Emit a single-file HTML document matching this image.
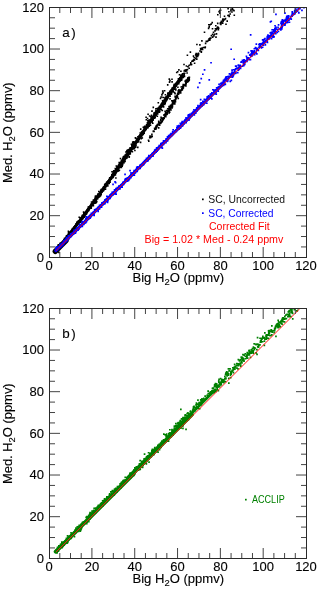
<!DOCTYPE html>
<html><head><meta charset="utf-8"><style>
html,body{margin:0;padding:0;background:#fff;}
body{width:320px;height:589px;overflow:hidden;}
svg{display:block;font-family:"Liberation Sans",sans-serif;will-change:transform;}
.tk{font-size:13px;fill:#000;stroke:#000;stroke-width:0.12px;}
.lb{font-size:12.5px;fill:#000;stroke:#000;stroke-width:0.12px;}
.sub{font-size:9px;}
.pl{font-size:13.4px;fill:#000;stroke:#000;stroke-width:0.12px;}
.lg{font-size:10.5px;}
</style></head><body>
<svg width="320" height="589" viewBox="0 0 320 589">
<defs><clipPath id="ca"><rect x="50" y="8" width="256" height="249"/></clipPath><clipPath id="cb"><rect x="50" y="309" width="256" height="249"/></clipPath></defs>
<g clip-path="url(#ca)">
<path d="M55.5 251 L60 246 L64.5 241 L65 240 L68.1 236 L71.2 232 L74.3 228 L77.4 224 L80.4 220 L83.4 216 L86.4 212 L89.4 208 L92.3 204 L95.2 200 L98.2 196 L101.1 192 L103.9 188 L106.8 184 L109.6 180 L112.5 176 L115.3 172" stroke="#000" stroke-width="3" fill="none" stroke-linecap="round"/>
<path d="M55.3 251.3L66 240.6" stroke="#000" stroke-width="5.4" fill="none" stroke-linecap="round"/>
<path d="M163 118.5 L168.8 110 L174.3 101 L180 91 L185 84" stroke="#000" stroke-width="1.0" fill="none" stroke-linecap="round"/>
<path d="M112.5 176 L115.3 172 L118.1 168 L120.9 164 L123.7 160 L126.5 156 L129.3 152 L132.1 148 L134.8 144 L137.6 140 L140.4 136 L143.1 132 L145.9 128 L148.7 124 L151.4 120 L154.2 116 L157 112 L159.8 108 L162.6 104 L165.3 100 L168.1 96 L170.9 92 L173.8 88 L176.6 84 L179.4 80 L182.3 76" stroke="#000" stroke-width="3.2" fill="none" stroke-linecap="round"/>
<path d="M136.8 141.3h1.6v1.6h-1.6zM144.8 126.6h1.6v1.6h-1.6zM88.3 205.9h1.6v1.6h-1.6zM71.8 227.7h1.6v1.6h-1.6zM72 229.1h1.6v1.6h-1.6zM84 212.9h1.6v1.6h-1.6zM149.1 122h1.6v1.6h-1.6zM61.2 243.8h1.6v1.6h-1.6zM132.4 142.7h1.6v1.6h-1.6zM143.8 128.8h1.6v1.6h-1.6zM139.8 141.6h1.6v1.6h-1.6zM112.1 174.5h1.6v1.6h-1.6zM107.6 181.1h1.6v1.6h-1.6zM54.2 249.5h1.6v1.6h-1.6zM68.8 233.4h1.6v1.6h-1.6zM70.9 229.6h1.6v1.6h-1.6zM77.2 222.7h1.6v1.6h-1.6zM195.8 55.8h1.6v1.6h-1.6zM154.7 114.5h1.6v1.6h-1.6zM80.4 220.2h1.6v1.6h-1.6zM76.9 223h1.6v1.6h-1.6zM110.7 177.6h1.6v1.6h-1.6zM94.3 200.6h1.6v1.6h-1.6zM73.1 226.3h1.6v1.6h-1.6zM94.3 199.6h1.6v1.6h-1.6zM108.3 178.8h1.6v1.6h-1.6zM72 229.3h1.6v1.6h-1.6zM123.2 161.5h1.6v1.6h-1.6zM157 110.5h1.6v1.6h-1.6zM101 190.9h1.6v1.6h-1.6zM91.9 204.1h1.6v1.6h-1.6zM129.6 147.7h1.6v1.6h-1.6zM62.6 241.6h1.6v1.6h-1.6zM102.9 189.6h1.6v1.6h-1.6zM161.2 105.4h1.6v1.6h-1.6zM68.9 235h1.6v1.6h-1.6zM153.6 113.7h1.6v1.6h-1.6zM217 26.3h1.6v1.6h-1.6zM57.8 246.3h1.6v1.6h-1.6zM87.7 208.6h1.6v1.6h-1.6zM155.1 110.1h1.6v1.6h-1.6zM82.1 218h1.6v1.6h-1.6zM57.8 245.8h1.6v1.6h-1.6zM57.5 244.1h1.6v1.6h-1.6zM139.4 132.2h1.6v1.6h-1.6zM71.4 234.5h1.6v1.6h-1.6zM120 166.6h1.6v1.6h-1.6zM128.6 148.6h1.6v1.6h-1.6zM164.3 97.1h1.6v1.6h-1.6zM69.7 231.3h1.6v1.6h-1.6zM183.3 72.4h1.6v1.6h-1.6zM132.5 142.7h1.6v1.6h-1.6zM71.6 231.4h1.6v1.6h-1.6zM141 133.7h1.6v1.6h-1.6zM163.6 100.5h1.6v1.6h-1.6zM109.8 178.1h1.6v1.6h-1.6zM93.1 202.7h1.6v1.6h-1.6zM133.2 142.7h1.6v1.6h-1.6zM114.4 171.8h1.6v1.6h-1.6zM159.2 108.9h1.6v1.6h-1.6zM81 218.7h1.6v1.6h-1.6zM104.3 183.2h1.6v1.6h-1.6zM135.7 141.2h1.6v1.6h-1.6zM112.8 175h1.6v1.6h-1.6zM69.2 233h1.6v1.6h-1.6zM110.9 176h1.6v1.6h-1.6zM58.4 245.8h1.6v1.6h-1.6zM201.5 47.8h1.6v1.6h-1.6zM80.7 216.7h1.6v1.6h-1.6zM175 82.7h1.6v1.6h-1.6zM140.8 135.7h1.6v1.6h-1.6zM181 76h1.6v1.6h-1.6zM104.4 184.9h1.6v1.6h-1.6zM162.6 99.7h1.6v1.6h-1.6zM126 155.5h1.6v1.6h-1.6zM79 219.6h1.6v1.6h-1.6zM124 160.2h1.6v1.6h-1.6zM168.9 90.6h1.6v1.6h-1.6zM96 200.8h1.6v1.6h-1.6zM150 119.5h1.6v1.6h-1.6zM113.4 173.6h1.6v1.6h-1.6zM70.1 230.6h1.6v1.6h-1.6zM152.4 116.2h1.6v1.6h-1.6zM197.8 52.8h1.6v1.6h-1.6zM195.3 54.4h1.6v1.6h-1.6zM82.1 217.9h1.6v1.6h-1.6zM147.6 125.3h1.6v1.6h-1.6zM222.2 18.2h1.6v1.6h-1.6zM95.4 197.4h1.6v1.6h-1.6zM112.5 176.2h1.6v1.6h-1.6zM94.1 201.3h1.6v1.6h-1.6zM156.3 110.6h1.6v1.6h-1.6zM150 119.8h1.6v1.6h-1.6zM126.8 153.4h1.6v1.6h-1.6zM154.6 113.2h1.6v1.6h-1.6zM150.3 119h1.6v1.6h-1.6zM104.6 186.2h1.6v1.6h-1.6zM140.7 135.2h1.6v1.6h-1.6zM90.6 205.1h1.6v1.6h-1.6zM192.3 59.8h1.6v1.6h-1.6zM90.6 204h1.6v1.6h-1.6zM118.3 164.1h1.6v1.6h-1.6zM75.2 226.1h1.6v1.6h-1.6zM101.3 190.8h1.6v1.6h-1.6zM148.5 120.8h1.6v1.6h-1.6zM149.7 122h1.6v1.6h-1.6zM92.1 201.4h1.6v1.6h-1.6zM205.5 40.6h1.6v1.6h-1.6zM112.6 175h1.6v1.6h-1.6zM215.2 36.3h1.6v1.6h-1.6zM98.8 193.2h1.6v1.6h-1.6zM194.8 57.7h1.6v1.6h-1.6zM127.9 153.4h1.6v1.6h-1.6zM227.1 14.7h1.6v1.6h-1.6zM143.5 126.4h1.6v1.6h-1.6zM89.8 205.4h1.6v1.6h-1.6zM74.1 224.9h1.6v1.6h-1.6zM155.4 111.5h1.6v1.6h-1.6zM90.1 207.3h1.6v1.6h-1.6zM216.9 22.6h1.6v1.6h-1.6zM65.7 235.1h1.6v1.6h-1.6zM114.4 171.9h1.6v1.6h-1.6zM146.5 125h1.6v1.6h-1.6zM88.4 207.3h1.6v1.6h-1.6zM185.6 69.9h1.6v1.6h-1.6zM146.7 126.1h1.6v1.6h-1.6zM165.3 96.2h1.6v1.6h-1.6zM101.7 188.2h1.6v1.6h-1.6zM189.9 63.4h1.6v1.6h-1.6zM116.4 167.8h1.6v1.6h-1.6zM56.3 247.3h1.6v1.6h-1.6zM96.8 194.4h1.6v1.6h-1.6zM171.9 87.3h1.6v1.6h-1.6zM148.6 119.9h1.6v1.6h-1.6zM228.1 11h1.6v1.6h-1.6zM101.2 188.4h1.6v1.6h-1.6zM64.4 238.5h1.6v1.6h-1.6zM101.1 190.5h1.6v1.6h-1.6zM153.8 117.3h1.6v1.6h-1.6zM197.6 52.5h1.6v1.6h-1.6zM162.8 106.1h1.6v1.6h-1.6zM85.1 212.8h1.6v1.6h-1.6zM86.1 210.1h1.6v1.6h-1.6zM148.4 122.1h1.6v1.6h-1.6zM120.2 161.7h1.6v1.6h-1.6zM105.9 181.9h1.6v1.6h-1.6zM108.8 179.3h1.6v1.6h-1.6zM84.2 213.4h1.6v1.6h-1.6zM125.1 156.1h1.6v1.6h-1.6zM68.6 233h1.6v1.6h-1.6zM132.6 146.8h1.6v1.6h-1.6zM147.9 123h1.6v1.6h-1.6zM161 102.6h1.6v1.6h-1.6zM92 201.5h1.6v1.6h-1.6zM147.5 121h1.6v1.6h-1.6zM136.8 140.2h1.6v1.6h-1.6zM158.3 108.6h1.6v1.6h-1.6zM183.4 70.2h1.6v1.6h-1.6zM76.5 223.7h1.6v1.6h-1.6zM118.5 162.8h1.6v1.6h-1.6zM159.7 106.1h1.6v1.6h-1.6zM100.1 190.5h1.6v1.6h-1.6zM62.6 241.3h1.6v1.6h-1.6zM166.2 99h1.6v1.6h-1.6zM152.3 119.4h1.6v1.6h-1.6zM153.4 116.8h1.6v1.6h-1.6zM122.4 160.4h1.6v1.6h-1.6zM69.6 233.4h1.6v1.6h-1.6zM190 62.1h1.6v1.6h-1.6zM114.1 172.2h1.6v1.6h-1.6zM133.1 147.9h1.6v1.6h-1.6zM70.5 232.6h1.6v1.6h-1.6zM154.7 112.7h1.6v1.6h-1.6zM191.1 60.4h1.6v1.6h-1.6zM94.7 199.9h1.6v1.6h-1.6zM106.8 182.7h1.6v1.6h-1.6zM119.2 163.8h1.6v1.6h-1.6zM112.8 174.1h1.6v1.6h-1.6zM100 190.7h1.6v1.6h-1.6zM126.7 155.2h1.6v1.6h-1.6zM91.2 204.2h1.6v1.6h-1.6zM86.9 207.9h1.6v1.6h-1.6zM211.9 36.3h1.6v1.6h-1.6zM151.7 118h1.6v1.6h-1.6zM195.4 52.8h1.6v1.6h-1.6zM70.5 230.4h1.6v1.6h-1.6zM71.6 231h1.6v1.6h-1.6zM170.8 92.8h1.6v1.6h-1.6zM94.4 197h1.6v1.6h-1.6zM125.6 154.9h1.6v1.6h-1.6zM142.6 130.2h1.6v1.6h-1.6zM146.6 121.9h1.6v1.6h-1.6zM130.2 148.5h1.6v1.6h-1.6zM119.7 157.7h1.6v1.6h-1.6zM92.2 201.4h1.6v1.6h-1.6zM67.8 237.9h1.6v1.6h-1.6zM76.5 223.4h1.6v1.6h-1.6zM66.4 235.6h1.6v1.6h-1.6zM158.8 108.3h1.6v1.6h-1.6zM89.1 206.6h1.6v1.6h-1.6zM97.7 193.9h1.6v1.6h-1.6zM88.9 206.2h1.6v1.6h-1.6zM86.6 209.2h1.6v1.6h-1.6zM103.3 188.6h1.6v1.6h-1.6zM151.4 116.6h1.6v1.6h-1.6zM64.5 238.9h1.6v1.6h-1.6zM148.3 121.7h1.6v1.6h-1.6zM173.9 91.8h1.6v1.6h-1.6zM56.2 247.1h1.6v1.6h-1.6zM85 213.7h1.6v1.6h-1.6zM113.8 173.3h1.6v1.6h-1.6zM103 186.1h1.6v1.6h-1.6zM84.2 215.6h1.6v1.6h-1.6zM70.5 231.1h1.6v1.6h-1.6zM180.3 74.6h1.6v1.6h-1.6zM217.5 27h1.6v1.6h-1.6zM199.8 47.8h1.6v1.6h-1.6zM84 212.9h1.6v1.6h-1.6zM112 175.9h1.6v1.6h-1.6zM138.7 137.2h1.6v1.6h-1.6zM120.6 164.1h1.6v1.6h-1.6zM138 138.7h1.6v1.6h-1.6zM57.1 247.3h1.6v1.6h-1.6zM154.3 112.5h1.6v1.6h-1.6zM56.9 248h1.6v1.6h-1.6zM163.3 99.7h1.6v1.6h-1.6zM122.4 159.4h1.6v1.6h-1.6zM126.3 156.1h1.6v1.6h-1.6zM101.8 188.9h1.6v1.6h-1.6zM181.8 73h1.6v1.6h-1.6zM201.2 48.6h1.6v1.6h-1.6zM88.4 207.8h1.6v1.6h-1.6zM72.1 229.4h1.6v1.6h-1.6zM128.4 152.2h1.6v1.6h-1.6zM146.1 126.1h1.6v1.6h-1.6zM122.6 155.9h1.6v1.6h-1.6zM127.7 149.8h1.6v1.6h-1.6zM59 246.5h1.6v1.6h-1.6zM117.5 168.4h1.6v1.6h-1.6zM146.2 126.9h1.6v1.6h-1.6zM85 213.4h1.6v1.6h-1.6zM117.9 164.9h1.6v1.6h-1.6zM82.1 217.4h1.6v1.6h-1.6zM91.3 203.4h1.6v1.6h-1.6zM166.4 97.8h1.6v1.6h-1.6zM157.5 110.1h1.6v1.6h-1.6zM114.1 170.8h1.6v1.6h-1.6zM78.7 221.5h1.6v1.6h-1.6zM79.4 217.7h1.6v1.6h-1.6zM154 113.7h1.6v1.6h-1.6zM77.6 221.2h1.6v1.6h-1.6zM100.4 193.8h1.6v1.6h-1.6zM201.3 47.2h1.6v1.6h-1.6zM61.1 243h1.6v1.6h-1.6zM170.5 89.1h1.6v1.6h-1.6zM122.3 157.2h1.6v1.6h-1.6zM197.2 54.3h1.6v1.6h-1.6zM82.3 217.1h1.6v1.6h-1.6zM155.2 111.1h1.6v1.6h-1.6zM155.6 111.9h1.6v1.6h-1.6zM168.1 93.6h1.6v1.6h-1.6zM138.4 136h1.6v1.6h-1.6zM142.5 133h1.6v1.6h-1.6zM126.8 150.3h1.6v1.6h-1.6zM154.2 111.7h1.6v1.6h-1.6zM132.2 145.5h1.6v1.6h-1.6zM112.9 173.1h1.6v1.6h-1.6zM185.6 65.2h1.6v1.6h-1.6zM160.8 106.2h1.6v1.6h-1.6zM145.2 128.7h1.6v1.6h-1.6zM64.4 238h1.6v1.6h-1.6zM110.5 176.7h1.6v1.6h-1.6zM99.6 195.1h1.6v1.6h-1.6zM129.2 147.4h1.6v1.6h-1.6zM94.4 196.5h1.6v1.6h-1.6zM72.9 226.8h1.6v1.6h-1.6zM78.1 221.2h1.6v1.6h-1.6zM99.6 192.1h1.6v1.6h-1.6zM114.7 172.9h1.6v1.6h-1.6zM125.3 153.6h1.6v1.6h-1.6zM160.6 109h1.6v1.6h-1.6zM111.1 176.6h1.6v1.6h-1.6zM138.7 135.2h1.6v1.6h-1.6zM215.7 33.1h1.6v1.6h-1.6zM141.5 137.2h1.6v1.6h-1.6zM90.7 201.2h1.6v1.6h-1.6zM90.6 205h1.6v1.6h-1.6zM183.2 73.2h1.6v1.6h-1.6zM180.1 75.6h1.6v1.6h-1.6zM132.5 141h1.6v1.6h-1.6zM95.9 197h1.6v1.6h-1.6zM88 207.1h1.6v1.6h-1.6zM123 161.1h1.6v1.6h-1.6zM96.4 195.3h1.6v1.6h-1.6zM107 185.1h1.6v1.6h-1.6zM135.2 144.6h1.6v1.6h-1.6zM148.6 120.8h1.6v1.6h-1.6zM100.5 190.1h1.6v1.6h-1.6zM71.4 230h1.6v1.6h-1.6zM105.3 183.1h1.6v1.6h-1.6zM89.6 206.2h1.6v1.6h-1.6zM137.4 138.3h1.6v1.6h-1.6zM123.6 157h1.6v1.6h-1.6zM153.6 115h1.6v1.6h-1.6zM120.1 163.8h1.6v1.6h-1.6zM143.8 126.7h1.6v1.6h-1.6zM224 18.7h1.6v1.6h-1.6zM162 101.7h1.6v1.6h-1.6zM134.1 143.9h1.6v1.6h-1.6zM97.1 193.2h1.6v1.6h-1.6zM95.4 197.5h1.6v1.6h-1.6zM160.6 104.8h1.6v1.6h-1.6zM156.7 111h1.6v1.6h-1.6zM58.6 246.5h1.6v1.6h-1.6zM132.6 145h1.6v1.6h-1.6zM69.8 234.3h1.6v1.6h-1.6zM156 111.9h1.6v1.6h-1.6zM81.7 215.4h1.6v1.6h-1.6zM62.7 240.2h1.6v1.6h-1.6zM102.7 186.6h1.6v1.6h-1.6zM71.8 229.8h1.6v1.6h-1.6zM85.1 212.8h1.6v1.6h-1.6zM66.3 235.9h1.6v1.6h-1.6zM227.9 14.5h1.6v1.6h-1.6zM142.7 131.8h1.6v1.6h-1.6zM136.3 139.9h1.6v1.6h-1.6zM62.9 241.6h1.6v1.6h-1.6zM125.3 155.2h1.6v1.6h-1.6zM134.1 149.7h1.6v1.6h-1.6zM97.6 195.8h1.6v1.6h-1.6zM150.7 114.5h1.6v1.6h-1.6zM121.1 162.9h1.6v1.6h-1.6zM62.6 241.2h1.6v1.6h-1.6zM116.7 167.5h1.6v1.6h-1.6zM124.4 154.5h1.6v1.6h-1.6zM95.3 199.6h1.6v1.6h-1.6zM89.1 206.9h1.6v1.6h-1.6zM94.8 199.5h1.6v1.6h-1.6zM111.9 176.9h1.6v1.6h-1.6zM207.4 39.8h1.6v1.6h-1.6zM123.5 157.6h1.6v1.6h-1.6zM104.4 184.2h1.6v1.6h-1.6zM87.5 206.3h1.6v1.6h-1.6zM182.5 76.6h1.6v1.6h-1.6zM120.9 163.8h1.6v1.6h-1.6zM215.3 28.9h1.6v1.6h-1.6zM114.5 173.7h1.6v1.6h-1.6zM114.6 172.6h1.6v1.6h-1.6zM146.7 123.7h1.6v1.6h-1.6zM63.2 241.3h1.6v1.6h-1.6zM160 104.9h1.6v1.6h-1.6zM152.4 118.6h1.6v1.6h-1.6zM179.4 77.6h1.6v1.6h-1.6zM81.4 214.8h1.6v1.6h-1.6zM105.5 182.8h1.6v1.6h-1.6zM208.6 39.4h1.6v1.6h-1.6zM108.1 180.3h1.6v1.6h-1.6zM59.8 244.9h1.6v1.6h-1.6zM156.1 113h1.6v1.6h-1.6zM94.6 198.8h1.6v1.6h-1.6zM208.2 38.2h1.6v1.6h-1.6zM131.3 146.6h1.6v1.6h-1.6zM66 236.1h1.6v1.6h-1.6zM106.6 183.8h1.6v1.6h-1.6zM127.9 153.5h1.6v1.6h-1.6zM99.7 193.7h1.6v1.6h-1.6zM117.5 168.5h1.6v1.6h-1.6zM179.5 80.1h1.6v1.6h-1.6zM126.2 156.4h1.6v1.6h-1.6zM65.6 237.9h1.6v1.6h-1.6zM158.4 107.3h1.6v1.6h-1.6zM59.9 245.3h1.6v1.6h-1.6zM103.1 187.9h1.6v1.6h-1.6zM164.8 101h1.6v1.6h-1.6zM121.9 163.9h1.6v1.6h-1.6zM128.1 150.5h1.6v1.6h-1.6zM105.8 184.5h1.6v1.6h-1.6zM215.5 28.1h1.6v1.6h-1.6zM80.1 218.1h1.6v1.6h-1.6zM229.4 13.2h1.6v1.6h-1.6zM90.3 204.4h1.6v1.6h-1.6zM54.5 249.6h1.6v1.6h-1.6zM124.4 154.2h1.6v1.6h-1.6zM152.3 116.9h1.6v1.6h-1.6zM155.2 114.4h1.6v1.6h-1.6zM117.4 166.7h1.6v1.6h-1.6zM111.5 174.8h1.6v1.6h-1.6zM83.6 211.9h1.6v1.6h-1.6zM141.8 130.8h1.6v1.6h-1.6zM98.8 194h1.6v1.6h-1.6zM113.5 171.9h1.6v1.6h-1.6zM66.9 235.6h1.6v1.6h-1.6zM74.7 226.8h1.6v1.6h-1.6zM85.6 212.2h1.6v1.6h-1.6zM208.7 38.1h1.6v1.6h-1.6zM182.4 76.3h1.6v1.6h-1.6zM180.5 75h1.6v1.6h-1.6zM156.9 113.1h1.6v1.6h-1.6zM78.1 220.7h1.6v1.6h-1.6zM88.7 206.2h1.6v1.6h-1.6zM159.2 108h1.6v1.6h-1.6zM176.2 82.4h1.6v1.6h-1.6zM169.2 98.1h1.6v1.6h-1.6zM63.5 238.5h1.6v1.6h-1.6zM76.9 222.3h1.6v1.6h-1.6zM233.2 9.8h1.6v1.6h-1.6zM114 170.4h1.6v1.6h-1.6zM121.9 160h1.6v1.6h-1.6zM105.8 181.7h1.6v1.6h-1.6zM195.1 54.1h1.6v1.6h-1.6zM87.8 209.1h1.6v1.6h-1.6zM141.7 131.6h1.6v1.6h-1.6zM113.3 172.3h1.6v1.6h-1.6zM165.3 97.7h1.6v1.6h-1.6zM96.4 195.8h1.6v1.6h-1.6zM65.1 238.8h1.6v1.6h-1.6zM67.6 230.4h1.6v1.6h-1.6zM92.5 202.4h1.6v1.6h-1.6zM141.6 133h1.6v1.6h-1.6zM65.3 236.5h1.6v1.6h-1.6zM106.8 184.9h1.6v1.6h-1.6zM131.9 141.4h1.6v1.6h-1.6zM183.4 73.7h1.6v1.6h-1.6zM77.2 222.4h1.6v1.6h-1.6zM119.3 163.5h1.6v1.6h-1.6zM57.5 248.5h1.6v1.6h-1.6zM223.7 15.5h1.6v1.6h-1.6zM126.4 153.6h1.6v1.6h-1.6zM231.2 11.2h1.6v1.6h-1.6zM179.1 77.9h1.6v1.6h-1.6zM215.5 28.1h1.6v1.6h-1.6zM124.5 156.3h1.6v1.6h-1.6zM120.2 162h1.6v1.6h-1.6zM73.1 228.6h1.6v1.6h-1.6zM185.8 69.1h1.6v1.6h-1.6zM173.9 83.4h1.6v1.6h-1.6zM74.4 225.2h1.6v1.6h-1.6zM57.1 248.5h1.6v1.6h-1.6zM125.1 151.2h1.6v1.6h-1.6zM92.3 201.4h1.6v1.6h-1.6zM114.6 174.2h1.6v1.6h-1.6zM133.7 147.4h1.6v1.6h-1.6zM95.2 197.9h1.6v1.6h-1.6zM104.4 184.6h1.6v1.6h-1.6zM89.2 207.1h1.6v1.6h-1.6zM167.1 95.4h1.6v1.6h-1.6zM167.3 92.2h1.6v1.6h-1.6zM143.5 126.7h1.6v1.6h-1.6zM76.1 223.3h1.6v1.6h-1.6zM171.5 87.2h1.6v1.6h-1.6zM123.2 156.7h1.6v1.6h-1.6zM145.9 124.6h1.6v1.6h-1.6zM164.8 96.6h1.6v1.6h-1.6zM219.5 22.8h1.6v1.6h-1.6zM138.5 136.6h1.6v1.6h-1.6zM126.4 152.5h1.6v1.6h-1.6zM78.1 220.1h1.6v1.6h-1.6zM231.8 8.7h1.6v1.6h-1.6zM100.1 189.8h1.6v1.6h-1.6zM208.3 39.4h1.6v1.6h-1.6zM106.7 183.8h1.6v1.6h-1.6zM99.6 192.8h1.6v1.6h-1.6zM152.6 116.7h1.6v1.6h-1.6zM120.4 161.7h1.6v1.6h-1.6zM62.9 242.6h1.6v1.6h-1.6zM76 222h1.6v1.6h-1.6zM123.3 155.4h1.6v1.6h-1.6zM67.6 232.9h1.6v1.6h-1.6zM93.8 201.7h1.6v1.6h-1.6zM90.6 202.9h1.6v1.6h-1.6zM131.7 145.7h1.6v1.6h-1.6zM167 97.2h1.6v1.6h-1.6zM161.9 103.4h1.6v1.6h-1.6zM79.4 220.1h1.6v1.6h-1.6zM120.9 165.1h1.6v1.6h-1.6zM184.8 70.5h1.6v1.6h-1.6zM111.8 176.2h1.6v1.6h-1.6zM132.1 148.2h1.6v1.6h-1.6zM126.1 149.8h1.6v1.6h-1.6zM117.4 166.8h1.6v1.6h-1.6zM97.8 194h1.6v1.6h-1.6zM108.4 182.6h1.6v1.6h-1.6zM134.5 141.2h1.6v1.6h-1.6zM134.2 143.8h1.6v1.6h-1.6zM108 179.9h1.6v1.6h-1.6zM128.2 150.3h1.6v1.6h-1.6zM212.7 31.4h1.6v1.6h-1.6zM160 106.6h1.6v1.6h-1.6zM74.1 227.4h1.6v1.6h-1.6zM122.9 160.3h1.6v1.6h-1.6zM175 88.3h1.6v1.6h-1.6zM58.5 244.2h1.6v1.6h-1.6zM137.9 135.9h1.6v1.6h-1.6zM67.7 235h1.6v1.6h-1.6zM127.6 153.7h1.6v1.6h-1.6zM95.4 201.9h1.6v1.6h-1.6zM81.6 216.6h1.6v1.6h-1.6zM85.6 210.6h1.6v1.6h-1.6zM101.2 189.6h1.6v1.6h-1.6zM76.2 221.3h1.6v1.6h-1.6zM59.1 247.7h1.6v1.6h-1.6zM59.1 244.4h1.6v1.6h-1.6zM151.4 120.8h1.6v1.6h-1.6zM110.5 178.5h1.6v1.6h-1.6zM78.4 221.1h1.6v1.6h-1.6zM146.4 126h1.6v1.6h-1.6zM191.9 60.2h1.6v1.6h-1.6zM95.1 198.6h1.6v1.6h-1.6zM154.2 114.6h1.6v1.6h-1.6zM204.8 42.6h1.6v1.6h-1.6zM129.5 153.1h1.6v1.6h-1.6zM127.3 149h1.6v1.6h-1.6zM83.4 213.9h1.6v1.6h-1.6zM83 212.5h1.6v1.6h-1.6zM60 243.4h1.6v1.6h-1.6zM65.7 240.6h1.6v1.6h-1.6zM70.8 232.9h1.6v1.6h-1.6zM115.4 171.9h1.6v1.6h-1.6zM143.5 128.2h1.6v1.6h-1.6zM185.9 70.1h1.6v1.6h-1.6zM120.4 161h1.6v1.6h-1.6zM132.2 146.2h1.6v1.6h-1.6zM65.1 239.4h1.6v1.6h-1.6zM152.6 117.4h1.6v1.6h-1.6zM95.5 197h1.6v1.6h-1.6zM141.8 133.2h1.6v1.6h-1.6zM56.6 248.3h1.6v1.6h-1.6zM160 105.7h1.6v1.6h-1.6zM120.3 161.8h1.6v1.6h-1.6zM163.3 102.2h1.6v1.6h-1.6zM111 173.8h1.6v1.6h-1.6zM64.9 238h1.6v1.6h-1.6zM101.2 190.2h1.6v1.6h-1.6zM106.3 181.3h1.6v1.6h-1.6zM71.3 230.6h1.6v1.6h-1.6zM112 173.7h1.6v1.6h-1.6zM66.6 237.8h1.6v1.6h-1.6zM153.3 116.2h1.6v1.6h-1.6zM169.3 95.5h1.6v1.6h-1.6zM157 108.6h1.6v1.6h-1.6zM183.8 69.5h1.6v1.6h-1.6zM215 25h1.6v1.6h-1.6zM192.9 59.5h1.6v1.6h-1.6zM134.1 141.2h1.6v1.6h-1.6zM77 222.6h1.6v1.6h-1.6zM76.4 222.9h1.6v1.6h-1.6zM75.6 223.3h1.6v1.6h-1.6zM156.5 115.4h1.6v1.6h-1.6zM92.6 199.2h1.6v1.6h-1.6zM77.7 221.1h1.6v1.6h-1.6zM138.4 135.1h1.6v1.6h-1.6zM143.3 130.7h1.6v1.6h-1.6zM126 157.5h1.6v1.6h-1.6zM86.5 211.4h1.6v1.6h-1.6zM92.5 202.5h1.6v1.6h-1.6zM160.4 106.7h1.6v1.6h-1.6zM125.3 156.8h1.6v1.6h-1.6zM157.6 107.5h1.6v1.6h-1.6zM177.9 79.9h1.6v1.6h-1.6zM158.4 111.3h1.6v1.6h-1.6zM66.4 234.9h1.6v1.6h-1.6zM133.5 146.3h1.6v1.6h-1.6zM155.1 114.7h1.6v1.6h-1.6zM141.2 131.7h1.6v1.6h-1.6zM187.2 65.9h1.6v1.6h-1.6zM62.9 243.3h1.6v1.6h-1.6zM155.4 111.8h1.6v1.6h-1.6zM197.7 53.9h1.6v1.6h-1.6zM193.7 59.1h1.6v1.6h-1.6zM164 102.4h1.6v1.6h-1.6zM178 83h1.6v1.6h-1.6zM107.6 180.3h1.6v1.6h-1.6zM183.2 72.8h1.6v1.6h-1.6zM150.6 119.7h1.6v1.6h-1.6zM108.8 180.4h1.6v1.6h-1.6zM105.2 185.4h1.6v1.6h-1.6zM105.8 184h1.6v1.6h-1.6zM162.4 101.5h1.6v1.6h-1.6zM193.8 62.5h1.6v1.6h-1.6zM121.1 163.4h1.6v1.6h-1.6zM97.1 194.1h1.6v1.6h-1.6zM156.4 113.2h1.6v1.6h-1.6zM98.7 195.8h1.6v1.6h-1.6zM172.5 90.9h1.6v1.6h-1.6zM214.2 30.1h1.6v1.6h-1.6zM209 37.4h1.6v1.6h-1.6zM173.8 88.5h1.6v1.6h-1.6zM147.8 123.7h1.6v1.6h-1.6zM147.7 121.5h1.6v1.6h-1.6zM143.7 129h1.6v1.6h-1.6zM179 77.9h1.6v1.6h-1.6zM141.8 132.1h1.6v1.6h-1.6zM79.6 218.1h1.6v1.6h-1.6zM59.6 246.4h1.6v1.6h-1.6zM158.6 105.7h1.6v1.6h-1.6zM219.6 22.3h1.6v1.6h-1.6zM147.7 124.4h1.6v1.6h-1.6zM59.6 244.9h1.6v1.6h-1.6zM147.4 124h1.6v1.6h-1.6zM53.8 249.1h1.6v1.6h-1.6zM116.8 170.3h1.6v1.6h-1.6zM103 187.6h1.6v1.6h-1.6zM148 122h1.6v1.6h-1.6zM97.3 193.9h1.6v1.6h-1.6zM87.5 208.6h1.6v1.6h-1.6zM99.4 194h1.6v1.6h-1.6zM102.5 188h1.6v1.6h-1.6zM90.4 207.5h1.6v1.6h-1.6zM109.6 177.8h1.6v1.6h-1.6zM68.8 231.3h1.6v1.6h-1.6zM98 190.7h1.6v1.6h-1.6zM123.2 161.9h1.6v1.6h-1.6zM125 157.1h1.6v1.6h-1.6zM114.5 167.8h1.6v1.6h-1.6zM122 157.8h1.6v1.6h-1.6zM139 134.2h1.6v1.6h-1.6zM57.3 247h1.6v1.6h-1.6zM217.2 27.6h1.6v1.6h-1.6zM94.3 202.5h1.6v1.6h-1.6zM116.2 167.6h1.6v1.6h-1.6zM81.7 217.2h1.6v1.6h-1.6zM80.1 218.2h1.6v1.6h-1.6zM121.7 160.3h1.6v1.6h-1.6zM70 234.8h1.6v1.6h-1.6zM117.5 166.5h1.6v1.6h-1.6zM78.3 221.7h1.6v1.6h-1.6zM151 118.9h1.6v1.6h-1.6zM221.9 18.8h1.6v1.6h-1.6zM95.5 196.9h1.6v1.6h-1.6zM85.7 213.1h1.6v1.6h-1.6zM156.4 112.3h1.6v1.6h-1.6zM134.6 137.1h1.6v1.6h-1.6zM90.3 205.1h1.6v1.6h-1.6zM189.5 64h1.6v1.6h-1.6zM65.3 238.7h1.6v1.6h-1.6zM94.8 200.6h1.6v1.6h-1.6zM94.4 197.3h1.6v1.6h-1.6zM138 137.5h1.6v1.6h-1.6zM58.2 247.2h1.6v1.6h-1.6zM164.6 99.6h1.6v1.6h-1.6zM139 135.3h1.6v1.6h-1.6zM130.5 150h1.6v1.6h-1.6zM137.8 139.1h1.6v1.6h-1.6zM210.6 34.9h1.6v1.6h-1.6zM145.4 126.6h1.6v1.6h-1.6zM183.2 74h1.6v1.6h-1.6zM159.1 108.6h1.6v1.6h-1.6zM73 227.5h1.6v1.6h-1.6zM115.5 165.2h1.6v1.6h-1.6zM146.5 125.3h1.6v1.6h-1.6zM54.9 249.7h1.6v1.6h-1.6zM72.7 229.9h1.6v1.6h-1.6zM141.6 133.9h1.6v1.6h-1.6zM134 142.9h1.6v1.6h-1.6zM196.9 55.6h1.6v1.6h-1.6zM100.5 188.7h1.6v1.6h-1.6zM142.5 126.4h1.6v1.6h-1.6zM141.5 130.8h1.6v1.6h-1.6zM107.2 180.2h1.6v1.6h-1.6zM91.2 203.6h1.6v1.6h-1.6zM196.7 54.9h1.6v1.6h-1.6zM99.2 191.7h1.6v1.6h-1.6zM58.7 244.6h1.6v1.6h-1.6zM164.4 102.4h1.6v1.6h-1.6zM68.6 236.4h1.6v1.6h-1.6zM90.5 207h1.6v1.6h-1.6zM165.1 98.4h1.6v1.6h-1.6zM155.5 111.5h1.6v1.6h-1.6zM124.7 157.9h1.6v1.6h-1.6zM195.5 56.1h1.6v1.6h-1.6zM112.6 174.6h1.6v1.6h-1.6zM115.7 171.4h1.6v1.6h-1.6zM217.6 29h1.6v1.6h-1.6zM115 169.9h1.6v1.6h-1.6zM149.7 124.5h1.6v1.6h-1.6zM150.5 120.3h1.6v1.6h-1.6zM186.7 68.7h1.6v1.6h-1.6zM100 193.3h1.6v1.6h-1.6zM67.7 233.7h1.6v1.6h-1.6zM130.2 150.7h1.6v1.6h-1.6zM98.4 194.4h1.6v1.6h-1.6zM132.4 145.4h1.6v1.6h-1.6zM211.7 27.9h1.6v1.6h-1.6zM147.9 121.4h1.6v1.6h-1.6zM190.8 63.7h1.6v1.6h-1.6zM105.3 185.5h1.6v1.6h-1.6zM183.3 72.9h1.6v1.6h-1.6zM131 144.7h1.6v1.6h-1.6zM139.9 135.3h1.6v1.6h-1.6zM68.3 233.7h1.6v1.6h-1.6zM178.2 81.2h1.6v1.6h-1.6zM157.3 111.2h1.6v1.6h-1.6zM126.8 152.5h1.6v1.6h-1.6zM63 239.3h1.6v1.6h-1.6zM78.8 219.9h1.6v1.6h-1.6zM68.7 233.4h1.6v1.6h-1.6zM140.4 137.9h1.6v1.6h-1.6zM141.2 131.8h1.6v1.6h-1.6zM112.6 174.8h1.6v1.6h-1.6zM95.9 197.9h1.6v1.6h-1.6zM143.9 125.6h1.6v1.6h-1.6zM102.8 189.3h1.6v1.6h-1.6zM179.2 76.9h1.6v1.6h-1.6zM136.7 141h1.6v1.6h-1.6zM164.7 97.8h1.6v1.6h-1.6zM137.8 141h1.6v1.6h-1.6zM124.3 160.7h1.6v1.6h-1.6zM126.8 153.1h1.6v1.6h-1.6zM185.3 69.1h1.6v1.6h-1.6zM130.6 143.4h1.6v1.6h-1.6zM94.7 195.2h1.6v1.6h-1.6zM116.1 167.6h1.6v1.6h-1.6zM58.1 246.5h1.6v1.6h-1.6zM162.8 100.2h1.6v1.6h-1.6zM127.2 154.5h1.6v1.6h-1.6zM67.6 237.5h1.6v1.6h-1.6zM124.9 155.5h1.6v1.6h-1.6zM99.9 189.4h1.6v1.6h-1.6zM155 114h1.6v1.6h-1.6zM192.7 59.6h1.6v1.6h-1.6zM104.3 184.1h1.6v1.6h-1.6zM85.8 210.7h1.6v1.6h-1.6zM107.3 180.8h1.6v1.6h-1.6zM162.4 102.8h1.6v1.6h-1.6zM147 120h1.6v1.6h-1.6zM117.6 164.7h1.6v1.6h-1.6zM68.8 232.5h1.6v1.6h-1.6zM103.9 184.1h1.6v1.6h-1.6zM149.4 118.9h1.6v1.6h-1.6zM83.3 215.7h1.6v1.6h-1.6zM100.9 190.8h1.6v1.6h-1.6zM103.4 187.2h1.6v1.6h-1.6zM178.5 81.1h1.6v1.6h-1.6zM92.7 199.2h1.6v1.6h-1.6zM178.8 79.9h1.6v1.6h-1.6zM139 135h1.6v1.6h-1.6zM132.8 142.5h1.6v1.6h-1.6zM230 9.8h1.6v1.6h-1.6zM96.9 197.9h1.6v1.6h-1.6zM118.6 169.5h1.6v1.6h-1.6zM133.4 146.8h1.6v1.6h-1.6zM86.2 209.3h1.6v1.6h-1.6zM181 78.8h1.6v1.6h-1.6zM95.7 195.7h1.6v1.6h-1.6zM97.9 196.5h1.6v1.6h-1.6zM67.1 236h1.6v1.6h-1.6zM151.6 118.3h1.6v1.6h-1.6zM118.9 165.3h1.6v1.6h-1.6zM161.6 104.3h1.6v1.6h-1.6zM59 245.6h1.6v1.6h-1.6zM87.1 208.1h1.6v1.6h-1.6zM112.5 172.2h1.6v1.6h-1.6zM107.2 180.7h1.6v1.6h-1.6zM101 191.2h1.6v1.6h-1.6zM102.3 187.7h1.6v1.6h-1.6zM104.8 186.6h1.6v1.6h-1.6zM147.2 126.8h1.6v1.6h-1.6zM128 149.7h1.6v1.6h-1.6zM143.5 127h1.6v1.6h-1.6zM96 196.8h1.6v1.6h-1.6zM109.9 178.2h1.6v1.6h-1.6zM106.1 181.2h1.6v1.6h-1.6zM128.5 155.8h1.6v1.6h-1.6zM67.7 232h1.6v1.6h-1.6zM147.3 125.7h1.6v1.6h-1.6zM230.3 8.8h1.6v1.6h-1.6zM232.2 9.2h1.6v1.6h-1.6zM168.7 94.8h1.6v1.6h-1.6zM153.2 112.3h1.6v1.6h-1.6zM160.4 106.5h1.6v1.6h-1.6zM87.8 209.8h1.6v1.6h-1.6zM94.3 198.3h1.6v1.6h-1.6zM150.3 117.2h1.6v1.6h-1.6zM57.9 245.8h1.6v1.6h-1.6zM172.4 91.1h1.6v1.6h-1.6zM115.9 170.3h1.6v1.6h-1.6zM153.6 113.9h1.6v1.6h-1.6zM188.2 64.7h1.6v1.6h-1.6zM61.9 242.8h1.6v1.6h-1.6zM61 243.8h1.6v1.6h-1.6zM139.1 135.2h1.6v1.6h-1.6zM201.8 48.7h1.6v1.6h-1.6zM220 21.8h1.6v1.6h-1.6zM200.1 49h1.6v1.6h-1.6zM178.7 74h1.6v1.6h-1.6zM99 193.1h1.6v1.6h-1.6zM67.5 235h1.6v1.6h-1.6zM166.7 97.7h1.6v1.6h-1.6zM65.6 236.2h1.6v1.6h-1.6zM64.8 239.5h1.6v1.6h-1.6zM113.5 170.1h1.6v1.6h-1.6zM87.5 206.9h1.6v1.6h-1.6zM143.3 128.5h1.6v1.6h-1.6zM89.8 205.1h1.6v1.6h-1.6zM70.1 232.4h1.6v1.6h-1.6zM138.6 136.9h1.6v1.6h-1.6zM164.6 99.3h1.6v1.6h-1.6zM63.8 237.6h1.6v1.6h-1.6zM82.6 215.5h1.6v1.6h-1.6zM71.3 230.1h1.6v1.6h-1.6zM217.9 27.4h1.6v1.6h-1.6zM90.6 205.2h1.6v1.6h-1.6zM92.1 202.8h1.6v1.6h-1.6zM150.6 120.4h1.6v1.6h-1.6zM82.1 214.5h1.6v1.6h-1.6zM139.5 135.2h1.6v1.6h-1.6zM163.7 100.3h1.6v1.6h-1.6zM125.6 155.6h1.6v1.6h-1.6zM220.6 20.5h1.6v1.6h-1.6zM123 161.2h1.6v1.6h-1.6zM215.6 28.8h1.6v1.6h-1.6zM89.8 206.6h1.6v1.6h-1.6zM76 223.8h1.6v1.6h-1.6zM118.4 161.7h1.6v1.6h-1.6zM159 111h1.6v1.6h-1.6zM81.7 216.4h1.6v1.6h-1.6zM155 113h1.6v1.6h-1.6zM165.8 96.7h1.6v1.6h-1.6zM113.7 172.9h1.6v1.6h-1.6zM103.6 188h1.6v1.6h-1.6zM177.8 81.2h1.6v1.6h-1.6zM153.2 114.4h1.6v1.6h-1.6zM55.5 250.4h1.6v1.6h-1.6zM105.1 184.4h1.6v1.6h-1.6zM167.5 94.6h1.6v1.6h-1.6zM140.1 133h1.6v1.6h-1.6zM129.8 148h1.6v1.6h-1.6zM176.5 83.3h1.6v1.6h-1.6zM92.5 202.1h1.6v1.6h-1.6zM129.4 150.3h1.6v1.6h-1.6zM66.7 237.4h1.6v1.6h-1.6zM152.4 117.1h1.6v1.6h-1.6zM121.9 160.4h1.6v1.6h-1.6zM96.9 195.5h1.6v1.6h-1.6zM84.6 211.8h1.6v1.6h-1.6zM161.6 103.1h1.6v1.6h-1.6zM116.5 166.9h1.6v1.6h-1.6zM156.7 107.6h1.6v1.6h-1.6zM106.7 181.2h1.6v1.6h-1.6zM56.4 247.3h1.6v1.6h-1.6zM102.3 186.7h1.6v1.6h-1.6zM66.1 236.7h1.6v1.6h-1.6zM164 103.5h1.6v1.6h-1.6zM107.7 180.7h1.6v1.6h-1.6zM143.3 126.3h1.6v1.6h-1.6zM142.5 133.7h1.6v1.6h-1.6zM140.8 134.1h1.6v1.6h-1.6zM126.7 153.7h1.6v1.6h-1.6zM175.2 85.2h1.6v1.6h-1.6zM162.3 104.1h1.6v1.6h-1.6zM133.1 141.7h1.6v1.6h-1.6zM95.2 200.3h1.6v1.6h-1.6zM80.5 219.8h1.6v1.6h-1.6zM66.5 234.8h1.6v1.6h-1.6zM94.1 199.3h1.6v1.6h-1.6zM81.6 216.2h1.6v1.6h-1.6zM75 224.4h1.6v1.6h-1.6zM92.4 200.8h1.6v1.6h-1.6zM161.1 102.8h1.6v1.6h-1.6zM94.7 201.7h1.6v1.6h-1.6zM69.7 233.8h1.6v1.6h-1.6zM112.7 173.1h1.6v1.6h-1.6zM63.4 241.5h1.6v1.6h-1.6zM101.1 191.3h1.6v1.6h-1.6zM112.5 174h1.6v1.6h-1.6zM114.8 168.5h1.6v1.6h-1.6zM138.2 138.2h1.6v1.6h-1.6zM169.2 93.3h1.6v1.6h-1.6zM122.7 162.2h1.6v1.6h-1.6zM78.8 219.9h1.6v1.6h-1.6zM161 104.7h1.6v1.6h-1.6zM126.7 151.1h1.6v1.6h-1.6zM121.5 159.3h1.6v1.6h-1.6zM119.6 166.1h1.6v1.6h-1.6zM124.4 157.1h1.6v1.6h-1.6zM74.4 227.2h1.6v1.6h-1.6zM123.9 159.6h1.6v1.6h-1.6zM213.8 33.5h1.6v1.6h-1.6zM101.7 189.6h1.6v1.6h-1.6zM120.6 166.6h1.6v1.6h-1.6zM91.7 202h1.6v1.6h-1.6zM183.9 72.5h1.6v1.6h-1.6zM114.2 172h1.6v1.6h-1.6zM57.9 247h1.6v1.6h-1.6zM161.9 105.1h1.6v1.6h-1.6zM119 165.3h1.6v1.6h-1.6zM120.7 164.2h1.6v1.6h-1.6zM77.9 220.2h1.6v1.6h-1.6zM72.2 229.4h1.6v1.6h-1.6zM128.9 151.2h1.6v1.6h-1.6zM139.1 135.4h1.6v1.6h-1.6zM148.6 121.1h1.6v1.6h-1.6zM146.2 124.7h1.6v1.6h-1.6zM71.6 228.1h1.6v1.6h-1.6zM64.6 239.8h1.6v1.6h-1.6zM133.3 143.8h1.6v1.6h-1.6zM155.2 113h1.6v1.6h-1.6zM54.4 249.5h1.6v1.6h-1.6zM72.9 228.9h1.6v1.6h-1.6zM173.1 87.7h1.6v1.6h-1.6zM146.8 123.3h1.6v1.6h-1.6zM174.4 85.5h1.6v1.6h-1.6zM79.8 217.3h1.6v1.6h-1.6zM55.1 249.4h1.6v1.6h-1.6zM84.8 213h1.6v1.6h-1.6zM221.1 21.9h1.6v1.6h-1.6zM77.6 222.1h1.6v1.6h-1.6zM80.1 221.3h1.6v1.6h-1.6zM98.9 192.6h1.6v1.6h-1.6zM131.6 143.3h1.6v1.6h-1.6zM137.1 135.9h1.6v1.6h-1.6zM180.9 76.9h1.6v1.6h-1.6zM156.3 112.9h1.6v1.6h-1.6zM120 163.9h1.6v1.6h-1.6zM71.1 232.7h1.6v1.6h-1.6zM60.4 243.1h1.6v1.6h-1.6zM122.2 162h1.6v1.6h-1.6zM88.2 209h1.6v1.6h-1.6zM57.9 246.9h1.6v1.6h-1.6zM196 58.3h1.6v1.6h-1.6zM90 205.5h1.6v1.6h-1.6zM108.9 176.9h1.6v1.6h-1.6zM119.3 164.9h1.6v1.6h-1.6zM160.6 103.3h1.6v1.6h-1.6zM221.9 22.3h1.6v1.6h-1.6zM197 53.8h1.6v1.6h-1.6zM110.5 178h1.6v1.6h-1.6zM91.7 201.2h1.6v1.6h-1.6zM64.4 238.5h1.6v1.6h-1.6zM200.6 50.9h1.6v1.6h-1.6zM99.7 191.5h1.6v1.6h-1.6zM67.3 236h1.6v1.6h-1.6zM127.9 149.9h1.6v1.6h-1.6zM108.4 180.9h1.6v1.6h-1.6zM173.1 85h1.6v1.6h-1.6zM104.3 185.7h1.6v1.6h-1.6zM109 179.2h1.6v1.6h-1.6zM140.8 133.7h1.6v1.6h-1.6zM134.8 143.1h1.6v1.6h-1.6zM142.9 130.6h1.6v1.6h-1.6zM148 119.4h1.6v1.6h-1.6zM206.4 40.7h1.6v1.6h-1.6zM161.9 105.2h1.6v1.6h-1.6zM122.9 160h1.6v1.6h-1.6zM86.1 211.8h1.6v1.6h-1.6zM143.4 132.4h1.6v1.6h-1.6zM111.2 176.9h1.6v1.6h-1.6zM192.1 60.5h1.6v1.6h-1.6zM70.2 231.4h1.6v1.6h-1.6zM61.3 242.5h1.6v1.6h-1.6zM117.8 170.1h1.6v1.6h-1.6zM77.2 220.4h1.6v1.6h-1.6zM105.3 185.2h1.6v1.6h-1.6zM129.1 151.5h1.6v1.6h-1.6zM134.9 146.3h1.6v1.6h-1.6zM96.3 195.5h1.6v1.6h-1.6zM136.4 138.4h1.6v1.6h-1.6zM58.3 245.5h1.6v1.6h-1.6zM93.6 200.5h1.6v1.6h-1.6zM98.2 193.6h1.6v1.6h-1.6zM104.7 188.5h1.6v1.6h-1.6zM145.1 126.2h1.6v1.6h-1.6zM147.7 122.2h1.6v1.6h-1.6zM83.1 216.3h1.6v1.6h-1.6zM95.4 201.1h1.6v1.6h-1.6zM154.8 111.9h1.6v1.6h-1.6zM204.3 46.8h1.6v1.6h-1.6zM142.5 132.2h1.6v1.6h-1.6zM177.2 80.8h1.6v1.6h-1.6zM92.6 201.4h1.6v1.6h-1.6zM74.9 224.5h1.6v1.6h-1.6zM96.9 196.5h1.6v1.6h-1.6zM130.7 150.6h1.6v1.6h-1.6zM58.4 245.1h1.6v1.6h-1.6zM162 101.4h1.6v1.6h-1.6zM115.7 168.2h1.6v1.6h-1.6zM171.4 87.6h1.6v1.6h-1.6zM135.2 137.6h1.6v1.6h-1.6zM164.5 101.1h1.6v1.6h-1.6zM119.5 162h1.6v1.6h-1.6zM55.9 246.7h1.6v1.6h-1.6zM128.3 156.5h1.6v1.6h-1.6zM176.6 81.4h1.6v1.6h-1.6zM78.8 221.5h1.6v1.6h-1.6zM129.4 147h1.6v1.6h-1.6zM92.6 204.9h1.6v1.6h-1.6zM96.1 196.1h1.6v1.6h-1.6zM109.3 181.3h1.6v1.6h-1.6zM147.8 122.7h1.6v1.6h-1.6zM118 166.1h1.6v1.6h-1.6zM65.4 237.5h1.6v1.6h-1.6zM83 212.1h1.6v1.6h-1.6zM79.5 218.2h1.6v1.6h-1.6zM68.2 234h1.6v1.6h-1.6zM102.1 188h1.6v1.6h-1.6zM113.8 174h1.6v1.6h-1.6zM102 190.3h1.6v1.6h-1.6zM69.7 233.1h1.6v1.6h-1.6zM223.1 19.1h1.6v1.6h-1.6zM54.2 249.3h1.6v1.6h-1.6zM199.1 50.2h1.6v1.6h-1.6zM178.6 79.5h1.6v1.6h-1.6zM148.1 122.1h1.6v1.6h-1.6zM181.4 73.7h1.6v1.6h-1.6zM112.9 170h1.6v1.6h-1.6zM147.5 121.8h1.6v1.6h-1.6zM117.3 165.6h1.6v1.6h-1.6zM188.4 67.4h1.6v1.6h-1.6zM159.6 107h1.6v1.6h-1.6zM163.8 101.4h1.6v1.6h-1.6zM224.7 17.8h1.6v1.6h-1.6zM83.6 216.5h1.6v1.6h-1.6zM139.9 128.3h1.6v1.6h-1.6zM115.1 177.2h1.6v1.6h-1.6zM152 122.5h1.6v1.6h-1.6zM210 37.3h1.6v1.6h-1.6zM177.6 78h1.6v1.6h-1.6zM180.1 70.5h1.6v1.6h-1.6zM216.6 26.7h1.6v1.6h-1.6zM121.3 161.2h1.6v1.6h-1.6zM118 164.6h1.6v1.6h-1.6zM133.5 146h1.6v1.6h-1.6zM170.6 89.3h1.6v1.6h-1.6zM133.8 143.3h1.6v1.6h-1.6zM192.7 55.3h1.6v1.6h-1.6zM180.3 75.2h1.6v1.6h-1.6zM178.2 81.2h1.6v1.6h-1.6zM131.6 150.9h1.6v1.6h-1.6zM201.1 40.1h1.6v1.6h-1.6zM225.2 23.4h1.6v1.6h-1.6zM58.1 251.6h1.6v1.6h-1.6zM163.8 103.7h1.6v1.6h-1.6zM78.4 216.4h1.6v1.6h-1.6zM194.9 53.7h1.6v1.6h-1.6zM171.3 81.1h1.6v1.6h-1.6zM202.7 46.7h1.6v1.6h-1.6zM196.9 53.3h1.6v1.6h-1.6zM190.3 64h1.6v1.6h-1.6zM227.3 7.9h1.6v1.6h-1.6zM228.5 15.7h1.6v1.6h-1.6zM210.8 34.8h1.6v1.6h-1.6zM226.4 20.3h1.6v1.6h-1.6zM200.5 51.5h1.6v1.6h-1.6zM132.3 142.4h1.6v1.6h-1.6zM193.4 57h1.6v1.6h-1.6zM137.4 139.5h1.6v1.6h-1.6zM76.5 221.5h1.6v1.6h-1.6zM201.5 48.7h1.6v1.6h-1.6zM209 39.4h1.6v1.6h-1.6zM204.5 46.3h1.6v1.6h-1.6zM170.3 93.4h1.6v1.6h-1.6zM132.6 146.1h1.6v1.6h-1.6zM222.3 20.5h1.6v1.6h-1.6zM154.6 114.6h1.6v1.6h-1.6zM220.1 23.6h1.6v1.6h-1.6zM209.3 38h1.6v1.6h-1.6zM216 27.7h1.6v1.6h-1.6zM177.1 86.4h1.6v1.6h-1.6zM116.2 166.2h1.6v1.6h-1.6zM168.6 92h1.6v1.6h-1.6zM75.2 222.9h1.6v1.6h-1.6zM219.5 22.5h1.6v1.6h-1.6zM199.1 44.1h1.6v1.6h-1.6zM162.5 96.7h1.6v1.6h-1.6zM112.4 171.6h1.6v1.6h-1.6zM167.8 93.3h1.6v1.6h-1.6zM183.7 75.6h1.6v1.6h-1.6zM133 145.4h1.6v1.6h-1.6zM150.2 115.9h1.6v1.6h-1.6zM173.3 83.8h1.6v1.6h-1.6zM154.4 116.7h1.6v1.6h-1.6zM213.1 35.1h1.6v1.6h-1.6zM148.5 125.3h1.6v1.6h-1.6zM73.8 232.5h1.6v1.6h-1.6zM106 183.7h1.6v1.6h-1.6zM148.7 123.5h1.6v1.6h-1.6zM167 92.5h1.6v1.6h-1.6zM161.8 100h1.6v1.6h-1.6zM138.4 138.2h1.6v1.6h-1.6zM161.5 109.7h1.6v1.6h-1.6zM164.1 100.1h1.6v1.6h-1.6zM120.6 159.4h1.6v1.6h-1.6zM186.3 72.2h1.6v1.6h-1.6zM233.5 14.5h1.6v1.6h-1.6zM231.6 7.8h1.6v1.6h-1.6zM182.2 75.2h1.6v1.6h-1.6zM193 59h1.6v1.6h-1.6zM164.6 93.9h1.6v1.6h-1.6zM175 89.1h1.6v1.6h-1.6zM180.6 79.5h1.6v1.6h-1.6zM228.3 15.1h1.6v1.6h-1.6zM121.4 165.3h1.6v1.6h-1.6zM211.9 33.4h1.6v1.6h-1.6zM145.8 123.9h1.6v1.6h-1.6zM214.6 27.9h1.6v1.6h-1.6zM132.3 142.4h1.6v1.6h-1.6zM139.7 136.4h1.6v1.6h-1.6zM111.2 170.9h1.6v1.6h-1.6zM157.5 101.9h1.6v1.6h-1.6zM140.8 131.2h1.6v1.6h-1.6zM82.8 211.3h1.6v1.6h-1.6zM162.1 104.2h1.6v1.6h-1.6zM165.5 99.8h1.6v1.6h-1.6zM148.8 115.2h1.6v1.6h-1.6zM133 144.4h1.6v1.6h-1.6zM137 146.6h1.6v1.6h-1.6zM155.1 108.1h1.6v1.6h-1.6zM222.9 18.5h1.6v1.6h-1.6zM58.4 247.2h1.6v1.6h-1.6zM59.4 242.5h1.6v1.6h-1.6zM168.7 109.1h1.6v1.6h-1.6zM147.7 139.4h1.6v1.6h-1.6zM161.5 120.9h1.6v1.6h-1.6zM182.3 85.4h1.6v1.6h-1.6zM185.1 82.1h1.6v1.6h-1.6zM168.3 110.3h1.6v1.6h-1.6zM185.9 81.5h1.6v1.6h-1.6zM181.1 89.2h1.6v1.6h-1.6zM171.9 102.9h1.6v1.6h-1.6zM169.1 108.5h1.6v1.6h-1.6zM155.5 124.9h1.6v1.6h-1.6zM188.4 76.5h1.6v1.6h-1.6zM188.6 76.6h1.6v1.6h-1.6zM151.1 133.4h1.6v1.6h-1.6zM155.3 127.7h1.6v1.6h-1.6zM188.2 76.4h1.6v1.6h-1.6zM165.6 111.8h1.6v1.6h-1.6zM178.1 88.9h1.6v1.6h-1.6zM179.8 90.6h1.6v1.6h-1.6zM159.7 122.6h1.6v1.6h-1.6zM166.3 113.3h1.6v1.6h-1.6zM178.5 90.8h1.6v1.6h-1.6zM163.2 114.3h1.6v1.6h-1.6zM174.3 95.4h1.6v1.6h-1.6zM168.4 106.3h1.6v1.6h-1.6zM169.7 108.3h1.6v1.6h-1.6zM176.9 93.1h1.6v1.6h-1.6zM172.6 102.4h1.6v1.6h-1.6zM175.8 96.7h1.6v1.6h-1.6zM156.8 123.4h1.6v1.6h-1.6zM186.8 79.8h1.6v1.6h-1.6zM173.1 99.9h1.6v1.6h-1.6zM157.9 127.1h1.6v1.6h-1.6zM187.8 79h1.6v1.6h-1.6zM174.8 97.9h1.6v1.6h-1.6zM156.6 125.1h1.6v1.6h-1.6zM177.3 90.2h1.6v1.6h-1.6zM172.4 101.8h1.6v1.6h-1.6zM155 128.5h1.6v1.6h-1.6zM173.1 102.8h1.6v1.6h-1.6zM173.3 99.4h1.6v1.6h-1.6zM181.4 85.9h1.6v1.6h-1.6zM184.3 84.4h1.6v1.6h-1.6zM174.6 95.5h1.6v1.6h-1.6zM157.2 124.2h1.6v1.6h-1.6zM172.4 101h1.6v1.6h-1.6zM172.7 101.6h1.6v1.6h-1.6zM176.7 96.1h1.6v1.6h-1.6zM159.9 119.4h1.6v1.6h-1.6zM173.9 100.1h1.6v1.6h-1.6zM178.4 90.8h1.6v1.6h-1.6zM164.3 110.5h1.6v1.6h-1.6zM174.8 98.9h1.6v1.6h-1.6zM170 104.4h1.6v1.6h-1.6zM162.4 117h1.6v1.6h-1.6zM187.7 80.3h1.6v1.6h-1.6zM184.8 82.7h1.6v1.6h-1.6zM149.2 135.3h1.6v1.6h-1.6zM187 80.9h1.6v1.6h-1.6zM166.9 108h1.6v1.6h-1.6zM159.7 122.1h1.6v1.6h-1.6zM172.3 103.2h1.6v1.6h-1.6zM164.8 113.5h1.6v1.6h-1.6zM182.4 83.7h1.6v1.6h-1.6zM157.9 120.6h1.6v1.6h-1.6zM174.3 96.2h1.6v1.6h-1.6zM186.9 80.3h1.6v1.6h-1.6zM174.7 101h1.6v1.6h-1.6zM169.6 104.7h1.6v1.6h-1.6zM162.2 118h1.6v1.6h-1.6zM153.3 130.6h1.6v1.6h-1.6zM169.5 107h1.6v1.6h-1.6zM163.4 114.1h1.6v1.6h-1.6zM158.5 121.5h1.6v1.6h-1.6zM162 118.2h1.6v1.6h-1.6zM177.5 97.7h1.6v1.6h-1.6zM176.8 93h1.6v1.6h-1.6zM161.8 119.3h1.6v1.6h-1.6zM160.3 116.5h1.6v1.6h-1.6zM184.5 84.6h1.6v1.6h-1.6zM182.6 86.9h1.6v1.6h-1.6zM171.7 102.3h1.6v1.6h-1.6zM162.5 117.1h1.6v1.6h-1.6zM178.2 91.8h1.6v1.6h-1.6zM165.7 113.8h1.6v1.6h-1.6zM156.1 124.6h1.6v1.6h-1.6zM164.1 113.6h1.6v1.6h-1.6zM160.4 120.6h1.6v1.6h-1.6zM160.8 117.4h1.6v1.6h-1.6zM186.2 80.1h1.6v1.6h-1.6zM159.9 118.5h1.6v1.6h-1.6zM175.3 97.2h1.6v1.6h-1.6zM148.9 136.8h1.6v1.6h-1.6zM159.6 122.3h1.6v1.6h-1.6zM179.4 92.2h1.6v1.6h-1.6zM150.9 135.3h1.6v1.6h-1.6zM168.2 109.3h1.6v1.6h-1.6zM168.4 106.5h1.6v1.6h-1.6zM164.3 116h1.6v1.6h-1.6zM170.5 106.3h1.6v1.6h-1.6zM185.2 79.6h1.6v1.6h-1.6zM172.1 101.8h1.6v1.6h-1.6zM166.6 112.6h1.6v1.6h-1.6zM167.7 110h1.6v1.6h-1.6zM179.1 90h1.6v1.6h-1.6zM148 140.5h1.6v1.6h-1.6zM184.4 84.7h1.6v1.6h-1.6zM175.1 96.5h1.6v1.6h-1.6zM164.8 112h1.6v1.6h-1.6zM162.3 118.8h1.6v1.6h-1.6zM154.9 126.3h1.6v1.6h-1.6zM149.7 136.8h1.6v1.6h-1.6zM174.3 93h1.6v1.6h-1.6zM173.1 101.6h1.6v1.6h-1.6zM178.3 90.4h1.6v1.6h-1.6zM178.8 92.1h1.6v1.6h-1.6zM165.9 109.8h1.6v1.6h-1.6zM182.4 84.8h1.6v1.6h-1.6zM174.9 95.5h1.6v1.6h-1.6zM171.5 100.1h1.6v1.6h-1.6zM169 108h1.6v1.6h-1.6zM180.3 89.6h1.6v1.6h-1.6zM182.2 87.6h1.6v1.6h-1.6zM168.4 112.2h1.6v1.6h-1.6zM158.4 123.3h1.6v1.6h-1.6zM174.3 99.2h1.6v1.6h-1.6zM156.9 123.6h1.6v1.6h-1.6zM186.2 81.4h1.6v1.6h-1.6zM166.9 110.7h1.6v1.6h-1.6zM177.3 91.9h1.6v1.6h-1.6zM173.9 101h1.6v1.6h-1.6zM177.8 93.5h1.6v1.6h-1.6zM182.5 85.7h1.6v1.6h-1.6zM182 86.9h1.6v1.6h-1.6zM176.2 95.4h1.6v1.6h-1.6zM187.1 79.2h1.6v1.6h-1.6zM179.9 92.1h1.6v1.6h-1.6zM188.5 79h1.6v1.6h-1.6zM170.9 104.2h1.6v1.6h-1.6zM180.4 86.2h1.6v1.6h-1.6zM167.7 107.9h1.6v1.6h-1.6zM174 99.7h1.6v1.6h-1.6zM171.7 102.7h1.6v1.6h-1.6zM185.1 85.2h1.6v1.6h-1.6zM172 100.1h1.6v1.6h-1.6zM178 91.3h1.6v1.6h-1.6zM175.1 97.7h1.6v1.6h-1.6zM163.1 117.6h1.6v1.6h-1.6zM171.7 105.9h1.6v1.6h-1.6zM178.7 92.2h1.6v1.6h-1.6zM179.3 89.7h1.6v1.6h-1.6zM160.4 121.9h1.6v1.6h-1.6zM155.4 126.9h1.6v1.6h-1.6zM172.6 101.8h1.6v1.6h-1.6zM169.4 107.1h1.6v1.6h-1.6zM168.1 109.9h1.6v1.6h-1.6zM171.6 102.9h1.6v1.6h-1.6zM158.9 124.4h1.6v1.6h-1.6zM155.4 127h1.6v1.6h-1.6zM168.2 105.7h1.6v1.6h-1.6zM188.2 77.3h1.6v1.6h-1.6zM173.9 100.6h1.6v1.6h-1.6zM153.9 128.5h1.6v1.6h-1.6zM185 81h1.6v1.6h-1.6zM169.5 106.4h1.6v1.6h-1.6zM159.9 121.4h1.6v1.6h-1.6zM188.4 78h1.6v1.6h-1.6zM187 78h1.6v1.6h-1.6zM168.9 111.4h1.6v1.6h-1.6zM161.7 118.9h1.6v1.6h-1.6zM151.4 135.6h1.6v1.6h-1.6zM187.2 80.7h1.6v1.6h-1.6zM169.8 106.7h1.6v1.6h-1.6zM178.5 89.4h1.6v1.6h-1.6zM171.2 104.4h1.6v1.6h-1.6zM165.8 113h1.6v1.6h-1.6zM187.1 79.5h1.6v1.6h-1.6zM155.9 125.9h1.6v1.6h-1.6zM171.5 102.9h1.6v1.6h-1.6zM176.4 96h1.6v1.6h-1.6zM173.1 102.4h1.6v1.6h-1.6zM162.5 118.1h1.6v1.6h-1.6zM173.1 100.6h1.6v1.6h-1.6zM169 107.7h1.6v1.6h-1.6zM169.3 105.7h1.6v1.6h-1.6zM176 95.1h1.6v1.6h-1.6zM182.2 86.6h1.6v1.6h-1.6zM174 100.6h1.6v1.6h-1.6zM184.9 81.8h1.6v1.6h-1.6zM166.7 111.4h1.6v1.6h-1.6zM153.8 127.5h1.6v1.6h-1.6zM152.5 130.7h1.6v1.6h-1.6zM173.7 102.5h1.6v1.6h-1.6zM183.3 84.8h1.6v1.6h-1.6zM182.2 85.2h1.6v1.6h-1.6zM174 101.6h1.6v1.6h-1.6zM170.5 105.1h1.6v1.6h-1.6zM187.6 79.4h1.6v1.6h-1.6zM188.3 79.3h1.6v1.6h-1.6zM162.5 117.3h1.6v1.6h-1.6zM150.6 136.2h1.6v1.6h-1.6zM167.7 109.8h1.6v1.6h-1.6zM184.4 80.3h1.6v1.6h-1.6zM162.1 117.8h1.6v1.6h-1.6zM179.1 90.3h1.6v1.6h-1.6zM157 123.7h1.6v1.6h-1.6zM181.5 89.1h1.6v1.6h-1.6zM175.2 95.6h1.6v1.6h-1.6zM174.9 95.5h1.6v1.6h-1.6zM169.7 104.9h1.6v1.6h-1.6zM186.8 80.5h1.6v1.6h-1.6zM161.1 121h1.6v1.6h-1.6zM174.1 99.9h1.6v1.6h-1.6zM165 115.8h1.6v1.6h-1.6zM166.4 110h1.6v1.6h-1.6zM171 100h1.6v1.6h-1.6zM170.2 109.2h1.6v1.6h-1.6zM165.5 112.6h1.6v1.6h-1.6zM175.3 97.8h1.6v1.6h-1.6zM155.9 126.6h1.6v1.6h-1.6zM181.1 87.9h1.6v1.6h-1.6zM184.9 84h1.6v1.6h-1.6zM172.1 103.1h1.6v1.6h-1.6zM187.5 78.7h1.6v1.6h-1.6zM172.8 101h1.6v1.6h-1.6zM185.4 82.9h1.6v1.6h-1.6zM187.3 77.5h1.6v1.6h-1.6zM186.3 78.7h1.6v1.6h-1.6zM159.2 122.6h1.6v1.6h-1.6zM171.7 104.3h1.6v1.6h-1.6zM152.6 130.2h1.6v1.6h-1.6zM187.1 77h1.6v1.6h-1.6zM171.3 107.2h1.6v1.6h-1.6zM179.2 90.7h1.6v1.6h-1.6zM161.9 118.6h1.6v1.6h-1.6zM186.9 79.5h1.6v1.6h-1.6zM179.5 89.5h1.6v1.6h-1.6zM176.9 93.7h1.6v1.6h-1.6zM164.9 114.1h1.6v1.6h-1.6zM174.4 99.2h1.6v1.6h-1.6zM174.5 100.3h1.6v1.6h-1.6zM163.4 117.6h1.6v1.6h-1.6zM174 103.2h1.6v1.6h-1.6zM155.5 125.2h1.6v1.6h-1.6zM162.5 117.9h1.6v1.6h-1.6zM158.1 122.9h1.6v1.6h-1.6zM176.5 94.2h1.6v1.6h-1.6zM169.3 106.4h1.6v1.6h-1.6zM157.9 121.5h1.6v1.6h-1.6zM185.5 80.9h1.6v1.6h-1.6zM169.2 79.8h1.6v1.6h-1.6zM171.2 78.5h1.6v1.6h-1.6zM160.8 96.2h1.6v1.6h-1.6zM207.8 27.6h1.6v1.6h-1.6zM176.9 70.9h1.6v1.6h-1.6zM186.6 54.4h1.6v1.6h-1.6zM161.9 90.2h1.6v1.6h-1.6zM151.2 110.3h1.6v1.6h-1.6zM178.1 69.1h1.6v1.6h-1.6zM168.7 81.3h1.6v1.6h-1.6zM159.7 97.7h1.6v1.6h-1.6zM161.7 92.7h1.6v1.6h-1.6zM163.8 90h1.6v1.6h-1.6zM196.1 43.7h1.6v1.6h-1.6zM211.4 21.8h1.6v1.6h-1.6zM166.9 84.1h1.6v1.6h-1.6zM183.2 63.7h1.6v1.6h-1.6zM208 23.9h1.6v1.6h-1.6zM146.7 117.7h1.6v1.6h-1.6zM175.9 71.7h1.6v1.6h-1.6zM145.5 118.9h1.6v1.6h-1.6zM210.3 23.3h1.6v1.6h-1.6zM160.3 96.2h1.6v1.6h-1.6zM208.4 26.1h1.6v1.6h-1.6zM152.5 106.6h1.6v1.6h-1.6zM162.3 91.8h1.6v1.6h-1.6zM219.1 9.7h1.6v1.6h-1.6zM168.5 78.3h1.6v1.6h-1.6zM219.1 12.3h1.6v1.6h-1.6zM161.1 94.1h1.6v1.6h-1.6zM147.3 113.4h1.6v1.6h-1.6zM209 24.1h1.6v1.6h-1.6zM219.8 9.5h1.6v1.6h-1.6zM218.3 10.8h1.6v1.6h-1.6zM189.6 51.3h1.6v1.6h-1.6zM217 14h1.6v1.6h-1.6zM203.7 31.4h1.6v1.6h-1.6zM145.3 116.5h1.6v1.6h-1.6z" fill="#000"/>
<path d="M55.8 250.6 L158.5 148.4" stroke="#0000ff" stroke-width="3.0" fill="none" stroke-linecap="round"/>
<path d="M153.5 153.2 L222 85.1" stroke="#0000ff" stroke-width="3.0" fill="none" stroke-linecap="round"/>
<path d="M97.6 207h1.7v1.7h-1.7zM153.1 152.3h1.7v1.7h-1.7zM171.7 132.7h1.7v1.7h-1.7zM127.7 179.2h1.7v1.7h-1.7zM84.9 218.1h1.7v1.7h-1.7zM187.4 116.4h1.7v1.7h-1.7zM192.7 110.9h1.7v1.7h-1.7zM147 160h1.7v1.7h-1.7zM93.1 211.1h1.7v1.7h-1.7zM67.7 235.5h1.7v1.7h-1.7zM206.5 97.5h1.7v1.7h-1.7zM112.3 193.9h1.7v1.7h-1.7zM209.2 96.6h1.7v1.7h-1.7zM105.5 199.9h1.7v1.7h-1.7zM99.8 205.3h1.7v1.7h-1.7zM214.3 89.3h1.7v1.7h-1.7zM147.4 159.1h1.7v1.7h-1.7zM207 97.7h1.7v1.7h-1.7zM122.2 183h1.7v1.7h-1.7zM77.2 229.2h1.7v1.7h-1.7zM179.2 125h1.7v1.7h-1.7zM83.1 221.6h1.7v1.7h-1.7zM109.2 197.6h1.7v1.7h-1.7zM89.2 217.4h1.7v1.7h-1.7zM193.1 108.9h1.7v1.7h-1.7zM133.5 172.2h1.7v1.7h-1.7zM94.6 209.3h1.7v1.7h-1.7zM155 148.8h1.7v1.7h-1.7zM156.5 149.4h1.7v1.7h-1.7zM94.2 209.5h1.7v1.7h-1.7zM59.5 243.4h1.7v1.7h-1.7zM102.8 203.4h1.7v1.7h-1.7zM146 160.4h1.7v1.7h-1.7zM177.4 126.8h1.7v1.7h-1.7zM145.4 158.7h1.7v1.7h-1.7zM185.3 120.2h1.7v1.7h-1.7zM102.6 201.4h1.7v1.7h-1.7zM167.8 136.1h1.7v1.7h-1.7zM162.4 142.1h1.7v1.7h-1.7zM109.3 194.1h1.7v1.7h-1.7zM125 178h1.7v1.7h-1.7zM220.7 85.1h1.7v1.7h-1.7zM217.2 86.5h1.7v1.7h-1.7zM213 91.7h1.7v1.7h-1.7zM127.6 177.1h1.7v1.7h-1.7zM214.8 91.8h1.7v1.7h-1.7zM139.1 164.8h1.7v1.7h-1.7zM210.5 93.2h1.7v1.7h-1.7zM221.7 84.3h1.7v1.7h-1.7zM143.4 161.5h1.7v1.7h-1.7zM62.5 243.1h1.7v1.7h-1.7zM64.2 240.3h1.7v1.7h-1.7zM147.6 156.2h1.7v1.7h-1.7zM83.8 221.1h1.7v1.7h-1.7zM203.2 100.8h1.7v1.7h-1.7zM217.7 87.4h1.7v1.7h-1.7zM181.9 124.8h1.7v1.7h-1.7zM176 126.9h1.7v1.7h-1.7zM177.4 125.7h1.7v1.7h-1.7zM122.6 181.9h1.7v1.7h-1.7zM112.4 191.3h1.7v1.7h-1.7zM119.1 186.5h1.7v1.7h-1.7zM181.2 123.1h1.7v1.7h-1.7zM131.1 173.6h1.7v1.7h-1.7zM80.9 223.6h1.7v1.7h-1.7zM93.8 209.1h1.7v1.7h-1.7zM135.6 169.3h1.7v1.7h-1.7zM214.3 92.8h1.7v1.7h-1.7zM69.9 232.9h1.7v1.7h-1.7zM178.1 124.7h1.7v1.7h-1.7zM210.3 93h1.7v1.7h-1.7zM200.9 103.6h1.7v1.7h-1.7zM184.7 118.8h1.7v1.7h-1.7zM163.5 141.3h1.7v1.7h-1.7zM74.5 231.8h1.7v1.7h-1.7zM132.6 172.7h1.7v1.7h-1.7zM188.9 115.5h1.7v1.7h-1.7zM211.2 92.4h1.7v1.7h-1.7zM177.9 124.7h1.7v1.7h-1.7zM215.2 89h1.7v1.7h-1.7zM147.1 157.6h1.7v1.7h-1.7zM213 89.2h1.7v1.7h-1.7zM184.6 121h1.7v1.7h-1.7zM57.5 245.9h1.7v1.7h-1.7zM83.2 221.5h1.7v1.7h-1.7zM154.6 149.9h1.7v1.7h-1.7zM213.8 91.3h1.7v1.7h-1.7zM162.9 140.3h1.7v1.7h-1.7zM206 102.4h1.7v1.7h-1.7zM169.7 133.6h1.7v1.7h-1.7zM188.6 115.2h1.7v1.7h-1.7zM147.7 156.4h1.7v1.7h-1.7zM65 240.8h1.7v1.7h-1.7zM142.5 162.6h1.7v1.7h-1.7zM204.3 101.2h1.7v1.7h-1.7zM180.7 123.9h1.7v1.7h-1.7zM214.6 90.8h1.7v1.7h-1.7zM140.7 164.3h1.7v1.7h-1.7zM124.2 178.6h1.7v1.7h-1.7zM208.1 98h1.7v1.7h-1.7zM195.9 107.1h1.7v1.7h-1.7zM126.4 180.2h1.7v1.7h-1.7zM136.4 170.5h1.7v1.7h-1.7zM219.8 82.9h1.7v1.7h-1.7zM161.2 143h1.7v1.7h-1.7zM107 198.8h1.7v1.7h-1.7zM133.2 171.8h1.7v1.7h-1.7zM185.8 118.6h1.7v1.7h-1.7zM130.2 172.1h1.7v1.7h-1.7zM194.6 110.8h1.7v1.7h-1.7zM133.9 172.1h1.7v1.7h-1.7zM72 233.2h1.7v1.7h-1.7zM98.3 206.6h1.7v1.7h-1.7zM179.2 127.3h1.7v1.7h-1.7zM64.4 240.7h1.7v1.7h-1.7zM127.6 177.9h1.7v1.7h-1.7zM102.7 202.8h1.7v1.7h-1.7zM87.1 216.6h1.7v1.7h-1.7zM218.8 86.1h1.7v1.7h-1.7zM98.7 208h1.7v1.7h-1.7zM177 127.5h1.7v1.7h-1.7zM206.5 98.9h1.7v1.7h-1.7zM98.1 206.6h1.7v1.7h-1.7zM125.5 177.8h1.7v1.7h-1.7zM194.4 111.3h1.7v1.7h-1.7zM98.5 207.6h1.7v1.7h-1.7zM185.2 118.2h1.7v1.7h-1.7zM195.9 110.3h1.7v1.7h-1.7zM61 244.6h1.7v1.7h-1.7zM133.3 169.8h1.7v1.7h-1.7zM165.1 140h1.7v1.7h-1.7zM94.1 209.1h1.7v1.7h-1.7zM211 98h1.7v1.7h-1.7zM115.7 189.1h1.7v1.7h-1.7zM120.1 184.2h1.7v1.7h-1.7zM182.2 122.8h1.7v1.7h-1.7zM207.5 96.1h1.7v1.7h-1.7zM123 181.8h1.7v1.7h-1.7zM122.8 183.6h1.7v1.7h-1.7zM179 125.5h1.7v1.7h-1.7zM161.6 143.5h1.7v1.7h-1.7zM83 223.6h1.7v1.7h-1.7zM184.5 119.5h1.7v1.7h-1.7zM133 171.8h1.7v1.7h-1.7zM127.9 176.8h1.7v1.7h-1.7zM141.4 164.2h1.7v1.7h-1.7zM128.7 178h1.7v1.7h-1.7zM187.7 113.9h1.7v1.7h-1.7zM59.4 245.8h1.7v1.7h-1.7zM106.2 197.5h1.7v1.7h-1.7zM59.1 244h1.7v1.7h-1.7zM218.2 83.6h1.7v1.7h-1.7zM143.1 162.3h1.7v1.7h-1.7zM106 198.8h1.7v1.7h-1.7zM94.1 210.2h1.7v1.7h-1.7zM73.8 231.5h1.7v1.7h-1.7zM88.9 217.4h1.7v1.7h-1.7zM67.5 237.8h1.7v1.7h-1.7zM176.1 129.2h1.7v1.7h-1.7zM150.1 154.4h1.7v1.7h-1.7zM79.5 226h1.7v1.7h-1.7zM93.3 214.5h1.7v1.7h-1.7zM100 204h1.7v1.7h-1.7zM120.6 184.1h1.7v1.7h-1.7zM64.8 238.5h1.7v1.7h-1.7zM126.6 178.4h1.7v1.7h-1.7zM81.4 223.6h1.7v1.7h-1.7zM199.8 105h1.7v1.7h-1.7zM119.6 186.1h1.7v1.7h-1.7zM119.9 185.2h1.7v1.7h-1.7zM178.9 125.3h1.7v1.7h-1.7zM149.6 155.4h1.7v1.7h-1.7zM84.9 221.7h1.7v1.7h-1.7zM153.3 152.6h1.7v1.7h-1.7zM103.2 201.9h1.7v1.7h-1.7zM66.4 239.6h1.7v1.7h-1.7zM130 176.7h1.7v1.7h-1.7zM185.2 117h1.7v1.7h-1.7zM90.6 213.7h1.7v1.7h-1.7zM70.3 235.5h1.7v1.7h-1.7zM189.6 115.3h1.7v1.7h-1.7zM61.9 244.7h1.7v1.7h-1.7zM117.7 187.6h1.7v1.7h-1.7zM216.2 89.4h1.7v1.7h-1.7zM213.8 91.3h1.7v1.7h-1.7zM148.7 158h1.7v1.7h-1.7zM181 121.7h1.7v1.7h-1.7zM65.3 238.8h1.7v1.7h-1.7zM202 103.2h1.7v1.7h-1.7zM114 189.6h1.7v1.7h-1.7zM84.1 220.1h1.7v1.7h-1.7zM119.7 185.2h1.7v1.7h-1.7zM196.2 109.1h1.7v1.7h-1.7zM108.4 197.2h1.7v1.7h-1.7zM217.4 90.4h1.7v1.7h-1.7zM213 91.4h1.7v1.7h-1.7zM170.6 134.1h1.7v1.7h-1.7zM135.3 168.6h1.7v1.7h-1.7zM97 208.8h1.7v1.7h-1.7zM85.6 220.9h1.7v1.7h-1.7zM113.6 193h1.7v1.7h-1.7zM73.2 231.7h1.7v1.7h-1.7zM102.4 202.7h1.7v1.7h-1.7zM125.9 178.8h1.7v1.7h-1.7zM177.1 128.6h1.7v1.7h-1.7zM147.3 157.8h1.7v1.7h-1.7zM191.1 114.4h1.7v1.7h-1.7zM188.7 114.4h1.7v1.7h-1.7zM123.9 181.3h1.7v1.7h-1.7zM108.4 196.4h1.7v1.7h-1.7zM129.9 174.2h1.7v1.7h-1.7zM199.8 102.8h1.7v1.7h-1.7zM97.3 210.5h1.7v1.7h-1.7zM77.4 226.9h1.7v1.7h-1.7zM140 165.6h1.7v1.7h-1.7zM156.2 150.4h1.7v1.7h-1.7zM213.4 92.2h1.7v1.7h-1.7zM76.4 227.3h1.7v1.7h-1.7zM78 226.5h1.7v1.7h-1.7zM56.4 247.4h1.7v1.7h-1.7zM207.5 97.2h1.7v1.7h-1.7zM163 140.8h1.7v1.7h-1.7zM104.1 202.9h1.7v1.7h-1.7zM148 154.8h1.7v1.7h-1.7zM207.7 95.1h1.7v1.7h-1.7zM151.4 152.9h1.7v1.7h-1.7zM188.1 119.4h1.7v1.7h-1.7zM75 230.7h1.7v1.7h-1.7zM140.7 165.4h1.7v1.7h-1.7zM106.7 201.6h1.7v1.7h-1.7zM140.8 163.8h1.7v1.7h-1.7zM83.1 222.5h1.7v1.7h-1.7zM154.7 151.2h1.7v1.7h-1.7zM144.6 160.2h1.7v1.7h-1.7zM74.6 232.2h1.7v1.7h-1.7zM171.8 131.1h1.7v1.7h-1.7zM192.8 110.8h1.7v1.7h-1.7zM58.6 245.8h1.7v1.7h-1.7zM116.5 186.8h1.7v1.7h-1.7zM203.7 102.3h1.7v1.7h-1.7zM201.4 102.2h1.7v1.7h-1.7zM203.3 101.1h1.7v1.7h-1.7zM203.5 101.7h1.7v1.7h-1.7zM162.6 141.4h1.7v1.7h-1.7zM58.9 245.7h1.7v1.7h-1.7zM134.7 169.6h1.7v1.7h-1.7zM55.1 248.1h1.7v1.7h-1.7zM197.2 107.9h1.7v1.7h-1.7zM125.4 178.8h1.7v1.7h-1.7zM115.3 193.2h1.7v1.7h-1.7zM65.6 240h1.7v1.7h-1.7zM195.9 108.4h1.7v1.7h-1.7zM98.7 204.5h1.7v1.7h-1.7zM73.3 229.6h1.7v1.7h-1.7zM131.4 174.9h1.7v1.7h-1.7zM165.1 141.8h1.7v1.7h-1.7zM175.3 128.9h1.7v1.7h-1.7zM169.7 134.5h1.7v1.7h-1.7zM150.8 154.5h1.7v1.7h-1.7zM84.8 221.1h1.7v1.7h-1.7zM147.3 158.5h1.7v1.7h-1.7zM76.7 227.9h1.7v1.7h-1.7zM105.5 197.9h1.7v1.7h-1.7zM174.1 130.3h1.7v1.7h-1.7zM162.4 142.4h1.7v1.7h-1.7zM186.3 118.5h1.7v1.7h-1.7zM70.8 234h1.7v1.7h-1.7zM118 185.2h1.7v1.7h-1.7zM188.9 113.6h1.7v1.7h-1.7zM100.7 206.4h1.7v1.7h-1.7zM101.6 201.9h1.7v1.7h-1.7zM120.9 184.2h1.7v1.7h-1.7zM203.3 101.7h1.7v1.7h-1.7zM188.1 117.7h1.7v1.7h-1.7zM142 164.3h1.7v1.7h-1.7zM122.4 182.5h1.7v1.7h-1.7zM189.9 115.5h1.7v1.7h-1.7zM96.5 208.9h1.7v1.7h-1.7zM103.5 202.5h1.7v1.7h-1.7zM85.6 215.9h1.7v1.7h-1.7zM84.7 221.8h1.7v1.7h-1.7zM98.9 205.5h1.7v1.7h-1.7zM189.2 116.3h1.7v1.7h-1.7zM128.3 176.9h1.7v1.7h-1.7zM78 226.2h1.7v1.7h-1.7zM132.3 172h1.7v1.7h-1.7zM106.4 197.7h1.7v1.7h-1.7zM124 180.8h1.7v1.7h-1.7zM92.3 211.4h1.7v1.7h-1.7zM127.2 177.8h1.7v1.7h-1.7zM206.3 97.6h1.7v1.7h-1.7zM74.3 231h1.7v1.7h-1.7zM123.5 181.6h1.7v1.7h-1.7zM176.8 126.6h1.7v1.7h-1.7zM107.1 199.9h1.7v1.7h-1.7zM130.3 173.6h1.7v1.7h-1.7zM136.8 166.1h1.7v1.7h-1.7zM59.8 246.6h1.7v1.7h-1.7zM159.7 145.5h1.7v1.7h-1.7zM188.8 115.3h1.7v1.7h-1.7zM93.1 214h1.7v1.7h-1.7zM206.4 95.9h1.7v1.7h-1.7zM104.4 199.8h1.7v1.7h-1.7zM119.2 185.8h1.7v1.7h-1.7zM106.3 197.7h1.7v1.7h-1.7zM89.3 215.9h1.7v1.7h-1.7zM153.5 151.5h1.7v1.7h-1.7zM169.5 135.4h1.7v1.7h-1.7zM102.8 202.4h1.7v1.7h-1.7zM156.5 147.5h1.7v1.7h-1.7zM87.4 217.2h1.7v1.7h-1.7zM189.1 116h1.7v1.7h-1.7zM160.9 142.9h1.7v1.7h-1.7zM105.7 198.1h1.7v1.7h-1.7zM183.5 120.3h1.7v1.7h-1.7zM185.6 120.3h1.7v1.7h-1.7zM88.6 215h1.7v1.7h-1.7zM130.3 173.6h1.7v1.7h-1.7zM106.7 198.9h1.7v1.7h-1.7zM127 179.1h1.7v1.7h-1.7zM143.8 159.7h1.7v1.7h-1.7zM139.8 164.2h1.7v1.7h-1.7zM105 199.2h1.7v1.7h-1.7zM122.2 183.4h1.7v1.7h-1.7zM75.4 229.9h1.7v1.7h-1.7zM89.8 215h1.7v1.7h-1.7zM208.4 97.3h1.7v1.7h-1.7zM150.3 154.9h1.7v1.7h-1.7zM102.1 203.8h1.7v1.7h-1.7zM166.7 140h1.7v1.7h-1.7zM106.3 200.1h1.7v1.7h-1.7zM115.6 189.9h1.7v1.7h-1.7zM88.7 215.3h1.7v1.7h-1.7zM94.8 208.5h1.7v1.7h-1.7zM214.4 90.1h1.7v1.7h-1.7zM172.3 129h1.7v1.7h-1.7zM114 190.9h1.7v1.7h-1.7zM162.7 140h1.7v1.7h-1.7zM96.9 207.4h1.7v1.7h-1.7zM133.5 174.3h1.7v1.7h-1.7zM184.2 119.1h1.7v1.7h-1.7zM139.1 164.4h1.7v1.7h-1.7zM107.4 197.2h1.7v1.7h-1.7zM86.5 218.1h1.7v1.7h-1.7zM101.1 202.1h1.7v1.7h-1.7zM113.7 191.8h1.7v1.7h-1.7zM83.9 220.8h1.7v1.7h-1.7zM129.2 175.9h1.7v1.7h-1.7zM160.4 144h1.7v1.7h-1.7zM199.7 102.8h1.7v1.7h-1.7zM179.9 126.8h1.7v1.7h-1.7zM142.7 161.2h1.7v1.7h-1.7zM140.2 163.8h1.7v1.7h-1.7zM200.5 103.4h1.7v1.7h-1.7zM171.8 132.4h1.7v1.7h-1.7zM142.5 163.4h1.7v1.7h-1.7zM149.8 156h1.7v1.7h-1.7zM131.1 174.8h1.7v1.7h-1.7zM195 109.1h1.7v1.7h-1.7zM210.3 94.9h1.7v1.7h-1.7zM153.6 150.7h1.7v1.7h-1.7zM66.1 236.8h1.7v1.7h-1.7zM171.8 132.7h1.7v1.7h-1.7zM144.3 161.3h1.7v1.7h-1.7zM109.3 195.6h1.7v1.7h-1.7zM102.8 203.4h1.7v1.7h-1.7zM152.1 155.2h1.7v1.7h-1.7zM106.5 197.6h1.7v1.7h-1.7zM190.9 115h1.7v1.7h-1.7zM132 172.6h1.7v1.7h-1.7zM161.4 142.1h1.7v1.7h-1.7zM165.3 138.1h1.7v1.7h-1.7zM90.5 212.6h1.7v1.7h-1.7zM104.1 198.9h1.7v1.7h-1.7zM139.8 165.8h1.7v1.7h-1.7zM178.2 128.4h1.7v1.7h-1.7zM84.1 221h1.7v1.7h-1.7zM106.7 199.4h1.7v1.7h-1.7zM153.7 151h1.7v1.7h-1.7zM192.3 110.7h1.7v1.7h-1.7zM183.8 120.6h1.7v1.7h-1.7zM122.1 181.4h1.7v1.7h-1.7zM138.6 167.2h1.7v1.7h-1.7zM143.8 161.7h1.7v1.7h-1.7zM106.5 198.3h1.7v1.7h-1.7zM68.9 235.2h1.7v1.7h-1.7zM78.8 223.7h1.7v1.7h-1.7zM97.4 208.5h1.7v1.7h-1.7zM107 198.7h1.7v1.7h-1.7zM166.8 136.4h1.7v1.7h-1.7zM76.9 226.9h1.7v1.7h-1.7zM217.1 86.9h1.7v1.7h-1.7zM168 135.8h1.7v1.7h-1.7zM151.3 152.8h1.7v1.7h-1.7zM160.8 146.5h1.7v1.7h-1.7zM63.2 242.6h1.7v1.7h-1.7zM204.8 98.8h1.7v1.7h-1.7zM61.7 242.5h1.7v1.7h-1.7zM84 220.3h1.7v1.7h-1.7zM175.5 128.9h1.7v1.7h-1.7zM203.5 98.5h1.7v1.7h-1.7zM73 232.7h1.7v1.7h-1.7zM114.8 191.2h1.7v1.7h-1.7zM134.6 171.8h1.7v1.7h-1.7zM186.4 118.4h1.7v1.7h-1.7zM125.6 178.6h1.7v1.7h-1.7zM151.9 153.1h1.7v1.7h-1.7zM143.1 161.4h1.7v1.7h-1.7zM179.7 124.5h1.7v1.7h-1.7zM111.3 191.5h1.7v1.7h-1.7zM146.9 159.8h1.7v1.7h-1.7zM197.1 104.8h1.7v1.7h-1.7zM65.7 236.7h1.7v1.7h-1.7zM78 226.5h1.7v1.7h-1.7zM187.3 114.7h1.7v1.7h-1.7zM194.9 112.2h1.7v1.7h-1.7zM100.2 204.5h1.7v1.7h-1.7zM181 123.6h1.7v1.7h-1.7zM98.3 206.6h1.7v1.7h-1.7zM179.9 125.2h1.7v1.7h-1.7zM207.7 96.7h1.7v1.7h-1.7zM137.6 167.5h1.7v1.7h-1.7zM192.5 111.1h1.7v1.7h-1.7zM108.5 197.3h1.7v1.7h-1.7zM159 145.4h1.7v1.7h-1.7zM130.7 173.9h1.7v1.7h-1.7zM198.4 105.8h1.7v1.7h-1.7zM71.5 232.4h1.7v1.7h-1.7zM82.2 222.3h1.7v1.7h-1.7zM135.6 169.1h1.7v1.7h-1.7zM205.7 98.8h1.7v1.7h-1.7zM63.4 239.7h1.7v1.7h-1.7zM199 105h1.7v1.7h-1.7zM90.3 215.5h1.7v1.7h-1.7zM57.8 246h1.7v1.7h-1.7zM74.2 231.9h1.7v1.7h-1.7zM199.6 104.3h1.7v1.7h-1.7zM185.4 120.5h1.7v1.7h-1.7zM153.9 149.3h1.7v1.7h-1.7zM166.6 136.1h1.7v1.7h-1.7zM114.7 190.8h1.7v1.7h-1.7zM73.9 232.4h1.7v1.7h-1.7zM73.8 230.4h1.7v1.7h-1.7zM210 94.7h1.7v1.7h-1.7zM113.7 189h1.7v1.7h-1.7zM205.7 99.8h1.7v1.7h-1.7zM88.6 215.5h1.7v1.7h-1.7zM190.3 115.5h1.7v1.7h-1.7zM106.9 198.5h1.7v1.7h-1.7zM175.5 130.6h1.7v1.7h-1.7zM149.2 155.9h1.7v1.7h-1.7zM84.8 219.1h1.7v1.7h-1.7zM81.3 220.8h1.7v1.7h-1.7zM112.1 193.6h1.7v1.7h-1.7zM181 121.7h1.7v1.7h-1.7zM126.4 177.2h1.7v1.7h-1.7zM202.8 103.7h1.7v1.7h-1.7zM161.4 144.5h1.7v1.7h-1.7zM169.1 134.3h1.7v1.7h-1.7zM100.7 204.6h1.7v1.7h-1.7zM171.6 133.1h1.7v1.7h-1.7zM218.2 86.1h1.7v1.7h-1.7zM133.2 171.3h1.7v1.7h-1.7zM110.1 193.3h1.7v1.7h-1.7zM160 142.8h1.7v1.7h-1.7zM105.4 200.5h1.7v1.7h-1.7zM87.9 216.2h1.7v1.7h-1.7zM132.4 172.6h1.7v1.7h-1.7zM201.1 105.1h1.7v1.7h-1.7zM181 125.3h1.7v1.7h-1.7zM85.7 217.9h1.7v1.7h-1.7zM109.8 195.9h1.7v1.7h-1.7zM78.1 228.1h1.7v1.7h-1.7zM181.4 120.8h1.7v1.7h-1.7zM108.4 196h1.7v1.7h-1.7zM69.3 234.9h1.7v1.7h-1.7zM103.1 201.7h1.7v1.7h-1.7zM116.6 188.6h1.7v1.7h-1.7zM163.2 141.3h1.7v1.7h-1.7zM59.4 245.1h1.7v1.7h-1.7zM56.6 248.9h1.7v1.7h-1.7zM116.3 188.9h1.7v1.7h-1.7zM70.5 234.7h1.7v1.7h-1.7zM97 208h1.7v1.7h-1.7zM180.2 122.7h1.7v1.7h-1.7zM127.5 179.9h1.7v1.7h-1.7zM194.9 109.6h1.7v1.7h-1.7zM131.8 174.2h1.7v1.7h-1.7zM107.2 198.1h1.7v1.7h-1.7zM214.7 90.1h1.7v1.7h-1.7zM137.4 167.1h1.7v1.7h-1.7zM213.7 92h1.7v1.7h-1.7zM97.5 208h1.7v1.7h-1.7zM159.8 145.4h1.7v1.7h-1.7zM176.9 127h1.7v1.7h-1.7zM171.5 134h1.7v1.7h-1.7zM55.5 246.3h1.7v1.7h-1.7zM139.3 167.6h1.7v1.7h-1.7zM216.7 89.4h1.7v1.7h-1.7zM178.5 125.6h1.7v1.7h-1.7zM221.8 84.5h1.7v1.7h-1.7zM141.7 162.4h1.7v1.7h-1.7zM105.1 199.6h1.7v1.7h-1.7zM62.5 242.6h1.7v1.7h-1.7zM80.3 225.2h1.7v1.7h-1.7zM81.2 224.1h1.7v1.7h-1.7zM196.5 107.8h1.7v1.7h-1.7zM213.4 90.4h1.7v1.7h-1.7zM161.5 147.2h1.7v1.7h-1.7zM119.1 188h1.7v1.7h-1.7zM205.6 99.9h1.7v1.7h-1.7zM104.6 200.7h1.7v1.7h-1.7zM137 168.2h1.7v1.7h-1.7zM188.9 114.3h1.7v1.7h-1.7zM128 178.8h1.7v1.7h-1.7zM167.8 134.7h1.7v1.7h-1.7zM130.1 175.8h1.7v1.7h-1.7zM63.3 240.4h1.7v1.7h-1.7zM89.3 216.8h1.7v1.7h-1.7zM188.8 117.5h1.7v1.7h-1.7zM103.2 202h1.7v1.7h-1.7zM179.5 122.4h1.7v1.7h-1.7zM108.4 197.7h1.7v1.7h-1.7zM111.7 193h1.7v1.7h-1.7zM98.2 206.5h1.7v1.7h-1.7zM81.5 223.3h1.7v1.7h-1.7zM112.5 191.4h1.7v1.7h-1.7zM109.6 195.6h1.7v1.7h-1.7zM197.6 106.5h1.7v1.7h-1.7zM116.7 187.7h1.7v1.7h-1.7zM121.5 184.3h1.7v1.7h-1.7zM57 247.2h1.7v1.7h-1.7zM125.5 179.1h1.7v1.7h-1.7zM68.4 236.3h1.7v1.7h-1.7zM149.5 156.8h1.7v1.7h-1.7zM155.8 147h1.7v1.7h-1.7zM183.5 120.1h1.7v1.7h-1.7zM202.9 102.5h1.7v1.7h-1.7zM122.7 181.6h1.7v1.7h-1.7zM167.5 136.1h1.7v1.7h-1.7zM202 100.4h1.7v1.7h-1.7zM126.4 180.4h1.7v1.7h-1.7zM119.2 186.4h1.7v1.7h-1.7zM86.4 219.2h1.7v1.7h-1.7zM81.9 222.5h1.7v1.7h-1.7zM97.6 206.6h1.7v1.7h-1.7zM103.3 201.5h1.7v1.7h-1.7zM191 113h1.7v1.7h-1.7zM115.1 187.7h1.7v1.7h-1.7zM114.4 190.1h1.7v1.7h-1.7zM109.7 194.6h1.7v1.7h-1.7zM96.8 206.9h1.7v1.7h-1.7zM141.9 162.9h1.7v1.7h-1.7zM102.7 202.8h1.7v1.7h-1.7zM58.6 245.5h1.7v1.7h-1.7zM169.2 135.8h1.7v1.7h-1.7zM83.9 222.3h1.7v1.7h-1.7zM186.9 117.4h1.7v1.7h-1.7zM70.1 235.6h1.7v1.7h-1.7zM96.2 209.2h1.7v1.7h-1.7zM139.7 165h1.7v1.7h-1.7zM78.7 224.9h1.7v1.7h-1.7zM139.2 165.2h1.7v1.7h-1.7zM69.9 234.9h1.7v1.7h-1.7zM89.3 214.9h1.7v1.7h-1.7zM193.2 111.8h1.7v1.7h-1.7zM193.6 110.6h1.7v1.7h-1.7zM109.1 195.7h1.7v1.7h-1.7zM143 163.6h1.7v1.7h-1.7zM59.6 243.6h1.7v1.7h-1.7zM72.4 233h1.7v1.7h-1.7zM119.7 185.2h1.7v1.7h-1.7zM162.4 142.4h1.7v1.7h-1.7zM158.5 147.4h1.7v1.7h-1.7zM129.4 175.4h1.7v1.7h-1.7zM145.1 159h1.7v1.7h-1.7zM160.5 144.8h1.7v1.7h-1.7zM120.8 186.2h1.7v1.7h-1.7zM72.1 233.3h1.7v1.7h-1.7zM148.4 156.8h1.7v1.7h-1.7zM154 150.9h1.7v1.7h-1.7zM75.8 227.2h1.7v1.7h-1.7zM129.2 175.1h1.7v1.7h-1.7zM171.9 133.3h1.7v1.7h-1.7zM68 237h1.7v1.7h-1.7zM66.2 239.1h1.7v1.7h-1.7zM135.9 166.6h1.7v1.7h-1.7zM87.7 218.4h1.7v1.7h-1.7zM81.4 223h1.7v1.7h-1.7zM65.4 239.2h1.7v1.7h-1.7zM147.5 158h1.7v1.7h-1.7zM69.1 234.8h1.7v1.7h-1.7zM114.4 192h1.7v1.7h-1.7zM185.8 119.1h1.7v1.7h-1.7zM201.3 102.2h1.7v1.7h-1.7zM214.3 90.9h1.7v1.7h-1.7zM76.6 228.6h1.7v1.7h-1.7zM164.7 139.9h1.7v1.7h-1.7zM85.4 218.6h1.7v1.7h-1.7zM187.4 116.4h1.7v1.7h-1.7zM139 165.9h1.7v1.7h-1.7zM165.8 139h1.7v1.7h-1.7zM191.3 113h1.7v1.7h-1.7zM91 212.5h1.7v1.7h-1.7zM89 217.1h1.7v1.7h-1.7zM130.5 174.5h1.7v1.7h-1.7zM63.1 242.6h1.7v1.7h-1.7zM103.3 201.5h1.7v1.7h-1.7zM67.5 238.2h1.7v1.7h-1.7zM148.7 155.6h1.7v1.7h-1.7zM94.2 208.9h1.7v1.7h-1.7zM89 215.9h1.7v1.7h-1.7zM145.7 157.5h1.7v1.7h-1.7zM97.5 206.2h1.7v1.7h-1.7zM85.8 217.6h1.7v1.7h-1.7zM177.3 126.9h1.7v1.7h-1.7zM55.3 250.2h1.7v1.7h-1.7zM171 134.6h1.7v1.7h-1.7zM59.7 245h1.7v1.7h-1.7zM152.2 154.3h1.7v1.7h-1.7zM146.1 158.5h1.7v1.7h-1.7zM188.8 116.1h1.7v1.7h-1.7zM118.8 186.1h1.7v1.7h-1.7zM62.6 240.9h1.7v1.7h-1.7zM67.6 235h1.7v1.7h-1.7zM89.5 216.6h1.7v1.7h-1.7zM141.7 163.4h1.7v1.7h-1.7zM202.5 103.1h1.7v1.7h-1.7zM208.4 95.9h1.7v1.7h-1.7zM128.9 176.6h1.7v1.7h-1.7zM192.3 111.7h1.7v1.7h-1.7zM59.5 244.1h1.7v1.7h-1.7zM154.8 150.4h1.7v1.7h-1.7zM157.3 146.4h1.7v1.7h-1.7zM197.2 105.6h1.7v1.7h-1.7zM162.7 143.6h1.7v1.7h-1.7zM191.5 112h1.7v1.7h-1.7zM196 109.4h1.7v1.7h-1.7zM76.6 229.2h1.7v1.7h-1.7zM195.1 108.8h1.7v1.7h-1.7zM90.3 214.5h1.7v1.7h-1.7zM144.1 160.6h1.7v1.7h-1.7zM159.5 144.5h1.7v1.7h-1.7zM130.2 175.1h1.7v1.7h-1.7zM127.7 178.2h1.7v1.7h-1.7zM103.8 200.9h1.7v1.7h-1.7zM112.5 192.1h1.7v1.7h-1.7zM120.4 184h1.7v1.7h-1.7zM76.7 227.2h1.7v1.7h-1.7zM73.5 232h1.7v1.7h-1.7zM89.4 214.2h1.7v1.7h-1.7zM139.8 165.9h1.7v1.7h-1.7zM55.9 247.7h1.7v1.7h-1.7zM181.5 123.4h1.7v1.7h-1.7zM61.6 243.4h1.7v1.7h-1.7zM114 191.2h1.7v1.7h-1.7zM160.3 144.7h1.7v1.7h-1.7zM113.3 192h1.7v1.7h-1.7zM183.1 123.1h1.7v1.7h-1.7zM81.5 225.6h1.7v1.7h-1.7zM193.3 113.3h1.7v1.7h-1.7zM217.1 86.8h1.7v1.7h-1.7zM107.6 195.7h1.7v1.7h-1.7zM127 179h1.7v1.7h-1.7zM154.4 151.3h1.7v1.7h-1.7zM113.9 190.6h1.7v1.7h-1.7zM118.3 185.6h1.7v1.7h-1.7zM117.5 187.9h1.7v1.7h-1.7zM141.2 164.4h1.7v1.7h-1.7zM112.1 193.4h1.7v1.7h-1.7zM215 91.5h1.7v1.7h-1.7zM185.1 119h1.7v1.7h-1.7zM121.3 186.3h1.7v1.7h-1.7zM185.3 121.9h1.7v1.7h-1.7zM115.1 188.6h1.7v1.7h-1.7zM72 231.9h1.7v1.7h-1.7zM106 195.4h1.7v1.7h-1.7zM155.2 151.4h1.7v1.7h-1.7zM140.5 163.8h1.7v1.7h-1.7zM64.6 240.6h1.7v1.7h-1.7zM190.5 112.8h1.7v1.7h-1.7zM154.8 148.8h1.7v1.7h-1.7zM158.3 144.7h1.7v1.7h-1.7zM136.5 166.9h1.7v1.7h-1.7zM104.3 200h1.7v1.7h-1.7zM193.5 114h1.7v1.7h-1.7zM104.1 202.5h1.7v1.7h-1.7zM122.4 182.9h1.7v1.7h-1.7zM150.3 155.6h1.7v1.7h-1.7zM208 96.1h1.7v1.7h-1.7zM63.1 239.8h1.7v1.7h-1.7zM76.8 228.7h1.7v1.7h-1.7zM208 95.8h1.7v1.7h-1.7zM137.8 166.8h1.7v1.7h-1.7zM120.5 185.3h1.7v1.7h-1.7zM197.1 106.3h1.7v1.7h-1.7zM210.7 94.3h1.7v1.7h-1.7zM209.4 93.4h1.7v1.7h-1.7zM62.9 241.1h1.7v1.7h-1.7zM67.5 237.5h1.7v1.7h-1.7zM220.4 82.2h1.7v1.7h-1.7zM267.6 35.7h1.7v1.7h-1.7zM253.5 47.9h1.7v1.7h-1.7zM253.6 50.1h1.7v1.7h-1.7zM263.6 41.4h1.7v1.7h-1.7zM230.5 79.5h1.7v1.7h-1.7zM263.4 42.1h1.7v1.7h-1.7zM287.8 18.1h1.7v1.7h-1.7zM266.2 38.8h1.7v1.7h-1.7zM278.5 28.1h1.7v1.7h-1.7zM264 41.9h1.7v1.7h-1.7zM281.9 23.6h1.7v1.7h-1.7zM287.5 17.3h1.7v1.7h-1.7zM222.6 84.5h1.7v1.7h-1.7zM280.5 20.9h1.7v1.7h-1.7zM234.9 72.3h1.7v1.7h-1.7zM241.6 65.3h1.7v1.7h-1.7zM222.6 79.7h1.7v1.7h-1.7zM224.9 77.1h1.7v1.7h-1.7zM273.2 36h1.7v1.7h-1.7zM258.6 46.2h1.7v1.7h-1.7zM275 27.2h1.7v1.7h-1.7zM274.2 24.9h1.7v1.7h-1.7zM272.4 33.9h1.7v1.7h-1.7zM246.3 59.5h1.7v1.7h-1.7zM249.3 53.9h1.7v1.7h-1.7zM283.4 22.7h1.7v1.7h-1.7zM222.7 81.3h1.7v1.7h-1.7zM272.1 32.8h1.7v1.7h-1.7zM246.2 58.8h1.7v1.7h-1.7zM227.5 75.6h1.7v1.7h-1.7zM260.1 43.4h1.7v1.7h-1.7zM235 72.1h1.7v1.7h-1.7zM295.3 10.5h1.7v1.7h-1.7zM261.8 46.4h1.7v1.7h-1.7zM293.9 11.1h1.7v1.7h-1.7zM229.8 75.3h1.7v1.7h-1.7zM263.1 40.4h1.7v1.7h-1.7zM266.3 40.2h1.7v1.7h-1.7zM242.8 60.9h1.7v1.7h-1.7zM296.6 10.2h1.7v1.7h-1.7zM284.4 20.2h1.7v1.7h-1.7zM256.7 48.1h1.7v1.7h-1.7zM284.4 22.7h1.7v1.7h-1.7zM234.6 72.5h1.7v1.7h-1.7zM277.2 26.4h1.7v1.7h-1.7zM274.4 31.9h1.7v1.7h-1.7zM260.6 47.1h1.7v1.7h-1.7zM279.6 28.2h1.7v1.7h-1.7zM258.5 43.4h1.7v1.7h-1.7zM247.6 51.7h1.7v1.7h-1.7zM244.1 61.4h1.7v1.7h-1.7zM238.9 64.7h1.7v1.7h-1.7zM273.3 29.2h1.7v1.7h-1.7zM250.9 52.8h1.7v1.7h-1.7zM296.6 4.3h1.7v1.7h-1.7zM232.4 74.7h1.7v1.7h-1.7zM280 29h1.7v1.7h-1.7zM224.2 79.3h1.7v1.7h-1.7zM246.2 57.7h1.7v1.7h-1.7zM231.7 76.1h1.7v1.7h-1.7zM260.4 46.1h1.7v1.7h-1.7zM272.8 32.4h1.7v1.7h-1.7zM238.5 66.1h1.7v1.7h-1.7zM232.5 73.5h1.7v1.7h-1.7zM225.6 78.8h1.7v1.7h-1.7zM231.4 75.2h1.7v1.7h-1.7zM242.8 60.8h1.7v1.7h-1.7zM268.5 37.7h1.7v1.7h-1.7zM244.2 60.9h1.7v1.7h-1.7zM287.4 15.1h1.7v1.7h-1.7zM222.9 79.6h1.7v1.7h-1.7zM236.9 71.8h1.7v1.7h-1.7zM274.3 28.7h1.7v1.7h-1.7zM281.3 26.1h1.7v1.7h-1.7zM284.9 18.8h1.7v1.7h-1.7zM259 43.1h1.7v1.7h-1.7zM269.6 36.1h1.7v1.7h-1.7zM261.6 43.6h1.7v1.7h-1.7zM274.5 29.4h1.7v1.7h-1.7zM295.7 6.2h1.7v1.7h-1.7zM248.1 58.7h1.7v1.7h-1.7zM287.5 15.3h1.7v1.7h-1.7zM226.4 75.9h1.7v1.7h-1.7zM262.5 44.2h1.7v1.7h-1.7zM237.5 64.3h1.7v1.7h-1.7zM299.1 7.7h1.7v1.7h-1.7zM286.9 19.3h1.7v1.7h-1.7zM253.2 50.8h1.7v1.7h-1.7zM230.8 72.6h1.7v1.7h-1.7zM236.6 67.2h1.7v1.7h-1.7zM292.4 14h1.7v1.7h-1.7zM226.9 80.1h1.7v1.7h-1.7zM280.1 22.5h1.7v1.7h-1.7zM243.4 61.6h1.7v1.7h-1.7zM267.4 38.3h1.7v1.7h-1.7zM259.7 44.7h1.7v1.7h-1.7zM230.1 73.6h1.7v1.7h-1.7zM295.7 9.8h1.7v1.7h-1.7zM250.2 54.3h1.7v1.7h-1.7zM289.1 17.6h1.7v1.7h-1.7zM272.5 32.8h1.7v1.7h-1.7zM280.9 23.9h1.7v1.7h-1.7zM233.9 69.9h1.7v1.7h-1.7zM227.5 77.9h1.7v1.7h-1.7zM239.4 64.9h1.7v1.7h-1.7zM270 31.7h1.7v1.7h-1.7zM238.8 66.4h1.7v1.7h-1.7zM293.2 13.3h1.7v1.7h-1.7zM267.1 34.3h1.7v1.7h-1.7zM271.3 28.9h1.7v1.7h-1.7zM225.4 76h1.7v1.7h-1.7zM273.2 32.5h1.7v1.7h-1.7zM279.9 26.7h1.7v1.7h-1.7zM275.2 26.5h1.7v1.7h-1.7zM290.1 15.7h1.7v1.7h-1.7zM268 36.6h1.7v1.7h-1.7zM273.6 30.8h1.7v1.7h-1.7zM291.5 13.1h1.7v1.7h-1.7zM236.9 67.6h1.7v1.7h-1.7zM285.9 15.5h1.7v1.7h-1.7zM285.4 18.7h1.7v1.7h-1.7zM282.5 23.5h1.7v1.7h-1.7zM297 6h1.7v1.7h-1.7zM270.3 33.5h1.7v1.7h-1.7zM280.3 26.5h1.7v1.7h-1.7zM281.1 20.4h1.7v1.7h-1.7zM272.6 33.9h1.7v1.7h-1.7zM269.4 35.3h1.7v1.7h-1.7zM225.6 80h1.7v1.7h-1.7zM243.3 58.9h1.7v1.7h-1.7zM248.9 54.3h1.7v1.7h-1.7zM290.2 15.8h1.7v1.7h-1.7zM227.5 78.6h1.7v1.7h-1.7zM237.4 69.3h1.7v1.7h-1.7zM235.5 65.3h1.7v1.7h-1.7zM268.6 36.9h1.7v1.7h-1.7zM277.6 30.6h1.7v1.7h-1.7zM285.8 18.3h1.7v1.7h-1.7zM222.8 80.9h1.7v1.7h-1.7zM246.1 56.9h1.7v1.7h-1.7zM242.9 64.7h1.7v1.7h-1.7zM281.4 23.4h1.7v1.7h-1.7zM230.3 76.1h1.7v1.7h-1.7zM251.3 50.4h1.7v1.7h-1.7zM251.6 51.7h1.7v1.7h-1.7zM246.1 60.6h1.7v1.7h-1.7zM231.2 73.7h1.7v1.7h-1.7zM223.5 80.4h1.7v1.7h-1.7zM272.7 29h1.7v1.7h-1.7zM268.3 36.3h1.7v1.7h-1.7zM293.3 12.4h1.7v1.7h-1.7zM253.8 53.8h1.7v1.7h-1.7zM285.3 18.4h1.7v1.7h-1.7zM282.1 22h1.7v1.7h-1.7zM268.2 38h1.7v1.7h-1.7zM274.9 32.8h1.7v1.7h-1.7zM241.6 59.4h1.7v1.7h-1.7zM234.8 65.3h1.7v1.7h-1.7zM258.1 43.8h1.7v1.7h-1.7zM256.3 47.7h1.7v1.7h-1.7zM268.2 35h1.7v1.7h-1.7zM272.7 30.2h1.7v1.7h-1.7zM286.8 21.5h1.7v1.7h-1.7zM243.9 61.2h1.7v1.7h-1.7zM231.9 72.3h1.7v1.7h-1.7zM255.9 49.6h1.7v1.7h-1.7zM263.5 38.5h1.7v1.7h-1.7zM282.3 21.8h1.7v1.7h-1.7zM251.1 50.1h1.7v1.7h-1.7zM257.5 49.6h1.7v1.7h-1.7zM255.8 47.6h1.7v1.7h-1.7zM246.9 57.5h1.7v1.7h-1.7zM242.7 61h1.7v1.7h-1.7zM286.3 21.1h1.7v1.7h-1.7zM277.7 24h1.7v1.7h-1.7zM283.3 19.6h1.7v1.7h-1.7zM288.9 17.9h1.7v1.7h-1.7zM291.4 10.9h1.7v1.7h-1.7zM272.1 36.4h1.7v1.7h-1.7zM229.1 75.5h1.7v1.7h-1.7zM235.8 67.3h1.7v1.7h-1.7zM271.3 32.6h1.7v1.7h-1.7zM240.2 61.3h1.7v1.7h-1.7zM255.5 48h1.7v1.7h-1.7zM235.3 67.9h1.7v1.7h-1.7zM231.2 69.2h1.7v1.7h-1.7zM254.8 47.4h1.7v1.7h-1.7zM243.9 63.6h1.7v1.7h-1.7zM260.7 42.7h1.7v1.7h-1.7zM286.6 17.7h1.7v1.7h-1.7zM244.8 60.9h1.7v1.7h-1.7zM266.6 41.6h1.7v1.7h-1.7zM231.2 71.3h1.7v1.7h-1.7zM298.3 5.4h1.7v1.7h-1.7zM294.6 8.2h1.7v1.7h-1.7zM251.5 54h1.7v1.7h-1.7zM250.1 53.3h1.7v1.7h-1.7zM272.1 33h1.7v1.7h-1.7zM251 55.4h1.7v1.7h-1.7zM288 15.3h1.7v1.7h-1.7zM229.5 76.2h1.7v1.7h-1.7zM238.2 68.4h1.7v1.7h-1.7zM233.1 71.4h1.7v1.7h-1.7zM223.7 82.3h1.7v1.7h-1.7zM262.6 39.8h1.7v1.7h-1.7zM254.6 46.8h1.7v1.7h-1.7zM272.3 35.5h1.7v1.7h-1.7zM258.9 45.9h1.7v1.7h-1.7zM285.6 19.3h1.7v1.7h-1.7zM239.7 67.6h1.7v1.7h-1.7zM231.7 76.4h1.7v1.7h-1.7zM281.5 18.9h1.7v1.7h-1.7zM250.3 50h1.7v1.7h-1.7zM251.7 54.2h1.7v1.7h-1.7zM264.5 44h1.7v1.7h-1.7zM237.6 69.4h1.7v1.7h-1.7zM263.4 41.6h1.7v1.7h-1.7zM243.2 59.1h1.7v1.7h-1.7zM240.9 61.1h1.7v1.7h-1.7zM290.8 14.5h1.7v1.7h-1.7zM247.8 57.1h1.7v1.7h-1.7zM234.7 68.6h1.7v1.7h-1.7zM225.3 76h1.7v1.7h-1.7zM280.4 22.2h1.7v1.7h-1.7zM288.2 18.1h1.7v1.7h-1.7zM293.8 10.6h1.7v1.7h-1.7zM238.3 66.5h1.7v1.7h-1.7zM291.8 13h1.7v1.7h-1.7zM249.6 58.8h1.7v1.7h-1.7zM264.1 37.7h1.7v1.7h-1.7zM297.4 5.7h1.7v1.7h-1.7zM224.5 83.5h1.7v1.7h-1.7zM269.8 34.6h1.7v1.7h-1.7zM263.4 42.2h1.7v1.7h-1.7zM297.6 8.5h1.7v1.7h-1.7zM274.8 30.4h1.7v1.7h-1.7zM289.7 17.8h1.7v1.7h-1.7zM252.8 51.6h1.7v1.7h-1.7zM297.4 8.2h1.7v1.7h-1.7zM237.8 66.6h1.7v1.7h-1.7zM286.7 20.6h1.7v1.7h-1.7zM280.8 24.6h1.7v1.7h-1.7zM243.1 59.1h1.7v1.7h-1.7zM282.5 20h1.7v1.7h-1.7zM287.8 18.7h1.7v1.7h-1.7zM273.7 29.1h1.7v1.7h-1.7zM271.2 31.9h1.7v1.7h-1.7zM228 77h1.7v1.7h-1.7zM272.2 33.9h1.7v1.7h-1.7zM295.1 11.3h1.7v1.7h-1.7zM276.3 31.6h1.7v1.7h-1.7zM266.6 38.7h1.7v1.7h-1.7zM292.1 12.7h1.7v1.7h-1.7zM258.1 46.5h1.7v1.7h-1.7zM242.5 62.1h1.7v1.7h-1.7zM234.3 71.6h1.7v1.7h-1.7zM297.6 7.2h1.7v1.7h-1.7zM285.6 17h1.7v1.7h-1.7zM250.1 55.5h1.7v1.7h-1.7zM232.8 73.8h1.7v1.7h-1.7zM284.6 18.8h1.7v1.7h-1.7zM267.9 36.6h1.7v1.7h-1.7zM270.8 35.1h1.7v1.7h-1.7zM269.2 35.8h1.7v1.7h-1.7zM254.1 52.2h1.7v1.7h-1.7zM224.1 78.6h1.7v1.7h-1.7zM232.8 68.9h1.7v1.7h-1.7zM248 57.2h1.7v1.7h-1.7zM232.3 75h1.7v1.7h-1.7zM226.6 80.5h1.7v1.7h-1.7zM264.9 39.7h1.7v1.7h-1.7zM224.1 80.1h1.7v1.7h-1.7zM294.2 12.9h1.7v1.7h-1.7zM262.1 41.7h1.7v1.7h-1.7zM234 68.9h1.7v1.7h-1.7zM235.8 67.5h1.7v1.7h-1.7zM245.5 60.6h1.7v1.7h-1.7zM233.2 71.5h1.7v1.7h-1.7zM222.7 81.9h1.7v1.7h-1.7zM291.3 15.2h1.7v1.7h-1.7zM261.8 39h1.7v1.7h-1.7zM242.7 63.4h1.7v1.7h-1.7zM266.3 37.6h1.7v1.7h-1.7zM284.3 20.5h1.7v1.7h-1.7zM243.2 63.9h1.7v1.7h-1.7zM243.9 61.9h1.7v1.7h-1.7zM229.4 80.6h1.7v1.7h-1.7zM281 28h1.7v1.7h-1.7zM255.2 51.5h1.7v1.7h-1.7zM285.8 21.7h1.7v1.7h-1.7zM281.9 24.7h1.7v1.7h-1.7zM221.6 81.6h1.7v1.7h-1.7zM297.4 7.3h1.7v1.7h-1.7zM252.4 52.8h1.7v1.7h-1.7zM231.3 71.6h1.7v1.7h-1.7zM232.8 73.4h1.7v1.7h-1.7zM271.3 31.2h1.7v1.7h-1.7zM251.1 53.9h1.7v1.7h-1.7zM262.4 43.2h1.7v1.7h-1.7zM274.1 29.1h1.7v1.7h-1.7zM259.1 45.1h1.7v1.7h-1.7zM295 8.3h1.7v1.7h-1.7zM221.8 83.4h1.7v1.7h-1.7zM288.1 19.4h1.7v1.7h-1.7zM266.4 35.7h1.7v1.7h-1.7zM287.2 17.1h1.7v1.7h-1.7zM283.7 23.4h1.7v1.7h-1.7zM230.2 74.8h1.7v1.7h-1.7zM237.6 69h1.7v1.7h-1.7zM228.6 73h1.7v1.7h-1.7zM233.3 72.9h1.7v1.7h-1.7zM229.8 74.7h1.7v1.7h-1.7zM276.1 28.4h1.7v1.7h-1.7zM221.4 83.5h1.7v1.7h-1.7zM285.7 18.8h1.7v1.7h-1.7zM269.9 36.7h1.7v1.7h-1.7zM274 30.1h1.7v1.7h-1.7zM253.4 50.5h1.7v1.7h-1.7zM221.6 81.9h1.7v1.7h-1.7zM225.5 78.9h1.7v1.7h-1.7zM238.6 67.4h1.7v1.7h-1.7zM221.1 82.8h1.7v1.7h-1.7zM261.5 43.8h1.7v1.7h-1.7zM291.4 12.5h1.7v1.7h-1.7zM239.9 65.9h1.7v1.7h-1.7zM252.5 50.5h1.7v1.7h-1.7zM255.5 43.2h1.7v1.7h-1.7zM238.3 67.9h1.7v1.7h-1.7zM260.7 42.9h1.7v1.7h-1.7zM262.5 41.8h1.7v1.7h-1.7zM230.3 74.7h1.7v1.7h-1.7zM243.1 62.2h1.7v1.7h-1.7zM253 50.8h1.7v1.7h-1.7zM266.4 36.9h1.7v1.7h-1.7zM224.6 77.7h1.7v1.7h-1.7zM223.2 83.8h1.7v1.7h-1.7zM281.9 24.3h1.7v1.7h-1.7zM264 41.9h1.7v1.7h-1.7zM265.1 40.5h1.7v1.7h-1.7zM283.2 23.7h1.7v1.7h-1.7zM250.8 54.8h1.7v1.7h-1.7zM269.5 32h1.7v1.7h-1.7zM224.1 78.8h1.7v1.7h-1.7zM263.7 42.4h1.7v1.7h-1.7zM298 12.1h1.7v1.7h-1.7zM277.2 28.4h1.7v1.7h-1.7zM245.6 60.5h1.7v1.7h-1.7zM223.9 82.4h1.7v1.7h-1.7zM280.9 26.2h1.7v1.7h-1.7zM293.9 9.9h1.7v1.7h-1.7zM224.9 80h1.7v1.7h-1.7zM223.7 78.7h1.7v1.7h-1.7zM270.7 37.8h1.7v1.7h-1.7zM227.9 76.9h1.7v1.7h-1.7zM254.8 47h1.7v1.7h-1.7zM225.6 77.8h1.7v1.7h-1.7zM266.2 39.2h1.7v1.7h-1.7zM269 36.8h1.7v1.7h-1.7zM274 27.5h1.7v1.7h-1.7zM284.1 24.2h1.7v1.7h-1.7zM292.8 12.9h1.7v1.7h-1.7zM290.4 18.2h1.7v1.7h-1.7zM239 67.1h1.7v1.7h-1.7zM296.7 9.4h1.7v1.7h-1.7zM239.4 64.4h1.7v1.7h-1.7zM223.4 82h1.7v1.7h-1.7zM294.5 8.2h1.7v1.7h-1.7zM232.2 72.6h1.7v1.7h-1.7zM286.8 20.4h1.7v1.7h-1.7zM220.9 83.1h1.7v1.7h-1.7zM281.9 23.4h1.7v1.7h-1.7zM288.6 21.4h1.7v1.7h-1.7zM245.6 55.5h1.7v1.7h-1.7zM250.9 51.6h1.7v1.7h-1.7zM234.8 68h1.7v1.7h-1.7zM301.1 9.5h1.7v1.7h-1.7zM266.4 39.1h1.7v1.7h-1.7zM268.5 35.5h1.7v1.7h-1.7zM244.8 59.8h1.7v1.7h-1.7zM181.6 121.7h1.7v1.7h-1.7zM200.3 102.1h1.7v1.7h-1.7zM199.8 98.7h1.7v1.7h-1.7zM162.5 141.3h1.7v1.7h-1.7zM271.5 31.4h1.7v1.7h-1.7zM256 53.1h1.7v1.7h-1.7zM226.7 77.7h1.7v1.7h-1.7zM211 92.1h1.7v1.7h-1.7zM264.8 41.1h1.7v1.7h-1.7zM89.2 215.7h1.7v1.7h-1.7zM210.2 97.2h1.7v1.7h-1.7zM170.2 132.8h1.7v1.7h-1.7zM176.5 125.3h1.7v1.7h-1.7zM215.4 93.4h1.7v1.7h-1.7zM210.2 61.9h1.7v1.7h-1.7zM203.7 69.1h1.7v1.7h-1.7zM202 73.4h1.7v1.7h-1.7zM200.4 77.8h1.7v1.7h-1.7zM208.4 79.1h1.7v1.7h-1.7zM198.8 82.1h1.7v1.7h-1.7zM197.1 86.5h1.7v1.7h-1.7zM230.3 48.4h1.7v1.7h-1.7zM233.3 58.4h1.7v1.7h-1.7zM249.8 34.1h1.7v1.7h-1.7zM269.6 21h1.7v1.7h-1.7zM275.1 13.6h1.7v1.7h-1.7zM270.4 20.4h1.7v1.7h-1.7zM284.1 12.2h1.7v1.7h-1.7zM297.9 11.7h1.7v1.7h-1.7zM303.1 6.7h1.7v1.7h-1.7zM112.2 183.6h1.7v1.7h-1.7zM114.8 181.7h1.7v1.7h-1.7zM124.2 173.6h1.7v1.7h-1.7zM129.2 169.8h1.7v1.7h-1.7zM212 88.9h1.7v1.7h-1.7zM215.8 87h1.7v1.7h-1.7zM114.2 181.1h1.7v1.7h-1.7zM112.2 183.6h1.7v1.7h-1.7z" fill="#0000ff"/>
<line x1="55.9" y1="250.75" x2="300.6" y2="7.5" stroke="#ff0000" stroke-width="1"/>
</g><g clip-path="url(#cb)">
<path d="M55.7 551.6 L133.7 473.8" stroke="#008000" stroke-width="4.0" fill="none" stroke-linecap="round"/>
<path d="M128.1 478 L191.5 414.7" stroke="#008000" stroke-width="4.4" fill="none" stroke-linecap="round"/>
<path d="M186 418.9 L215.2 389.8" stroke="#008000" stroke-width="2.8" fill="none" stroke-linecap="round"/>
<path d="M121.4 480.9h1.7v1.7h-1.7zM97.5 506.8h1.7v1.7h-1.7zM99.5 505.4h1.7v1.7h-1.7zM86.1 516.5h1.7v1.7h-1.7zM146.8 458.8h1.7v1.7h-1.7zM68.2 536.6h1.7v1.7h-1.7zM161.7 443.5h1.7v1.7h-1.7zM171.8 432.1h1.7v1.7h-1.7zM185.1 419.5h1.7v1.7h-1.7zM94.5 510.1h1.7v1.7h-1.7zM175 422.7h1.7v1.7h-1.7zM67.3 537.1h1.7v1.7h-1.7zM183 418.9h1.7v1.7h-1.7zM63.3 541.9h1.7v1.7h-1.7zM81.6 522.4h1.7v1.7h-1.7zM177.4 423h1.7v1.7h-1.7zM149 453.4h1.7v1.7h-1.7zM93.5 512.2h1.7v1.7h-1.7zM124.5 476.5h1.7v1.7h-1.7zM139.4 468.6h1.7v1.7h-1.7zM98.6 505.2h1.7v1.7h-1.7zM101.7 504.1h1.7v1.7h-1.7zM183.1 421.7h1.7v1.7h-1.7zM98.3 504.4h1.7v1.7h-1.7zM59.4 546.2h1.7v1.7h-1.7zM119.6 483.4h1.7v1.7h-1.7zM113.9 490h1.7v1.7h-1.7zM152.9 453.9h1.7v1.7h-1.7zM142.5 463.1h1.7v1.7h-1.7zM95 510.1h1.7v1.7h-1.7zM80.8 526.7h1.7v1.7h-1.7zM65.9 538.8h1.7v1.7h-1.7zM70.2 532.1h1.7v1.7h-1.7zM157.9 445.6h1.7v1.7h-1.7zM160.3 443.8h1.7v1.7h-1.7zM58.2 548.3h1.7v1.7h-1.7zM116.6 486.8h1.7v1.7h-1.7zM157.5 446.8h1.7v1.7h-1.7zM140.5 462.7h1.7v1.7h-1.7zM140.3 464.5h1.7v1.7h-1.7zM105.8 500.9h1.7v1.7h-1.7zM138.6 467.4h1.7v1.7h-1.7zM85.8 519.2h1.7v1.7h-1.7zM97 506.5h1.7v1.7h-1.7zM173.2 429.7h1.7v1.7h-1.7zM60.8 543.5h1.7v1.7h-1.7zM126.5 479.2h1.7v1.7h-1.7zM94.3 509.5h1.7v1.7h-1.7zM115.7 488.1h1.7v1.7h-1.7zM105.4 500.2h1.7v1.7h-1.7zM67 540.1h1.7v1.7h-1.7zM64.3 541.1h1.7v1.7h-1.7zM94.7 507.3h1.7v1.7h-1.7zM71.5 534.8h1.7v1.7h-1.7zM171.2 431.1h1.7v1.7h-1.7zM100.9 504.8h1.7v1.7h-1.7zM130.1 472.4h1.7v1.7h-1.7zM140.1 464h1.7v1.7h-1.7zM61.9 543.5h1.7v1.7h-1.7zM119.5 486.1h1.7v1.7h-1.7zM145.6 459h1.7v1.7h-1.7zM92.9 509.7h1.7v1.7h-1.7zM134.7 470.8h1.7v1.7h-1.7zM68 535.4h1.7v1.7h-1.7zM172.2 434.2h1.7v1.7h-1.7zM155.4 450.1h1.7v1.7h-1.7zM148.9 453.7h1.7v1.7h-1.7zM82.6 522.3h1.7v1.7h-1.7zM65.7 540.7h1.7v1.7h-1.7zM158.3 443.9h1.7v1.7h-1.7zM80.4 528.1h1.7v1.7h-1.7zM134.8 468.5h1.7v1.7h-1.7zM71.5 533.2h1.7v1.7h-1.7zM169.4 432.2h1.7v1.7h-1.7zM125.1 479.9h1.7v1.7h-1.7zM81.5 521.7h1.7v1.7h-1.7zM88.3 517.5h1.7v1.7h-1.7zM156.3 448.9h1.7v1.7h-1.7zM92.2 514h1.7v1.7h-1.7zM115.7 488.3h1.7v1.7h-1.7zM80 529.1h1.7v1.7h-1.7zM106.3 497.8h1.7v1.7h-1.7zM103.3 500.9h1.7v1.7h-1.7zM56.2 551.1h1.7v1.7h-1.7zM118.4 487.8h1.7v1.7h-1.7zM93.6 511.1h1.7v1.7h-1.7zM164.1 433.9h1.7v1.7h-1.7zM75.3 531.5h1.7v1.7h-1.7zM156.2 448.2h1.7v1.7h-1.7zM138 466.2h1.7v1.7h-1.7zM102.9 500.4h1.7v1.7h-1.7zM148.8 455.1h1.7v1.7h-1.7zM89.6 515.5h1.7v1.7h-1.7zM155.1 450.3h1.7v1.7h-1.7zM81.7 523.9h1.7v1.7h-1.7zM144 461.3h1.7v1.7h-1.7zM106 495.9h1.7v1.7h-1.7zM92.2 512.1h1.7v1.7h-1.7zM174 428h1.7v1.7h-1.7zM127.6 476.2h1.7v1.7h-1.7zM138.8 464h1.7v1.7h-1.7zM129 475.2h1.7v1.7h-1.7zM96.7 506h1.7v1.7h-1.7zM132.6 470.7h1.7v1.7h-1.7zM75.4 530.8h1.7v1.7h-1.7zM122 484.1h1.7v1.7h-1.7zM156.4 448.8h1.7v1.7h-1.7zM123 479.6h1.7v1.7h-1.7zM94.6 511.3h1.7v1.7h-1.7zM61.4 545.1h1.7v1.7h-1.7zM87.9 520.7h1.7v1.7h-1.7zM102.2 502.5h1.7v1.7h-1.7zM170.5 435.6h1.7v1.7h-1.7zM90.4 515.9h1.7v1.7h-1.7zM95.2 511.6h1.7v1.7h-1.7zM165.5 435.7h1.7v1.7h-1.7zM107.3 498.9h1.7v1.7h-1.7zM139.9 466h1.7v1.7h-1.7zM92.2 511.7h1.7v1.7h-1.7zM120.1 483.9h1.7v1.7h-1.7zM116.8 488.2h1.7v1.7h-1.7zM115.6 489.2h1.7v1.7h-1.7zM91.3 511.9h1.7v1.7h-1.7zM93.1 510.2h1.7v1.7h-1.7zM80.1 523.5h1.7v1.7h-1.7zM145.1 458.2h1.7v1.7h-1.7zM168 432.7h1.7v1.7h-1.7zM158.7 448.9h1.7v1.7h-1.7zM61 541.3h1.7v1.7h-1.7zM134.7 469.4h1.7v1.7h-1.7zM130.7 474.4h1.7v1.7h-1.7zM153.5 451.2h1.7v1.7h-1.7zM87.3 517.1h1.7v1.7h-1.7zM136.5 466.5h1.7v1.7h-1.7zM94.7 510.6h1.7v1.7h-1.7zM169.7 436.1h1.7v1.7h-1.7zM148.9 456.2h1.7v1.7h-1.7zM121.3 482.7h1.7v1.7h-1.7zM109.8 493.8h1.7v1.7h-1.7zM134.6 470h1.7v1.7h-1.7zM122.5 481.1h1.7v1.7h-1.7zM131.9 472h1.7v1.7h-1.7zM151.9 452.6h1.7v1.7h-1.7zM87.9 514.5h1.7v1.7h-1.7zM99.7 503h1.7v1.7h-1.7zM92.9 509.6h1.7v1.7h-1.7zM74.2 530.6h1.7v1.7h-1.7zM54.9 550.2h1.7v1.7h-1.7zM145.8 459h1.7v1.7h-1.7zM95.2 508.8h1.7v1.7h-1.7zM161.8 443.9h1.7v1.7h-1.7zM87 515.8h1.7v1.7h-1.7zM62.4 545h1.7v1.7h-1.7zM132.1 472.9h1.7v1.7h-1.7zM106.4 500h1.7v1.7h-1.7zM168.7 434.8h1.7v1.7h-1.7zM151.2 453.1h1.7v1.7h-1.7zM129 473.3h1.7v1.7h-1.7zM84.8 520.6h1.7v1.7h-1.7zM149.5 454.4h1.7v1.7h-1.7zM66.2 542.4h1.7v1.7h-1.7zM168.4 433.2h1.7v1.7h-1.7zM109.2 495.4h1.7v1.7h-1.7zM155.4 450.6h1.7v1.7h-1.7zM166.4 440.3h1.7v1.7h-1.7zM78.7 527.6h1.7v1.7h-1.7zM151.8 453.6h1.7v1.7h-1.7zM65.6 537.5h1.7v1.7h-1.7zM136.6 468h1.7v1.7h-1.7zM137.4 465.9h1.7v1.7h-1.7zM138.6 463.1h1.7v1.7h-1.7zM110.8 492.5h1.7v1.7h-1.7zM101.8 502.8h1.7v1.7h-1.7zM100.4 505.7h1.7v1.7h-1.7zM171.1 430.4h1.7v1.7h-1.7zM78 529.3h1.7v1.7h-1.7zM61.7 543.5h1.7v1.7h-1.7zM61.9 543.2h1.7v1.7h-1.7zM77 529h1.7v1.7h-1.7zM56.3 551.1h1.7v1.7h-1.7zM150.2 455.4h1.7v1.7h-1.7zM141.8 466.4h1.7v1.7h-1.7zM127.4 476.2h1.7v1.7h-1.7zM61.7 543h1.7v1.7h-1.7zM91.7 513.2h1.7v1.7h-1.7zM103.1 500.3h1.7v1.7h-1.7zM113.1 490.7h1.7v1.7h-1.7zM93.3 507.4h1.7v1.7h-1.7zM182 418.7h1.7v1.7h-1.7zM165.2 435.1h1.7v1.7h-1.7zM165.7 436.6h1.7v1.7h-1.7zM176.4 425.9h1.7v1.7h-1.7zM181 422.9h1.7v1.7h-1.7zM148.4 456.6h1.7v1.7h-1.7zM68 538.7h1.7v1.7h-1.7zM178 423.3h1.7v1.7h-1.7zM169 435.3h1.7v1.7h-1.7zM67.1 536.9h1.7v1.7h-1.7zM168 435.6h1.7v1.7h-1.7zM129.6 477.2h1.7v1.7h-1.7zM123.8 479.2h1.7v1.7h-1.7zM70.1 534.6h1.7v1.7h-1.7zM115.6 488.1h1.7v1.7h-1.7zM174.1 429.1h1.7v1.7h-1.7zM153.7 448.1h1.7v1.7h-1.7zM128.9 476.9h1.7v1.7h-1.7zM168.5 436.2h1.7v1.7h-1.7zM149 455.4h1.7v1.7h-1.7zM151.6 452.5h1.7v1.7h-1.7zM168.5 435.9h1.7v1.7h-1.7zM179.7 420.8h1.7v1.7h-1.7zM133.7 471.7h1.7v1.7h-1.7zM94.3 509.7h1.7v1.7h-1.7zM149.8 453.5h1.7v1.7h-1.7zM75.9 529.6h1.7v1.7h-1.7zM68.5 536.6h1.7v1.7h-1.7zM127.3 479.2h1.7v1.7h-1.7zM134.9 467.7h1.7v1.7h-1.7zM55.6 551.5h1.7v1.7h-1.7zM117 486.6h1.7v1.7h-1.7zM163.9 441.5h1.7v1.7h-1.7zM61.5 544.7h1.7v1.7h-1.7zM136.7 466.6h1.7v1.7h-1.7zM102.4 501.5h1.7v1.7h-1.7zM173.3 429.3h1.7v1.7h-1.7zM114.9 487.4h1.7v1.7h-1.7zM168.5 434.8h1.7v1.7h-1.7zM106.3 496.8h1.7v1.7h-1.7zM124.8 479h1.7v1.7h-1.7zM167.7 440.2h1.7v1.7h-1.7zM103.7 500.5h1.7v1.7h-1.7zM118.9 486.9h1.7v1.7h-1.7zM181.5 423.6h1.7v1.7h-1.7zM133.2 469.1h1.7v1.7h-1.7zM147.7 451.9h1.7v1.7h-1.7zM101.5 502.7h1.7v1.7h-1.7zM161.5 442.1h1.7v1.7h-1.7zM155.9 449.5h1.7v1.7h-1.7zM113.4 494h1.7v1.7h-1.7zM106.8 498.4h1.7v1.7h-1.7zM73.1 532.9h1.7v1.7h-1.7zM117.8 485.5h1.7v1.7h-1.7zM146.7 458.5h1.7v1.7h-1.7zM165.6 434.3h1.7v1.7h-1.7zM101.2 504.3h1.7v1.7h-1.7zM133.2 471.2h1.7v1.7h-1.7zM179.2 424.9h1.7v1.7h-1.7zM140.3 463.5h1.7v1.7h-1.7zM100.5 502.3h1.7v1.7h-1.7zM67.6 537.9h1.7v1.7h-1.7zM89.9 514h1.7v1.7h-1.7zM87.8 515.8h1.7v1.7h-1.7zM99.1 505.5h1.7v1.7h-1.7zM145.5 457.9h1.7v1.7h-1.7zM60.7 544.8h1.7v1.7h-1.7zM120.8 482.8h1.7v1.7h-1.7zM116.1 488.7h1.7v1.7h-1.7zM98.9 505.4h1.7v1.7h-1.7zM116.7 487.1h1.7v1.7h-1.7zM98.8 504.3h1.7v1.7h-1.7zM78.6 526.3h1.7v1.7h-1.7zM145.8 457.9h1.7v1.7h-1.7zM124 481.9h1.7v1.7h-1.7zM92.2 510.6h1.7v1.7h-1.7zM82.4 523.4h1.7v1.7h-1.7zM113.6 488.5h1.7v1.7h-1.7zM159.8 442.2h1.7v1.7h-1.7zM58.5 545.7h1.7v1.7h-1.7zM103.7 498h1.7v1.7h-1.7zM114.3 489.9h1.7v1.7h-1.7zM172.3 432.6h1.7v1.7h-1.7zM154.8 450.7h1.7v1.7h-1.7zM83.3 520.9h1.7v1.7h-1.7zM164.8 440.8h1.7v1.7h-1.7zM99.4 506.5h1.7v1.7h-1.7zM93.2 511.3h1.7v1.7h-1.7zM87.9 516.8h1.7v1.7h-1.7zM73.9 531.7h1.7v1.7h-1.7zM58 545.1h1.7v1.7h-1.7zM158.1 446.8h1.7v1.7h-1.7zM64.3 540.6h1.7v1.7h-1.7zM151.6 448.4h1.7v1.7h-1.7zM124.8 480.4h1.7v1.7h-1.7zM166.5 435.7h1.7v1.7h-1.7zM101.8 500h1.7v1.7h-1.7zM131.5 471.9h1.7v1.7h-1.7zM114.1 488.7h1.7v1.7h-1.7zM171.7 430.6h1.7v1.7h-1.7zM60.5 543.8h1.7v1.7h-1.7zM166.1 436h1.7v1.7h-1.7zM130.9 474.9h1.7v1.7h-1.7zM127.8 478.4h1.7v1.7h-1.7zM162.3 443.3h1.7v1.7h-1.7zM153.8 450.3h1.7v1.7h-1.7zM126 478.1h1.7v1.7h-1.7zM119.2 484.4h1.7v1.7h-1.7zM145.9 457.3h1.7v1.7h-1.7zM77.7 525.7h1.7v1.7h-1.7zM106.5 497.7h1.7v1.7h-1.7zM66.9 538.4h1.7v1.7h-1.7zM147.1 456.8h1.7v1.7h-1.7zM100.7 504.6h1.7v1.7h-1.7zM85.3 516.5h1.7v1.7h-1.7zM166.9 437.3h1.7v1.7h-1.7zM151 450.1h1.7v1.7h-1.7zM74.7 529.5h1.7v1.7h-1.7zM110.3 494.6h1.7v1.7h-1.7zM97.6 504.6h1.7v1.7h-1.7zM132.9 471.7h1.7v1.7h-1.7zM76.4 526.1h1.7v1.7h-1.7zM66.4 539.6h1.7v1.7h-1.7zM173.2 430.4h1.7v1.7h-1.7zM179.1 423.9h1.7v1.7h-1.7zM111.4 490.5h1.7v1.7h-1.7zM150.2 454.9h1.7v1.7h-1.7zM86.1 515.7h1.7v1.7h-1.7zM65.9 540.3h1.7v1.7h-1.7zM184.8 416.7h1.7v1.7h-1.7zM56.7 546.6h1.7v1.7h-1.7zM142.6 462.1h1.7v1.7h-1.7zM102 502h1.7v1.7h-1.7zM84.4 521.5h1.7v1.7h-1.7zM66.9 541.6h1.7v1.7h-1.7zM128.7 477.7h1.7v1.7h-1.7zM173.5 425.5h1.7v1.7h-1.7zM141.6 461.7h1.7v1.7h-1.7zM101.1 502.1h1.7v1.7h-1.7zM77.1 529.9h1.7v1.7h-1.7zM148.2 461.3h1.7v1.7h-1.7zM133 471.7h1.7v1.7h-1.7zM168 433h1.7v1.7h-1.7zM134.7 469.5h1.7v1.7h-1.7zM111.6 489.8h1.7v1.7h-1.7zM97 505.6h1.7v1.7h-1.7zM60.3 545.2h1.7v1.7h-1.7zM56.3 549.5h1.7v1.7h-1.7zM88.9 513.2h1.7v1.7h-1.7zM61.4 546.5h1.7v1.7h-1.7zM121.8 483.6h1.7v1.7h-1.7zM139.3 459.8h1.7v1.7h-1.7zM152.9 449h1.7v1.7h-1.7zM168.9 432.6h1.7v1.7h-1.7zM64.4 541.4h1.7v1.7h-1.7zM91.2 510.2h1.7v1.7h-1.7zM56.2 552.1h1.7v1.7h-1.7zM64.7 542.6h1.7v1.7h-1.7zM128.2 475.2h1.7v1.7h-1.7zM147.2 455h1.7v1.7h-1.7zM91.7 510.5h1.7v1.7h-1.7zM155.4 448h1.7v1.7h-1.7zM177.6 427.1h1.7v1.7h-1.7zM94.7 510h1.7v1.7h-1.7zM167.4 437.2h1.7v1.7h-1.7zM116.3 487.5h1.7v1.7h-1.7zM141.6 461h1.7v1.7h-1.7zM98.2 506.3h1.7v1.7h-1.7zM102.2 504.3h1.7v1.7h-1.7zM174.2 428.4h1.7v1.7h-1.7zM66.7 535h1.7v1.7h-1.7zM63.9 542.9h1.7v1.7h-1.7zM165.9 439.3h1.7v1.7h-1.7zM153.8 450.4h1.7v1.7h-1.7zM116.1 491.1h1.7v1.7h-1.7zM114.5 488.1h1.7v1.7h-1.7zM71.3 535.1h1.7v1.7h-1.7zM109 497h1.7v1.7h-1.7zM161.8 440.3h1.7v1.7h-1.7zM134.5 468.5h1.7v1.7h-1.7zM120.4 481.8h1.7v1.7h-1.7zM129.6 474h1.7v1.7h-1.7zM101.7 502h1.7v1.7h-1.7zM74.3 530.9h1.7v1.7h-1.7zM135.5 465.9h1.7v1.7h-1.7zM126.2 477h1.7v1.7h-1.7zM82.3 522.2h1.7v1.7h-1.7zM84.7 520.9h1.7v1.7h-1.7zM79.3 526.6h1.7v1.7h-1.7zM81 524.7h1.7v1.7h-1.7zM126.2 477.7h1.7v1.7h-1.7zM157.3 447.2h1.7v1.7h-1.7zM64.7 540.6h1.7v1.7h-1.7zM104.1 500h1.7v1.7h-1.7zM108.8 493.3h1.7v1.7h-1.7zM120 487.1h1.7v1.7h-1.7zM60.5 546.2h1.7v1.7h-1.7zM140 465.5h1.7v1.7h-1.7zM130.6 473h1.7v1.7h-1.7zM180.9 421.6h1.7v1.7h-1.7zM109.4 494.6h1.7v1.7h-1.7zM150.9 451.5h1.7v1.7h-1.7zM58.1 546.3h1.7v1.7h-1.7zM69.3 536.7h1.7v1.7h-1.7zM61.7 544.4h1.7v1.7h-1.7zM157 444.5h1.7v1.7h-1.7zM81.4 522.4h1.7v1.7h-1.7zM70.8 534h1.7v1.7h-1.7zM105.6 499.4h1.7v1.7h-1.7zM182.7 418.9h1.7v1.7h-1.7zM57.7 547h1.7v1.7h-1.7zM64.8 540.5h1.7v1.7h-1.7zM61.5 542h1.7v1.7h-1.7zM74.4 530.2h1.7v1.7h-1.7zM70.2 537.6h1.7v1.7h-1.7zM167.4 439h1.7v1.7h-1.7zM110.5 495.3h1.7v1.7h-1.7zM144.5 460.4h1.7v1.7h-1.7zM132.2 471h1.7v1.7h-1.7zM111.4 494.1h1.7v1.7h-1.7zM100.6 504.4h1.7v1.7h-1.7zM97.5 508h1.7v1.7h-1.7zM88.9 518.4h1.7v1.7h-1.7zM110 491h1.7v1.7h-1.7zM181.6 419.2h1.7v1.7h-1.7zM169 428.9h1.7v1.7h-1.7zM150 452.7h1.7v1.7h-1.7zM106.5 496.9h1.7v1.7h-1.7zM78.4 524.4h1.7v1.7h-1.7zM156.4 449.6h1.7v1.7h-1.7zM79.5 530.2h1.7v1.7h-1.7zM102.9 501.4h1.7v1.7h-1.7zM100.8 504.8h1.7v1.7h-1.7zM101.5 502h1.7v1.7h-1.7zM59.7 543.5h1.7v1.7h-1.7zM181.6 421.8h1.7v1.7h-1.7zM69.4 535.2h1.7v1.7h-1.7zM85.8 519.8h1.7v1.7h-1.7zM97.5 506.1h1.7v1.7h-1.7zM123.8 481.5h1.7v1.7h-1.7zM112.8 490.2h1.7v1.7h-1.7zM185.2 418.8h1.7v1.7h-1.7zM122.7 480.8h1.7v1.7h-1.7zM164.9 438.8h1.7v1.7h-1.7zM97.8 506.9h1.7v1.7h-1.7zM65.9 538.3h1.7v1.7h-1.7zM109.2 495h1.7v1.7h-1.7zM129.5 474.9h1.7v1.7h-1.7zM80.5 527.2h1.7v1.7h-1.7zM66 537.7h1.7v1.7h-1.7zM177.9 424.2h1.7v1.7h-1.7zM143.3 462h1.7v1.7h-1.7zM118.4 487.2h1.7v1.7h-1.7zM134.2 469.4h1.7v1.7h-1.7zM86.4 518.1h1.7v1.7h-1.7zM180.7 423.1h1.7v1.7h-1.7zM178.6 422.8h1.7v1.7h-1.7zM122 480.2h1.7v1.7h-1.7zM125.3 480.2h1.7v1.7h-1.7zM136.1 469.4h1.7v1.7h-1.7zM159.1 445.7h1.7v1.7h-1.7zM107.6 496.8h1.7v1.7h-1.7zM107.4 496.1h1.7v1.7h-1.7zM166.1 435h1.7v1.7h-1.7zM135.1 469.9h1.7v1.7h-1.7zM134.9 468.4h1.7v1.7h-1.7zM123.7 480.2h1.7v1.7h-1.7zM106.9 498.4h1.7v1.7h-1.7zM65.2 542h1.7v1.7h-1.7zM75.1 527.2h1.7v1.7h-1.7zM118.5 486.9h1.7v1.7h-1.7zM150.6 453.3h1.7v1.7h-1.7zM136 467.9h1.7v1.7h-1.7zM59.6 544.6h1.7v1.7h-1.7zM61.7 545.7h1.7v1.7h-1.7zM124.4 476.4h1.7v1.7h-1.7zM149.3 454.2h1.7v1.7h-1.7zM73.3 531.8h1.7v1.7h-1.7zM162.1 442.8h1.7v1.7h-1.7zM89.9 515.6h1.7v1.7h-1.7zM157 448.3h1.7v1.7h-1.7zM160.7 442.5h1.7v1.7h-1.7zM182 422.4h1.7v1.7h-1.7zM182.1 416.7h1.7v1.7h-1.7zM96.5 506.3h1.7v1.7h-1.7zM166.3 436.7h1.7v1.7h-1.7zM145.7 460.6h1.7v1.7h-1.7zM158.3 443.4h1.7v1.7h-1.7zM105.9 499.1h1.7v1.7h-1.7zM88 515.4h1.7v1.7h-1.7zM132.4 472.2h1.7v1.7h-1.7zM145.9 458.1h1.7v1.7h-1.7zM100.1 504.5h1.7v1.7h-1.7zM55.8 551.4h1.7v1.7h-1.7zM176.2 428.2h1.7v1.7h-1.7zM108.4 497.5h1.7v1.7h-1.7zM120.6 483.5h1.7v1.7h-1.7zM108.8 492.9h1.7v1.7h-1.7zM181.2 421.4h1.7v1.7h-1.7zM106.3 499.7h1.7v1.7h-1.7zM67.2 538.9h1.7v1.7h-1.7zM168.6 433.3h1.7v1.7h-1.7zM126 477h1.7v1.7h-1.7zM62.7 541.5h1.7v1.7h-1.7zM143.3 458.1h1.7v1.7h-1.7zM85.5 522.2h1.7v1.7h-1.7zM63.4 543.2h1.7v1.7h-1.7zM56.5 550.6h1.7v1.7h-1.7zM122.8 481.4h1.7v1.7h-1.7zM94.9 508.6h1.7v1.7h-1.7zM107.7 497.6h1.7v1.7h-1.7zM87.5 516.9h1.7v1.7h-1.7zM147.9 456h1.7v1.7h-1.7zM61.2 546.8h1.7v1.7h-1.7zM118.1 485.6h1.7v1.7h-1.7zM169.1 432h1.7v1.7h-1.7zM85.3 521.1h1.7v1.7h-1.7zM185.9 419.7h1.7v1.7h-1.7zM116.8 489.1h1.7v1.7h-1.7zM120.1 484.7h1.7v1.7h-1.7zM166.4 436.9h1.7v1.7h-1.7zM130.7 474.7h1.7v1.7h-1.7zM119.3 485.4h1.7v1.7h-1.7zM148 458.2h1.7v1.7h-1.7zM100.2 504.7h1.7v1.7h-1.7zM140 465.4h1.7v1.7h-1.7zM60.4 545h1.7v1.7h-1.7zM147.2 456.9h1.7v1.7h-1.7zM145.2 457.8h1.7v1.7h-1.7zM182.9 421.9h1.7v1.7h-1.7zM67.6 536.8h1.7v1.7h-1.7zM160.5 442.3h1.7v1.7h-1.7zM59 545.9h1.7v1.7h-1.7zM108 497.7h1.7v1.7h-1.7zM175.9 425h1.7v1.7h-1.7zM138.1 468.6h1.7v1.7h-1.7zM180.6 420.7h1.7v1.7h-1.7zM83.9 522.6h1.7v1.7h-1.7zM138 466h1.7v1.7h-1.7zM183 422.5h1.7v1.7h-1.7zM94.2 510.9h1.7v1.7h-1.7zM104.6 500.5h1.7v1.7h-1.7zM174.8 429.1h1.7v1.7h-1.7zM141.6 460.7h1.7v1.7h-1.7zM178.1 424h1.7v1.7h-1.7zM171.1 428.8h1.7v1.7h-1.7zM186.9 418.9h1.7v1.7h-1.7zM75.6 529.5h1.7v1.7h-1.7zM74.7 530.9h1.7v1.7h-1.7zM73.3 531.6h1.7v1.7h-1.7zM103 500.6h1.7v1.7h-1.7zM97.2 507.7h1.7v1.7h-1.7zM105.7 497.6h1.7v1.7h-1.7zM164.1 440h1.7v1.7h-1.7zM64.3 541h1.7v1.7h-1.7zM62.3 543.6h1.7v1.7h-1.7zM162.2 441.7h1.7v1.7h-1.7zM57.6 550.2h1.7v1.7h-1.7zM130.2 473.7h1.7v1.7h-1.7zM94 512.3h1.7v1.7h-1.7zM143.6 460.4h1.7v1.7h-1.7zM170.3 434.3h1.7v1.7h-1.7zM77.7 530.6h1.7v1.7h-1.7zM63.6 541.8h1.7v1.7h-1.7zM155.8 446.4h1.7v1.7h-1.7zM161.2 440.3h1.7v1.7h-1.7zM64.4 540.1h1.7v1.7h-1.7zM185.3 417.4h1.7v1.7h-1.7zM130.5 472.9h1.7v1.7h-1.7zM150.4 455.8h1.7v1.7h-1.7zM127.8 477.2h1.7v1.7h-1.7zM143.7 462.3h1.7v1.7h-1.7zM144.5 457.7h1.7v1.7h-1.7zM90.5 512.3h1.7v1.7h-1.7zM113.8 490.9h1.7v1.7h-1.7zM82.5 521.1h1.7v1.7h-1.7zM142.9 463.2h1.7v1.7h-1.7zM71.9 533.4h1.7v1.7h-1.7zM57.4 547.2h1.7v1.7h-1.7zM109.5 495.1h1.7v1.7h-1.7zM180 422.8h1.7v1.7h-1.7zM108.4 494.5h1.7v1.7h-1.7zM90 513.7h1.7v1.7h-1.7zM119.7 483.9h1.7v1.7h-1.7zM116.7 488.6h1.7v1.7h-1.7zM89.2 511.7h1.7v1.7h-1.7zM85.7 521.1h1.7v1.7h-1.7zM64.7 541.8h1.7v1.7h-1.7zM104.2 499.2h1.7v1.7h-1.7zM157.1 446.1h1.7v1.7h-1.7zM117.4 488.7h1.7v1.7h-1.7zM65.5 542.4h1.7v1.7h-1.7zM149.2 456h1.7v1.7h-1.7zM68.4 535.4h1.7v1.7h-1.7zM79.2 527.7h1.7v1.7h-1.7zM134.6 471.2h1.7v1.7h-1.7zM137.1 466.9h1.7v1.7h-1.7zM182 420.7h1.7v1.7h-1.7zM172.5 433.3h1.7v1.7h-1.7zM120.6 482.8h1.7v1.7h-1.7zM91.2 513.2h1.7v1.7h-1.7zM170.1 434.4h1.7v1.7h-1.7zM153.1 450.2h1.7v1.7h-1.7zM59.5 546.2h1.7v1.7h-1.7zM119.3 482.9h1.7v1.7h-1.7zM160.6 441.4h1.7v1.7h-1.7zM63.4 544.3h1.7v1.7h-1.7zM97.6 505.5h1.7v1.7h-1.7zM142.9 462.3h1.7v1.7h-1.7zM62.9 543.9h1.7v1.7h-1.7zM128.2 474.9h1.7v1.7h-1.7zM132.9 474.6h1.7v1.7h-1.7zM68.7 538.1h1.7v1.7h-1.7zM89.9 513.7h1.7v1.7h-1.7zM88.2 515.9h1.7v1.7h-1.7zM142.2 463h1.7v1.7h-1.7zM142.3 463.5h1.7v1.7h-1.7zM65.5 539h1.7v1.7h-1.7zM84.2 521h1.7v1.7h-1.7zM168.1 435.4h1.7v1.7h-1.7zM134 467.1h1.7v1.7h-1.7zM73.6 535.8h1.7v1.7h-1.7zM161 440.8h1.7v1.7h-1.7zM70.3 535h1.7v1.7h-1.7zM129.3 472.2h1.7v1.7h-1.7zM62.5 541.6h1.7v1.7h-1.7zM155.1 450h1.7v1.7h-1.7zM149.3 452.5h1.7v1.7h-1.7zM77.9 528.3h1.7v1.7h-1.7zM81.6 522.7h1.7v1.7h-1.7zM116.6 485.8h1.7v1.7h-1.7zM55.6 549.3h1.7v1.7h-1.7zM129.2 474.2h1.7v1.7h-1.7zM125.5 480.5h1.7v1.7h-1.7zM137.7 469.2h1.7v1.7h-1.7zM168.7 434.5h1.7v1.7h-1.7zM89.9 516.5h1.7v1.7h-1.7zM98.9 506.9h1.7v1.7h-1.7zM122.7 481.7h1.7v1.7h-1.7zM137.3 467.8h1.7v1.7h-1.7zM96.5 508.5h1.7v1.7h-1.7zM172.1 430.5h1.7v1.7h-1.7zM102.8 499.7h1.7v1.7h-1.7zM92.7 510h1.7v1.7h-1.7zM119.4 485h1.7v1.7h-1.7zM85.9 522.8h1.7v1.7h-1.7zM91.8 511.4h1.7v1.7h-1.7zM149.1 455.1h1.7v1.7h-1.7zM129.4 476.7h1.7v1.7h-1.7zM154.2 448.5h1.7v1.7h-1.7zM161.7 443.3h1.7v1.7h-1.7zM60.7 545.4h1.7v1.7h-1.7zM86.3 521.1h1.7v1.7h-1.7zM117.4 486h1.7v1.7h-1.7zM131.1 472.6h1.7v1.7h-1.7zM148.8 453.7h1.7v1.7h-1.7zM104.5 501h1.7v1.7h-1.7zM145.9 457.4h1.7v1.7h-1.7zM152.7 449.4h1.7v1.7h-1.7zM115.1 488.2h1.7v1.7h-1.7zM76.8 528.5h1.7v1.7h-1.7zM153.3 452.9h1.7v1.7h-1.7zM130.3 473.9h1.7v1.7h-1.7zM58 547h1.7v1.7h-1.7zM88.4 516.4h1.7v1.7h-1.7zM87.2 519.4h1.7v1.7h-1.7zM101.8 505.4h1.7v1.7h-1.7zM60 544.2h1.7v1.7h-1.7zM152.1 452.9h1.7v1.7h-1.7zM142.2 462.8h1.7v1.7h-1.7zM60 545.5h1.7v1.7h-1.7zM84.9 521h1.7v1.7h-1.7zM183.6 417.7h1.7v1.7h-1.7zM141.7 466.5h1.7v1.7h-1.7zM61.4 541.9h1.7v1.7h-1.7zM115.5 488h1.7v1.7h-1.7zM160.2 446.4h1.7v1.7h-1.7zM142.4 460.8h1.7v1.7h-1.7zM108.4 495.4h1.7v1.7h-1.7zM106.7 498.3h1.7v1.7h-1.7zM122.7 479.4h1.7v1.7h-1.7zM113 492h1.7v1.7h-1.7zM167.8 435.8h1.7v1.7h-1.7zM58.7 547.9h1.7v1.7h-1.7zM130.3 475.4h1.7v1.7h-1.7zM102.8 502.8h1.7v1.7h-1.7zM57.5 547.8h1.7v1.7h-1.7zM67.9 536.9h1.7v1.7h-1.7zM70.6 536.8h1.7v1.7h-1.7zM182.2 424.5h1.7v1.7h-1.7zM60.8 542.9h1.7v1.7h-1.7zM172.8 429.6h1.7v1.7h-1.7zM174.6 426.1h1.7v1.7h-1.7zM96.3 507.1h1.7v1.7h-1.7zM172 429.6h1.7v1.7h-1.7zM133.3 469.9h1.7v1.7h-1.7zM138.1 465.9h1.7v1.7h-1.7zM177.4 422.9h1.7v1.7h-1.7zM116.4 488h1.7v1.7h-1.7zM104.5 498.4h1.7v1.7h-1.7zM102.2 502.1h1.7v1.7h-1.7zM152.3 449h1.7v1.7h-1.7zM151.3 449.3h1.7v1.7h-1.7zM138.5 465.4h1.7v1.7h-1.7zM161.3 441.1h1.7v1.7h-1.7zM142.2 464.6h1.7v1.7h-1.7zM93.5 509.5h1.7v1.7h-1.7zM96.7 506.2h1.7v1.7h-1.7zM74.4 528.9h1.7v1.7h-1.7zM87 516.3h1.7v1.7h-1.7zM117.9 487.6h1.7v1.7h-1.7zM62.9 541.3h1.7v1.7h-1.7zM195.6 406.5h1.7v1.7h-1.7zM225.1 377.8h1.7v1.7h-1.7zM268.2 331.4h1.7v1.7h-1.7zM253.6 348.7h1.7v1.7h-1.7zM290.8 310.2h1.7v1.7h-1.7zM207.2 396h1.7v1.7h-1.7zM234.5 366.1h1.7v1.7h-1.7zM277.5 323.4h1.7v1.7h-1.7zM188.1 413.3h1.7v1.7h-1.7zM290 315.8h1.7v1.7h-1.7zM183.8 416.7h1.7v1.7h-1.7zM231.7 370.9h1.7v1.7h-1.7zM201.4 400.3h1.7v1.7h-1.7zM263.6 340.2h1.7v1.7h-1.7zM217.8 384.8h1.7v1.7h-1.7zM293.7 306.8h1.7v1.7h-1.7zM217.5 389.7h1.7v1.7h-1.7zM183.8 418.3h1.7v1.7h-1.7zM233.8 363.6h1.7v1.7h-1.7zM226.1 373.1h1.7v1.7h-1.7zM259.7 340.2h1.7v1.7h-1.7zM229.6 374.6h1.7v1.7h-1.7zM228.5 370h1.7v1.7h-1.7zM226.1 371.7h1.7v1.7h-1.7zM214.9 385.5h1.7v1.7h-1.7zM175.1 424.9h1.7v1.7h-1.7zM248.7 349.6h1.7v1.7h-1.7zM183.9 421.2h1.7v1.7h-1.7zM246.8 354.3h1.7v1.7h-1.7zM217.3 385.6h1.7v1.7h-1.7zM182.4 419.1h1.7v1.7h-1.7zM191.9 409.5h1.7v1.7h-1.7zM261.3 338h1.7v1.7h-1.7zM219.9 384h1.7v1.7h-1.7zM275.4 325.3h1.7v1.7h-1.7zM241.5 357.9h1.7v1.7h-1.7zM243.3 354.3h1.7v1.7h-1.7zM268.5 330.8h1.7v1.7h-1.7zM184.9 419.8h1.7v1.7h-1.7zM215.1 389.5h1.7v1.7h-1.7zM259.7 341.1h1.7v1.7h-1.7zM234 368.4h1.7v1.7h-1.7zM282 320.7h1.7v1.7h-1.7zM275.9 323.5h1.7v1.7h-1.7zM246.4 351.8h1.7v1.7h-1.7zM213.6 385.8h1.7v1.7h-1.7zM277.3 326.9h1.7v1.7h-1.7zM185 417.3h1.7v1.7h-1.7zM214.5 383.2h1.7v1.7h-1.7zM283.9 317.4h1.7v1.7h-1.7zM283.7 321h1.7v1.7h-1.7zM220 383.3h1.7v1.7h-1.7zM239.4 362.2h1.7v1.7h-1.7zM182.6 417.8h1.7v1.7h-1.7zM195.2 404h1.7v1.7h-1.7zM219.1 381.6h1.7v1.7h-1.7zM276.9 322.8h1.7v1.7h-1.7zM189.7 411h1.7v1.7h-1.7zM279.8 321.8h1.7v1.7h-1.7zM214.7 390.9h1.7v1.7h-1.7zM295.4 305h1.7v1.7h-1.7zM185.9 414.8h1.7v1.7h-1.7zM260.7 337.7h1.7v1.7h-1.7zM274.6 327.3h1.7v1.7h-1.7zM240.5 356.3h1.7v1.7h-1.7zM283.8 318.3h1.7v1.7h-1.7zM187.1 412.1h1.7v1.7h-1.7zM218.9 382.8h1.7v1.7h-1.7zM258 344.8h1.7v1.7h-1.7zM216.3 387.3h1.7v1.7h-1.7zM237.4 363.2h1.7v1.7h-1.7zM195.6 402.2h1.7v1.7h-1.7zM280.3 320.2h1.7v1.7h-1.7zM262 337.2h1.7v1.7h-1.7zM176.8 424.7h1.7v1.7h-1.7zM262 335.4h1.7v1.7h-1.7zM240.7 360.6h1.7v1.7h-1.7zM192.6 409.2h1.7v1.7h-1.7zM176.3 424.5h1.7v1.7h-1.7zM201.1 398.1h1.7v1.7h-1.7zM188.8 415.3h1.7v1.7h-1.7zM179.5 419.8h1.7v1.7h-1.7zM200.2 404h1.7v1.7h-1.7zM281.8 319.1h1.7v1.7h-1.7zM244.5 355.4h1.7v1.7h-1.7zM250.3 352.3h1.7v1.7h-1.7zM201.4 398.9h1.7v1.7h-1.7zM286.6 313.6h1.7v1.7h-1.7zM237.5 358.8h1.7v1.7h-1.7zM253 347h1.7v1.7h-1.7zM278 321h1.7v1.7h-1.7zM277.9 321.1h1.7v1.7h-1.7zM177.2 427.4h1.7v1.7h-1.7zM217.8 384.3h1.7v1.7h-1.7zM235.8 364.7h1.7v1.7h-1.7zM191.4 411.6h1.7v1.7h-1.7zM210.8 391.8h1.7v1.7h-1.7zM261.7 340.9h1.7v1.7h-1.7zM284.7 317.5h1.7v1.7h-1.7zM280.1 320.6h1.7v1.7h-1.7zM275.5 324.3h1.7v1.7h-1.7zM268.8 330.7h1.7v1.7h-1.7zM288.9 310.7h1.7v1.7h-1.7zM290.7 307.5h1.7v1.7h-1.7zM219.7 383.8h1.7v1.7h-1.7zM194.2 409.8h1.7v1.7h-1.7zM288.3 315.8h1.7v1.7h-1.7zM176.2 425.6h1.7v1.7h-1.7zM289.7 308.7h1.7v1.7h-1.7zM244.8 357.8h1.7v1.7h-1.7zM280.6 322.4h1.7v1.7h-1.7zM220.3 381.2h1.7v1.7h-1.7zM228.3 370.1h1.7v1.7h-1.7zM259.2 337.4h1.7v1.7h-1.7zM295.5 305.2h1.7v1.7h-1.7zM226.9 371.6h1.7v1.7h-1.7zM266.2 334h1.7v1.7h-1.7zM287.5 315.1h1.7v1.7h-1.7zM218 381.6h1.7v1.7h-1.7zM242.8 358.1h1.7v1.7h-1.7zM292.6 306.1h1.7v1.7h-1.7zM281.8 317.3h1.7v1.7h-1.7zM209.5 394.2h1.7v1.7h-1.7zM248.5 350.1h1.7v1.7h-1.7zM265.2 334.5h1.7v1.7h-1.7zM241.1 362h1.7v1.7h-1.7zM195.5 407.7h1.7v1.7h-1.7zM224.7 373.9h1.7v1.7h-1.7zM193.2 405.4h1.7v1.7h-1.7zM289.1 307.4h1.7v1.7h-1.7zM227.9 377.6h1.7v1.7h-1.7zM222.3 379.7h1.7v1.7h-1.7zM269.9 334.8h1.7v1.7h-1.7zM192.6 406.8h1.7v1.7h-1.7zM219.2 382.3h1.7v1.7h-1.7zM260.1 340.1h1.7v1.7h-1.7zM189.8 413.4h1.7v1.7h-1.7zM278.6 324h1.7v1.7h-1.7zM243.1 359.8h1.7v1.7h-1.7zM273.2 331.9h1.7v1.7h-1.7zM260.5 337.6h1.7v1.7h-1.7zM232.6 368.2h1.7v1.7h-1.7zM220.7 379.7h1.7v1.7h-1.7zM224.8 373.4h1.7v1.7h-1.7zM222.4 378.9h1.7v1.7h-1.7zM212.5 390.1h1.7v1.7h-1.7zM182.6 417.2h1.7v1.7h-1.7zM225.8 371.1h1.7v1.7h-1.7zM217.7 385.6h1.7v1.7h-1.7zM247.5 353.8h1.7v1.7h-1.7zM271.3 331.4h1.7v1.7h-1.7zM268.7 330.9h1.7v1.7h-1.7zM197.1 407.2h1.7v1.7h-1.7zM276.5 326.1h1.7v1.7h-1.7zM200.4 400.6h1.7v1.7h-1.7zM230.2 371.3h1.7v1.7h-1.7zM276.4 323.2h1.7v1.7h-1.7zM251.2 350.5h1.7v1.7h-1.7zM267.5 334.4h1.7v1.7h-1.7zM237.6 364.8h1.7v1.7h-1.7zM287.5 311.1h1.7v1.7h-1.7zM179.8 423.4h1.7v1.7h-1.7zM225.1 377.8h1.7v1.7h-1.7zM181.8 418.3h1.7v1.7h-1.7zM193.8 406.8h1.7v1.7h-1.7zM285.5 317.9h1.7v1.7h-1.7zM184.2 414.8h1.7v1.7h-1.7zM253.4 346.9h1.7v1.7h-1.7zM277.4 322.9h1.7v1.7h-1.7zM282.9 317.3h1.7v1.7h-1.7zM198.2 401.7h1.7v1.7h-1.7zM265.7 335.7h1.7v1.7h-1.7zM195.8 405.8h1.7v1.7h-1.7zM276 324.1h1.7v1.7h-1.7zM264 332h1.7v1.7h-1.7zM242.1 359.9h1.7v1.7h-1.7zM237.5 364.6h1.7v1.7h-1.7zM215.1 390.5h1.7v1.7h-1.7zM205.5 397.8h1.7v1.7h-1.7zM293.6 308.4h1.7v1.7h-1.7zM284 315.4h1.7v1.7h-1.7zM218.9 383.7h1.7v1.7h-1.7zM234.6 365.4h1.7v1.7h-1.7zM246.1 355.4h1.7v1.7h-1.7zM250.3 350.9h1.7v1.7h-1.7zM246 357.1h1.7v1.7h-1.7zM277.7 325.4h1.7v1.7h-1.7zM192.7 406h1.7v1.7h-1.7zM201 400.9h1.7v1.7h-1.7zM241.5 356.6h1.7v1.7h-1.7zM189.7 410.2h1.7v1.7h-1.7zM186.6 416h1.7v1.7h-1.7zM282.2 317h1.7v1.7h-1.7zM280.4 320.4h1.7v1.7h-1.7zM295.1 306.8h1.7v1.7h-1.7zM274.8 325.2h1.7v1.7h-1.7zM281 319.3h1.7v1.7h-1.7zM199.7 402.1h1.7v1.7h-1.7zM273.8 329.7h1.7v1.7h-1.7zM230.4 370.6h1.7v1.7h-1.7zM263.8 337.2h1.7v1.7h-1.7zM203.5 399.1h1.7v1.7h-1.7zM220.5 383.7h1.7v1.7h-1.7zM222 381.3h1.7v1.7h-1.7zM217.8 386.1h1.7v1.7h-1.7zM249.8 352.3h1.7v1.7h-1.7zM267.7 329.9h1.7v1.7h-1.7zM192.4 409.8h1.7v1.7h-1.7zM260.4 339.6h1.7v1.7h-1.7zM256.9 346.1h1.7v1.7h-1.7zM295.3 306.8h1.7v1.7h-1.7zM203.3 398.7h1.7v1.7h-1.7zM246.8 357.3h1.7v1.7h-1.7zM244.4 353h1.7v1.7h-1.7zM220.4 382.6h1.7v1.7h-1.7zM257.6 343.5h1.7v1.7h-1.7zM274 328.3h1.7v1.7h-1.7zM180.2 421.1h1.7v1.7h-1.7zM231.4 369.5h1.7v1.7h-1.7zM239.9 365.2h1.7v1.7h-1.7zM265.8 333.9h1.7v1.7h-1.7zM224.5 378h1.7v1.7h-1.7zM212.5 387.6h1.7v1.7h-1.7zM290.5 311.9h1.7v1.7h-1.7zM288.4 310.4h1.7v1.7h-1.7zM294.5 307h1.7v1.7h-1.7zM212.1 387.3h1.7v1.7h-1.7zM272.1 329.7h1.7v1.7h-1.7zM254.2 347.3h1.7v1.7h-1.7zM176 426.2h1.7v1.7h-1.7zM211.3 392.2h1.7v1.7h-1.7zM246.2 354h1.7v1.7h-1.7zM236 362.8h1.7v1.7h-1.7zM234.7 366h1.7v1.7h-1.7zM233.5 366.2h1.7v1.7h-1.7zM186.6 415.2h1.7v1.7h-1.7zM199.7 401.6h1.7v1.7h-1.7zM190.8 411.9h1.7v1.7h-1.7zM188 413h1.7v1.7h-1.7zM218.2 378.6h1.7v1.7h-1.7zM297.1 307.8h1.7v1.7h-1.7zM295 306.7h1.7v1.7h-1.7zM210.5 391.1h1.7v1.7h-1.7zM250.6 348.9h1.7v1.7h-1.7zM268.3 331.1h1.7v1.7h-1.7zM265.5 338.2h1.7v1.7h-1.7zM293.5 308.7h1.7v1.7h-1.7zM209.5 391.3h1.7v1.7h-1.7zM222.9 381.7h1.7v1.7h-1.7zM260 341h1.7v1.7h-1.7zM238.5 359.7h1.7v1.7h-1.7zM178.8 423.3h1.7v1.7h-1.7zM241.5 359.9h1.7v1.7h-1.7zM193.6 409.3h1.7v1.7h-1.7zM211.9 392.1h1.7v1.7h-1.7zM222.3 380.2h1.7v1.7h-1.7zM218.8 385.8h1.7v1.7h-1.7zM273.6 330h1.7v1.7h-1.7zM229.8 376.9h1.7v1.7h-1.7zM210.7 392.8h1.7v1.7h-1.7zM282 320.4h1.7v1.7h-1.7zM192.2 408.8h1.7v1.7h-1.7zM187.3 415h1.7v1.7h-1.7zM290.9 310.3h1.7v1.7h-1.7zM200.6 401.5h1.7v1.7h-1.7zM242.8 358.8h1.7v1.7h-1.7zM293.9 308.7h1.7v1.7h-1.7zM215.7 384.7h1.7v1.7h-1.7zM281.5 318.1h1.7v1.7h-1.7zM281.5 319.4h1.7v1.7h-1.7zM238.8 363.2h1.7v1.7h-1.7zM252.3 351.1h1.7v1.7h-1.7zM177.6 421.8h1.7v1.7h-1.7zM193.5 406.5h1.7v1.7h-1.7zM252.6 346.3h1.7v1.7h-1.7zM264.3 338.3h1.7v1.7h-1.7zM198.4 403.6h1.7v1.7h-1.7zM296.8 306.6h1.7v1.7h-1.7zM266 337.3h1.7v1.7h-1.7zM225 372.3h1.7v1.7h-1.7zM209.9 391h1.7v1.7h-1.7zM234.1 367.7h1.7v1.7h-1.7zM248.6 354h1.7v1.7h-1.7zM268.4 329.8h1.7v1.7h-1.7zM178.1 421.9h1.7v1.7h-1.7zM207.3 390.2h1.7v1.7h-1.7zM234.1 366.4h1.7v1.7h-1.7zM183 419.2h1.7v1.7h-1.7zM207.4 392.8h1.7v1.7h-1.7zM241 358h1.7v1.7h-1.7zM253.3 342.9h1.7v1.7h-1.7zM251.6 347.7h1.7v1.7h-1.7zM202.9 397.5h1.7v1.7h-1.7zM288.6 310.8h1.7v1.7h-1.7zM226.4 373.2h1.7v1.7h-1.7zM188.6 414.1h1.7v1.7h-1.7zM177.9 425.9h1.7v1.7h-1.7zM252.4 349.8h1.7v1.7h-1.7zM287 315.9h1.7v1.7h-1.7zM224 375.7h1.7v1.7h-1.7zM245.9 355.1h1.7v1.7h-1.7zM283.7 317.8h1.7v1.7h-1.7zM176.9 425.7h1.7v1.7h-1.7zM238.7 363.7h1.7v1.7h-1.7zM212 390.4h1.7v1.7h-1.7zM295.8 310.1h1.7v1.7h-1.7zM250.6 350.7h1.7v1.7h-1.7zM291.1 309.1h1.7v1.7h-1.7zM262 337.1h1.7v1.7h-1.7zM236.1 367.3h1.7v1.7h-1.7zM294.6 305.4h1.7v1.7h-1.7zM270.4 330.4h1.7v1.7h-1.7zM230.3 372.6h1.7v1.7h-1.7zM271 334h1.7v1.7h-1.7zM241.8 357.2h1.7v1.7h-1.7zM277.3 319.6h1.7v1.7h-1.7zM238.8 360h1.7v1.7h-1.7zM240.4 356.8h1.7v1.7h-1.7zM229.8 373.1h1.7v1.7h-1.7zM189.4 411.1h1.7v1.7h-1.7zM230.4 373.1h1.7v1.7h-1.7zM233.1 367.4h1.7v1.7h-1.7zM249.5 351.7h1.7v1.7h-1.7zM211.9 387.9h1.7v1.7h-1.7zM180.7 418h1.7v1.7h-1.7zM223.9 378.1h1.7v1.7h-1.7zM268.5 332.3h1.7v1.7h-1.7zM259.1 344.1h1.7v1.7h-1.7zM253.8 343h1.7v1.7h-1.7zM230.2 373.3h1.7v1.7h-1.7zM246.2 355.2h1.7v1.7h-1.7zM210.3 392.4h1.7v1.7h-1.7zM219.7 377.7h1.7v1.7h-1.7zM248.4 351.4h1.7v1.7h-1.7zM257.5 345h1.7v1.7h-1.7zM227.3 374.3h1.7v1.7h-1.7zM219.9 382.2h1.7v1.7h-1.7zM176.8 424.9h1.7v1.7h-1.7zM198.8 407.9h1.7v1.7h-1.7zM265.2 335.9h1.7v1.7h-1.7zM220.9 378.5h1.7v1.7h-1.7zM216.8 386.3h1.7v1.7h-1.7zM246.4 354.3h1.7v1.7h-1.7zM248.3 352.3h1.7v1.7h-1.7zM204.3 395.3h1.7v1.7h-1.7zM276.3 324.4h1.7v1.7h-1.7zM186.3 412.7h1.7v1.7h-1.7zM277.7 324h1.7v1.7h-1.7zM286.2 313.5h1.7v1.7h-1.7zM267.9 331.4h1.7v1.7h-1.7zM215.4 384.6h1.7v1.7h-1.7zM260.4 337.6h1.7v1.7h-1.7zM288.8 309.7h1.7v1.7h-1.7zM224.6 377.7h1.7v1.7h-1.7zM293.3 305.1h1.7v1.7h-1.7zM237.4 363.2h1.7v1.7h-1.7zM255.2 343.7h1.7v1.7h-1.7zM281.2 323.3h1.7v1.7h-1.7zM293.1 305.6h1.7v1.7h-1.7zM269.5 330.6h1.7v1.7h-1.7zM243.2 360.3h1.7v1.7h-1.7zM184.5 418.5h1.7v1.7h-1.7zM173.7 425.2h1.7v1.7h-1.7zM226.2 375.1h1.7v1.7h-1.7zM264 337.6h1.7v1.7h-1.7zM192.7 407.9h1.7v1.7h-1.7zM251.8 350.3h1.7v1.7h-1.7zM237.5 363h1.7v1.7h-1.7zM221.3 380.8h1.7v1.7h-1.7zM233.9 367.8h1.7v1.7h-1.7zM281.7 318.7h1.7v1.7h-1.7zM211.6 387.6h1.7v1.7h-1.7zM198.4 405.1h1.7v1.7h-1.7zM230 371.2h1.7v1.7h-1.7zM237.3 364.8h1.7v1.7h-1.7zM256.2 343.2h1.7v1.7h-1.7zM263.4 336.7h1.7v1.7h-1.7zM222.8 380.2h1.7v1.7h-1.7zM192.4 408.2h1.7v1.7h-1.7zM216.4 388.9h1.7v1.7h-1.7zM203.1 399.5h1.7v1.7h-1.7zM181.8 425.2h1.7v1.7h-1.7zM293.2 306.4h1.7v1.7h-1.7zM260.1 341.4h1.7v1.7h-1.7zM179.2 420.6h1.7v1.7h-1.7zM208.7 392.3h1.7v1.7h-1.7zM213.3 391.9h1.7v1.7h-1.7zM232.6 371.8h1.7v1.7h-1.7zM267.9 333.1h1.7v1.7h-1.7zM182 418.8h1.7v1.7h-1.7zM252.5 351.8h1.7v1.7h-1.7zM251.6 351.9h1.7v1.7h-1.7zM279.1 322h1.7v1.7h-1.7zM179.7 422.9h1.7v1.7h-1.7zM288.9 314.5h1.7v1.7h-1.7zM222.1 380.3h1.7v1.7h-1.7zM223.1 379.7h1.7v1.7h-1.7zM290.7 309.3h1.7v1.7h-1.7zM259.5 341.4h1.7v1.7h-1.7zM193 410.2h1.7v1.7h-1.7zM232.5 369.1h1.7v1.7h-1.7zM192.1 410.3h1.7v1.7h-1.7zM279.3 325.7h1.7v1.7h-1.7zM242.1 358.9h1.7v1.7h-1.7zM212.6 390.5h1.7v1.7h-1.7zM285 314.2h1.7v1.7h-1.7zM232.4 369.1h1.7v1.7h-1.7zM293.2 307h1.7v1.7h-1.7zM225.1 377.2h1.7v1.7h-1.7zM237.1 368h1.7v1.7h-1.7zM180.8 422.3h1.7v1.7h-1.7zM274.6 325.9h1.7v1.7h-1.7zM239.9 364.3h1.7v1.7h-1.7zM232 366.9h1.7v1.7h-1.7zM177.9 423h1.7v1.7h-1.7zM291.8 312.5h1.7v1.7h-1.7zM268.9 334.5h1.7v1.7h-1.7zM242.2 357.4h1.7v1.7h-1.7zM288.3 310h1.7v1.7h-1.7zM190.6 414.3h1.7v1.7h-1.7zM296.4 310h1.7v1.7h-1.7zM143.3 459.1h1.7v1.7h-1.7zM242.1 353.8h1.7v1.7h-1.7zM143.7 458h1.7v1.7h-1.7zM255.2 352.1h1.7v1.7h-1.7zM275.1 335.5h1.7v1.7h-1.7zM180 408.6h1.7v1.7h-1.7zM252.5 352.3h1.7v1.7h-1.7zM146.6 455.3h1.7v1.7h-1.7zM227.6 373h1.7v1.7h-1.7zM252 350.4h1.7v1.7h-1.7zM226.8 373.4h1.7v1.7h-1.7zM291.9 318h1.7v1.7h-1.7zM214.7 382.7h1.7v1.7h-1.7zM224.6 380.8h1.7v1.7h-1.7zM206.3 394.5h1.7v1.7h-1.7zM280.5 320.4h1.7v1.7h-1.7zM223.1 380.2h1.7v1.7h-1.7zM215.8 386.3h1.7v1.7h-1.7zM163.4 441.6h1.7v1.7h-1.7zM159.7 446.7h1.7v1.7h-1.7zM217.9 380.3h1.7v1.7h-1.7zM278.6 326h1.7v1.7h-1.7zM184.4 414.1h1.7v1.7h-1.7zM163 433.3h1.7v1.7h-1.7zM212.3 390.3h1.7v1.7h-1.7zM293.8 306.9h1.7v1.7h-1.7zM215.4 386.1h1.7v1.7h-1.7zM145.5 463.1h1.7v1.7h-1.7zM143.7 453.2h1.7v1.7h-1.7zM162.7 439h1.7v1.7h-1.7zM221.3 380.7h1.7v1.7h-1.7zM185.2 428.6h1.7v1.7h-1.7zM227.6 368.1h1.7v1.7h-1.7zM197.1 399.3h1.7v1.7h-1.7zM141 460.4h1.7v1.7h-1.7zM276.9 325.5h1.7v1.7h-1.7zM165.8 433.2h1.7v1.7h-1.7zM267.6 337.5h1.7v1.7h-1.7zM257.7 346.3h1.7v1.7h-1.7zM146.4 457.2h1.7v1.7h-1.7zM272.4 330.1h1.7v1.7h-1.7zM153.9 446.7h1.7v1.7h-1.7zM231.7 369.5h1.7v1.7h-1.7zM256.2 353.6h1.7v1.7h-1.7zM173.4 427.5h1.7v1.7h-1.7zM263.5 344.5h1.7v1.7h-1.7zM174.9 428.1h1.7v1.7h-1.7zM187.5 418.9h1.7v1.7h-1.7zM248.1 349.8h1.7v1.7h-1.7zM213.8 384.1h1.7v1.7h-1.7zM198.3 401.8h1.7v1.7h-1.7zM256.7 336.8h1.7v1.7h-1.7zM270.3 328.9h1.7v1.7h-1.7zM196.8 403.2h1.7v1.7h-1.7zM199.9 399.1h1.7v1.7h-1.7zM239.5 359.1h1.7v1.7h-1.7zM288.6 312.8h1.7v1.7h-1.7zM211.1 389.9h1.7v1.7h-1.7zM181.2 424.5h1.7v1.7h-1.7zM188.4 414.8h1.7v1.7h-1.7zM249.6 356.5h1.7v1.7h-1.7zM282.1 318.4h1.7v1.7h-1.7zM280.9 319.4h1.7v1.7h-1.7zM264.1 338.2h1.7v1.7h-1.7zM280 321.3h1.7v1.7h-1.7zM241.5 358.4h1.7v1.7h-1.7zM228 382.3h1.7v1.7h-1.7zM180.1 427.2h1.7v1.7h-1.7zM287.4 313.8h1.7v1.7h-1.7zM265.9 334.9h1.7v1.7h-1.7zM269.5 334.7h1.7v1.7h-1.7zM157.2 451.3h1.7v1.7h-1.7zM215.8 382.9h1.7v1.7h-1.7zM246.6 353h1.7v1.7h-1.7zM192.1 413.8h1.7v1.7h-1.7zM194 406.8h1.7v1.7h-1.7zM176.9 422.2h1.7v1.7h-1.7zM273.8 327.6h1.7v1.7h-1.7zM271 325.1h1.7v1.7h-1.7zM201 402.8h1.7v1.7h-1.7zM217.3 384.4h1.7v1.7h-1.7zM256 348.8h1.7v1.7h-1.7zM291.4 311.2h1.7v1.7h-1.7zM229.2 368h1.7v1.7h-1.7zM145.7 456h1.7v1.7h-1.7zM176.6 425h1.7v1.7h-1.7zM182.1 427.5h1.7v1.7h-1.7zM166 434.7h1.7v1.7h-1.7zM246.5 354.1h1.7v1.7h-1.7z" fill="#008000"/>
<line x1="56.1" y1="552" x2="299.75" y2="308.75" stroke="#ff1a10" stroke-width="1"/>
</g>
<rect x="49.5" y="7.5" width="257" height="250" fill="none" stroke="#2a2a2a" stroke-width="1"/>
<path d="M59.80 257v-5M59.80 8v5M50 246.93h5M306 246.93h-5M70.51 257v-5M70.51 8v5M50 236.52h5M306 236.52h-5M81.21 257v-5M81.21 8v5M50 226.10h5M306 226.10h-5M91.92 257v-10M91.92 8v10M50 215.68h10M306 215.68h-10M102.62 257v-5M102.62 8v5M50 205.27h5M306 205.27h-5M113.32 257v-5M113.32 8v5M50 194.85h5M306 194.85h-5M124.03 257v-5M124.03 8v5M50 184.43h5M306 184.43h-5M134.73 257v-10M134.73 8v10M50 174.02h10M306 174.02h-10M145.44 257v-5M145.44 8v5M50 163.60h5M306 163.60h-5M156.14 257v-5M156.14 8v5M50 153.18h5M306 153.18h-5M166.85 257v-5M166.85 8v5M50 142.77h5M306 142.77h-5M177.55 257v-10M177.55 8v10M50 132.35h10M306 132.35h-10M188.25 257v-5M188.25 8v5M50 121.93h5M306 121.93h-5M198.96 257v-5M198.96 8v5M50 111.52h5M306 111.52h-5M209.66 257v-5M209.66 8v5M50 101.10h5M306 101.10h-5M220.37 257v-10M220.37 8v10M50 90.68h10M306 90.68h-10M231.07 257v-5M231.07 8v5M50 80.27h5M306 80.27h-5M241.77 257v-5M241.77 8v5M50 69.85h5M306 69.85h-5M252.48 257v-5M252.48 8v5M50 59.43h5M306 59.43h-5M263.18 257v-10M263.18 8v10M50 49.02h10M306 49.02h-10M273.89 257v-5M273.89 8v5M50 38.60h5M306 38.60h-5M284.59 257v-5M284.59 8v5M50 28.18h5M306 28.18h-5M295.30 257v-5M295.30 8v5M50 17.77h5M306 17.77h-5" stroke="#444" stroke-width="1" fill="none"/>
<rect x="49.5" y="308.5" width="257" height="250" fill="none" stroke="#2a2a2a" stroke-width="1"/>
<path d="M59.80 558.0v-5M59.80 309.0v5M50 547.93h5M306 547.93h-5M70.51 558.0v-5M70.51 309.0v5M50 537.52h5M306 537.52h-5M81.21 558.0v-5M81.21 309.0v5M50 527.10h5M306 527.10h-5M91.92 558.0v-10M91.92 309.0v10M50 516.68h10M306 516.68h-10M102.62 558.0v-5M102.62 309.0v5M50 506.27h5M306 506.27h-5M113.32 558.0v-5M113.32 309.0v5M50 495.85h5M306 495.85h-5M124.03 558.0v-5M124.03 309.0v5M50 485.43h5M306 485.43h-5M134.73 558.0v-10M134.73 309.0v10M50 475.02h10M306 475.02h-10M145.44 558.0v-5M145.44 309.0v5M50 464.60h5M306 464.60h-5M156.14 558.0v-5M156.14 309.0v5M50 454.18h5M306 454.18h-5M166.85 558.0v-5M166.85 309.0v5M50 443.77h5M306 443.77h-5M177.55 558.0v-10M177.55 309.0v10M50 433.35h10M306 433.35h-10M188.25 558.0v-5M188.25 309.0v5M50 422.93h5M306 422.93h-5M198.96 558.0v-5M198.96 309.0v5M50 412.52h5M306 412.52h-5M209.66 558.0v-5M209.66 309.0v5M50 402.10h5M306 402.10h-5M220.37 558.0v-10M220.37 309.0v10M50 391.68h10M306 391.68h-10M231.07 558.0v-5M231.07 309.0v5M50 381.27h5M306 381.27h-5M241.77 558.0v-5M241.77 309.0v5M50 370.85h5M306 370.85h-5M252.48 558.0v-5M252.48 309.0v5M50 360.43h5M306 360.43h-5M263.18 558.0v-10M263.18 309.0v10M50 350.02h10M306 350.02h-10M273.89 558.0v-5M273.89 309.0v5M50 339.60h5M306 339.60h-5M284.59 558.0v-5M284.59 309.0v5M50 329.18h5M306 329.18h-5M295.30 558.0v-5M295.30 309.0v5M50 318.77h5M306 318.77h-5" stroke="#444" stroke-width="1" fill="none"/>
<text x="49.1" y="269.5" text-anchor="middle" class="tk">0</text>
<text x="44" y="261.6" text-anchor="end" class="tk">0</text>
<text x="91.9" y="269.5" text-anchor="middle" class="tk">20</text>
<text x="44" y="219.9" text-anchor="end" class="tk">20</text>
<text x="134.7" y="269.5" text-anchor="middle" class="tk">40</text>
<text x="44" y="178.3" text-anchor="end" class="tk">40</text>
<text x="177.5" y="269.5" text-anchor="middle" class="tk">60</text>
<text x="44" y="136.6" text-anchor="end" class="tk">60</text>
<text x="220.4" y="269.5" text-anchor="middle" class="tk">80</text>
<text x="44" y="94.9" text-anchor="end" class="tk">80</text>
<text x="263.2" y="269.5" text-anchor="middle" class="tk">100</text>
<text x="44" y="53.3" text-anchor="end" class="tk">100</text>
<text x="306.0" y="269.5" text-anchor="middle" class="tk">120</text>
<text x="44" y="11.6" text-anchor="end" class="tk">120</text>
<text x="178.3" y="281.8" text-anchor="middle" class="lb" textLength="91.7" lengthAdjust="spacingAndGlyphs">Big H<tspan class="sub" dy="3.2">2</tspan><tspan dy="-3.2">O (ppmv)</tspan></text>
<text transform="translate(11.8 132.7) rotate(-90)" text-anchor="middle" class="lb" textLength="100.7" lengthAdjust="spacingAndGlyphs">Med. H<tspan class="sub" dy="3.2">2</tspan><tspan dy="-3.2">O (ppmv)</tspan></text>
<text x="49.1" y="570.5" text-anchor="middle" class="tk">0</text>
<text x="44" y="562.6" text-anchor="end" class="tk">0</text>
<text x="91.9" y="570.5" text-anchor="middle" class="tk">20</text>
<text x="44" y="520.9" text-anchor="end" class="tk">20</text>
<text x="134.7" y="570.5" text-anchor="middle" class="tk">40</text>
<text x="44" y="479.3" text-anchor="end" class="tk">40</text>
<text x="177.5" y="570.5" text-anchor="middle" class="tk">60</text>
<text x="44" y="437.6" text-anchor="end" class="tk">60</text>
<text x="220.4" y="570.5" text-anchor="middle" class="tk">80</text>
<text x="44" y="395.9" text-anchor="end" class="tk">80</text>
<text x="263.2" y="570.5" text-anchor="middle" class="tk">100</text>
<text x="44" y="354.3" text-anchor="end" class="tk">100</text>
<text x="306.0" y="570.5" text-anchor="middle" class="tk">120</text>
<text x="44" y="312.6" text-anchor="end" class="tk">120</text>
<text x="178.3" y="582.8" text-anchor="middle" class="lb" textLength="91.7" lengthAdjust="spacingAndGlyphs">Big H<tspan class="sub" dy="3.2">2</tspan><tspan dy="-3.2">O (ppmv)</tspan></text>
<text transform="translate(11.8 433.7) rotate(-90)" text-anchor="middle" class="lb" textLength="100.7" lengthAdjust="spacingAndGlyphs">Med. H<tspan class="sub" dy="3.2">2</tspan><tspan dy="-3.2">O (ppmv)</tspan></text>
<text x="62.3" y="36.7" class="pl" textLength="13.4" lengthAdjust="spacing">a)</text>
<text x="62.3" y="337.7" class="pl" textLength="13.4" lengthAdjust="spacing">b)</text>
<rect x="202" y="198.5" width="1.7" height="1.7" fill="#000"/>
<text x="208.3" y="203.3" class="lg" fill="#111" textLength="76.7" lengthAdjust="spacingAndGlyphs">SC, Uncorrected</text>
<rect x="202" y="212.3" width="1.7" height="1.7" fill="#0000ff"/>
<text x="208.3" y="216.8" class="lg" fill="#0000ff" textLength="65.2" lengthAdjust="spacingAndGlyphs">SC, Corrected</text>
<text x="209" y="229.7" class="lg" fill="#ff0000">Corrected Fit</text>
<text x="144.5" y="242.5" class="lg" fill="#ff0000" textLength="138.9" lengthAdjust="spacingAndGlyphs">Big = 1.02 * Med - 0.24 ppmv</text>
<rect x="245" y="498.8" width="1.7" height="1.7" fill="#008000"/>
<text x="252" y="502.8" class="lg" fill="#008000" textLength="32.7" lengthAdjust="spacingAndGlyphs">ACCLIP</text>
</svg></body></html>
